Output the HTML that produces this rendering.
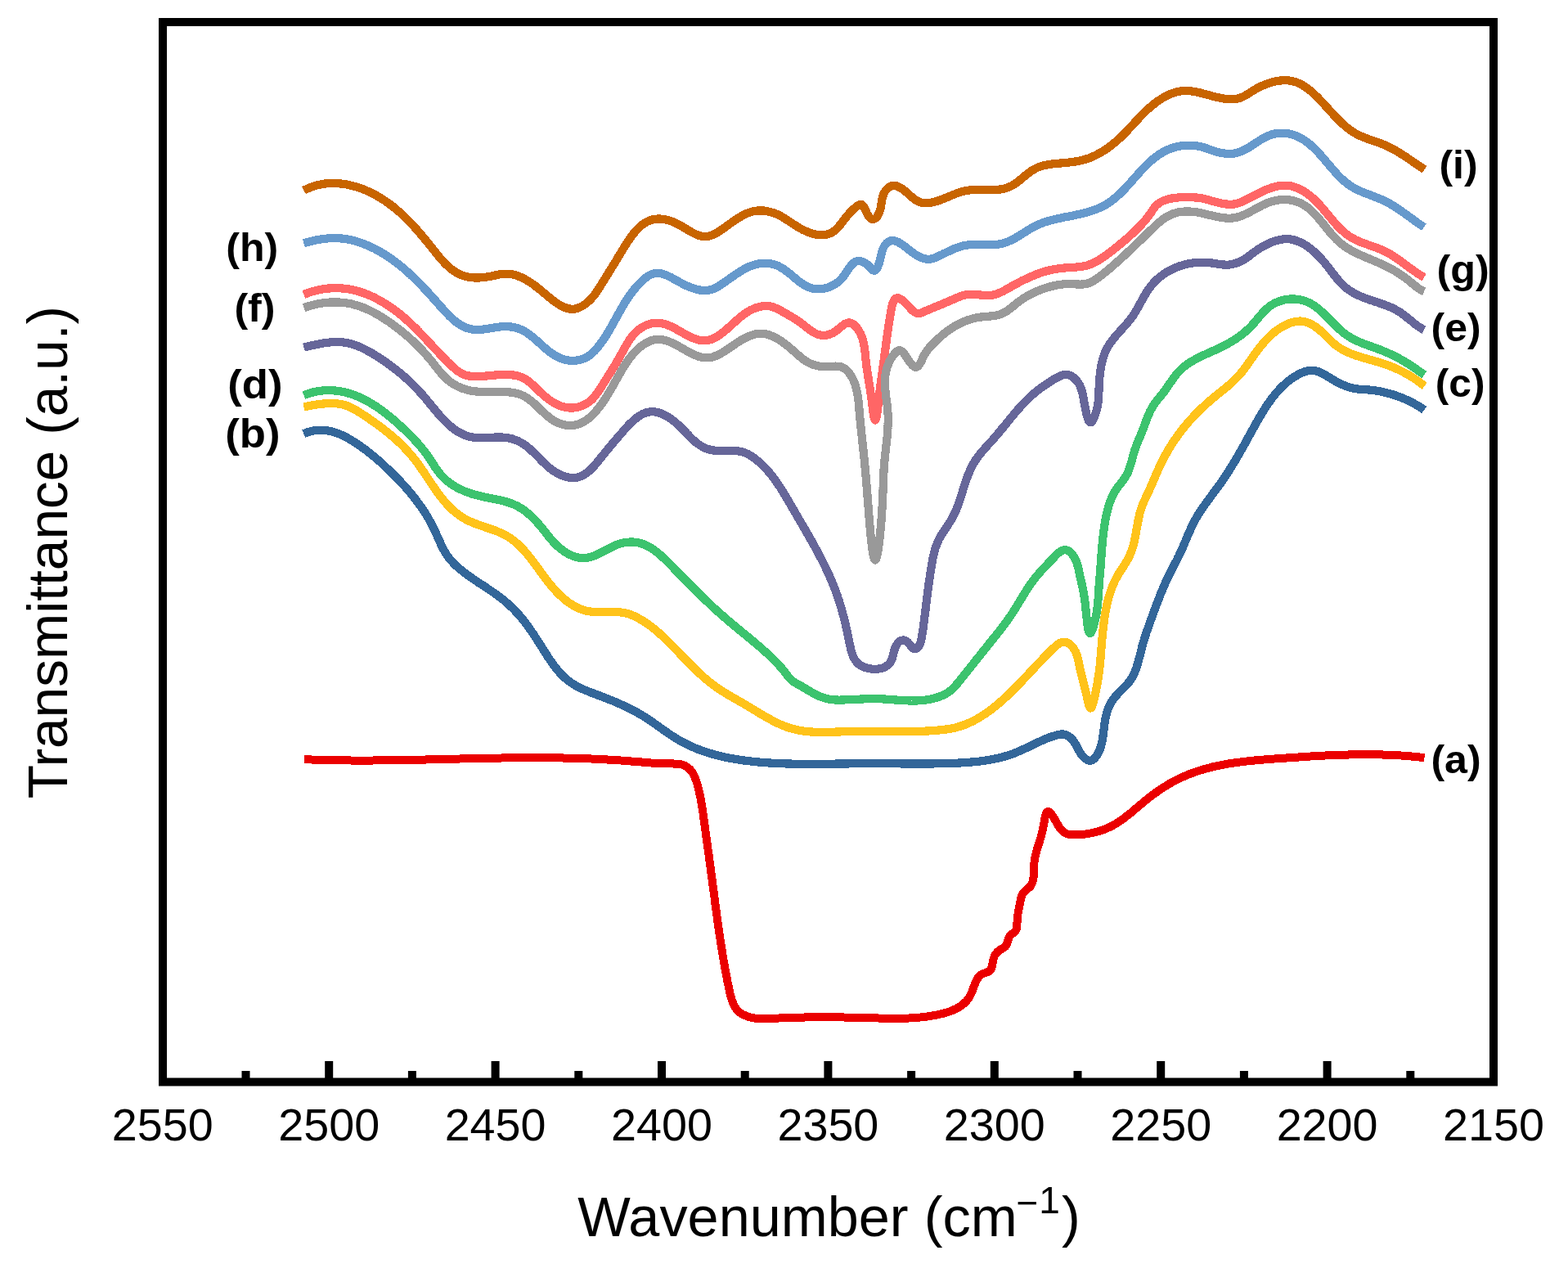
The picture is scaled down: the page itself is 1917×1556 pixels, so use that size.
<!DOCTYPE html>
<html><head><meta charset="utf-8"><title>FTIR spectra</title>
<style>html,body{margin:0;padding:0;background:#fff;}svg{display:block;}</style></head>
<body><svg width="1917" height="1556" viewBox="0 0 1917 1556">
<rect width="1917" height="1556" fill="#fff"/>
<g><path d="M372.1,928.1 L373.6,928.2 L375.1,928.3 L376.6,928.3 L378.1,928.4 L379.6,928.4 L381.1,928.5 L382.6,928.5 L384.1,928.6 L385.6,928.6 L387.1,928.7 L388.6,928.7 L390.1,928.8 L391.6,928.8 L393.1,928.9 L394.6,928.9 L396.1,928.9 L397.6,929.0 L399.1,929.0 L400.6,929.1 L402.1,929.1 L403.6,929.1 L405.1,929.1 L406.6,929.2 L408.1,929.2 L409.6,929.2 L411.1,929.3 L412.6,929.3 L414.1,929.3 L415.6,929.3 L417.1,929.3 L418.6,929.4 L420.1,929.4 L421.6,929.4 L423.1,929.4 L424.6,929.4 L426.1,929.4 L427.6,929.4 L429.1,929.5 L430.6,929.5 L432.1,929.5 L433.6,929.5 L435.1,929.5 L436.6,929.5 L438.1,929.5 L439.6,929.5 L441.1,929.5 L442.6,929.5 L444.1,929.5 L445.6,929.5 L447.1,929.5 L448.6,929.5 L450.1,929.5 L451.6,929.5 L453.1,929.5 L454.6,929.5 L456.1,929.5 L457.6,929.4 L459.1,929.4 L460.6,929.4 L462.1,929.4 L463.6,929.4 L465.1,929.4 L466.6,929.4 L468.1,929.4 L469.6,929.3 L471.1,929.3 L472.6,929.3 L474.1,929.3 L475.6,929.3 L477.1,929.3 L478.6,929.2 L480.1,929.2 L481.6,929.2 L483.1,929.2 L484.6,929.2 L486.1,929.1 L487.6,929.1 L489.1,929.1 L490.5,929.1 L492.0,929.0 L493.5,929.0 L495.0,929.0 L496.5,928.9 L498.0,928.9 L499.5,928.9 L501.0,928.9 L502.5,928.8 L504.0,928.8 L505.5,928.8 L507.0,928.7 L508.5,928.7 L510.0,928.7 L511.5,928.7 L513.0,928.6 L514.5,928.6 L516.0,928.6 L517.5,928.5 L519.0,928.5 L520.5,928.5 L522.0,928.4 L523.5,928.4 L525.0,928.4 L526.5,928.3 L528.0,928.3 L529.5,928.3 L531.0,928.2 L532.5,928.2 L534.0,928.1 L535.5,928.1 L537.0,928.1 L538.5,928.0 L540.0,928.0 L541.5,928.0 L542.9,927.9 L544.4,927.9 L545.9,927.9 L547.4,927.8 L548.9,927.8 L550.4,927.8 L551.9,927.7 L553.4,927.7 L554.9,927.7 L556.4,927.6 L557.9,927.6 L559.4,927.5 L560.9,927.5 L562.4,927.5 L563.9,927.4 L565.4,927.4 L566.9,927.4 L568.4,927.3 L569.9,927.3 L571.4,927.3 L572.9,927.2 L574.4,927.2 L575.9,927.2 L577.4,927.1 L578.9,927.1 L580.4,927.1 L581.9,927.0 L583.4,927.0 L584.9,927.0 L586.4,926.9 L587.9,926.9 L589.4,926.9 L590.9,926.9 L592.3,926.8 L593.8,926.8 L595.3,926.8 L596.8,926.7 L598.3,926.7 L599.8,926.7 L601.3,926.7 L602.8,926.6 L604.3,926.6 L605.8,926.6 L607.3,926.6 L608.8,926.5 L610.3,926.5 L611.8,926.5 L613.3,926.5 L614.8,926.4 L616.3,926.4 L617.8,926.4 L619.3,926.4 L620.8,926.4 L622.3,926.3 L623.8,926.3 L625.3,926.3 L626.8,926.3 L628.3,926.3 L629.8,926.3 L631.3,926.2 L632.8,926.2 L634.3,926.2 L635.8,926.2 L637.3,926.2 L638.8,926.2 L640.3,926.2 L641.8,926.2 L643.3,926.2 L644.8,926.2 L646.3,926.2 L647.8,926.2 L649.3,926.2 L650.8,926.2 L652.3,926.2 L653.8,926.2 L655.3,926.2 L656.8,926.2 L658.3,926.2 L659.8,926.2 L661.3,926.2 L662.8,926.2 L664.2,926.2 L665.7,926.2 L667.2,926.2 L668.7,926.2 L670.2,926.2 L671.7,926.2 L673.2,926.2 L674.7,926.3 L676.2,926.3 L677.7,926.3 L679.2,926.3 L680.7,926.3 L682.2,926.4 L683.7,926.4 L685.2,926.4 L686.7,926.4 L688.2,926.5 L689.7,926.5 L691.2,926.5 L692.7,926.6 L694.2,926.6 L695.7,926.6 L697.2,926.7 L698.7,926.7 L700.2,926.7 L701.7,926.8 L703.2,926.8 L704.7,926.9 L706.2,926.9 L707.7,926.9 L709.2,927.0 L710.8,927.0 L712.3,927.1 L713.8,927.1 L715.3,927.2 L716.8,927.3 L718.3,927.3 L719.8,927.4 L721.3,927.4 L722.8,927.5 L724.3,927.6 L725.8,927.6 L727.3,927.7 L728.8,927.8 L730.3,927.8 L731.8,927.9 L733.3,928.0 L734.8,928.1 L736.3,928.1 L737.8,928.2 L739.3,928.3 L740.8,928.4 L742.3,928.5 L743.8,928.6 L745.3,928.6 L746.8,928.7 L748.3,928.8 L749.8,928.9 L751.3,929.0 L752.8,929.1 L754.3,929.2 L755.8,929.3 L757.3,929.4 L758.8,929.5 L760.3,929.6 L761.8,929.8 L763.3,929.9 L764.8,930.0 L766.4,930.1 L767.9,930.2 L769.4,930.3 L770.9,930.4 L772.3,930.6 L773.8,930.7 L775.3,930.8 L776.8,930.9 L778.3,931.1 L779.8,931.2 L781.3,931.3 L782.8,931.4 L784.2,931.5 L785.7,931.7 L787.2,931.8 L788.6,931.9 L790.1,932.0 L791.6,932.1 L793.0,932.2 L794.5,932.4 L795.9,932.5 L797.4,932.6 L798.8,932.7 L800.3,932.8 L801.8,932.9 L803.2,933.0 L804.7,933.0 L806.2,933.1 L807.7,933.2 L809.2,933.2 L810.7,933.3 L812.3,933.3 L813.8,933.4 L815.4,933.4 L817.0,933.4 L818.5,933.4 L820.2,933.4 L821.8,933.4 L823.4,933.5 L824.9,933.5 L826.5,933.6 L828.1,933.7 L829.6,933.9 L831.1,934.1 L832.6,934.4 L834.0,934.7 L835.3,935.2 L836.6,935.7 L837.9,936.2 L839.1,936.9 L840.2,937.7 L841.3,938.5 L842.3,939.4 L843.3,940.3 L844.2,941.3 L845.1,942.4 L845.9,943.5 L846.7,944.7 L847.4,946.0 L848.1,947.3 L848.8,948.6 L849.4,949.9 L850.0,951.3 L850.6,952.8 L851.1,954.2 L851.6,955.7 L852.1,957.2 L852.6,958.7 L853.0,960.3 L853.4,961.8 L853.8,963.4 L854.2,964.9 L854.5,966.5 L854.9,968.0 L855.2,969.5 L855.5,971.1 L855.9,972.6 L856.2,974.1 L856.5,975.6 L856.7,977.1 L857.0,978.6 L857.3,980.1 L857.6,981.6 L857.8,983.0 L858.1,984.5 L858.3,986.0 L858.5,987.5 L858.8,988.9 L859.0,990.4 L859.2,991.8 L859.4,993.3 L859.6,994.7 L859.8,996.2 L860.0,997.6 L860.2,999.1 L860.4,1000.5 L860.6,1002.0 L860.8,1003.4 L861.0,1004.9 L861.2,1006.3 L861.4,1007.8 L861.6,1009.2 L861.8,1010.7 L862.0,1012.2 L862.2,1013.6 L862.4,1015.1 L862.6,1016.6 L862.8,1018.0 L863.0,1019.5 L863.2,1021.0 L863.4,1022.5 L863.6,1023.9 L863.8,1025.4 L864.0,1026.9 L864.2,1028.4 L864.4,1029.9 L864.6,1031.4 L864.8,1032.8 L865.0,1034.3 L865.2,1035.8 L865.4,1037.3 L865.6,1038.8 L865.8,1040.3 L866.0,1041.8 L866.2,1043.3 L866.5,1044.8 L866.7,1046.3 L866.9,1047.8 L867.1,1049.3 L867.3,1050.8 L867.5,1052.3 L867.7,1053.8 L867.9,1055.3 L868.1,1056.8 L868.3,1058.3 L868.5,1059.8 L868.7,1061.3 L868.9,1062.8 L869.1,1064.3 L869.3,1065.8 L869.5,1067.3 L869.7,1068.8 L869.9,1070.3 L870.1,1071.8 L870.3,1073.3 L870.5,1074.8 L870.7,1076.3 L870.9,1077.8 L871.1,1079.3 L871.3,1080.8 L871.5,1082.3 L871.7,1083.8 L871.9,1085.3 L872.1,1086.7 L872.3,1088.2 L872.5,1089.7 L872.7,1091.2 L872.9,1092.7 L873.1,1094.2 L873.3,1095.7 L873.5,1097.1 L873.7,1098.6 L873.8,1100.1 L874.0,1101.6 L874.2,1103.0 L874.4,1104.5 L874.6,1106.0 L874.8,1107.5 L875.0,1108.9 L875.2,1110.4 L875.4,1111.9 L875.6,1113.4 L875.8,1114.8 L876.0,1116.3 L876.2,1117.8 L876.4,1119.3 L876.6,1120.7 L876.8,1122.2 L877.0,1123.7 L877.2,1125.1 L877.4,1126.6 L877.6,1128.1 L877.8,1129.5 L878.0,1131.0 L878.2,1132.5 L878.4,1134.0 L878.7,1135.4 L878.9,1136.9 L879.1,1138.4 L879.3,1139.8 L879.5,1141.3 L879.7,1142.8 L879.9,1144.2 L880.2,1145.7 L880.4,1147.2 L880.6,1148.6 L880.8,1150.1 L881.0,1151.6 L881.3,1153.1 L881.5,1154.5 L881.7,1156.0 L882.0,1157.5 L882.2,1159.0 L882.4,1160.4 L882.7,1161.9 L882.9,1163.4 L883.1,1164.9 L883.4,1166.3 L883.6,1167.8 L883.9,1169.3 L884.1,1170.8 L884.4,1172.3 L884.6,1173.7 L884.9,1175.2 L885.1,1176.7 L885.4,1178.2 L885.7,1179.7 L885.9,1181.2 L886.2,1182.6 L886.5,1184.1 L886.7,1185.6 L887.0,1187.1 L887.3,1188.6 L887.6,1190.1 L887.9,1191.6 L888.2,1193.1 L888.5,1194.6 L888.7,1196.1 L889.0,1197.6 L889.3,1199.1 L889.6,1200.6 L890.0,1202.1 L890.3,1203.6 L890.6,1205.1 L890.9,1206.6 L891.2,1208.2 L891.5,1209.7 L891.9,1211.2 L892.2,1212.7 L892.5,1214.2 L892.9,1215.7 L893.3,1217.2 L893.7,1218.7 L894.1,1220.1 L894.5,1221.6 L895.0,1223.0 L895.5,1224.4 L896.1,1225.8 L896.6,1227.1 L897.3,1228.4 L897.9,1229.7 L898.7,1230.9 L899.4,1232.1 L900.3,1233.3 L901.2,1234.4 L902.1,1235.4 L903.1,1236.4 L904.2,1237.3 L905.4,1238.2 L906.6,1239.0 L907.9,1239.8 L909.2,1240.5 L910.6,1241.1 L912.0,1241.7 L913.4,1242.3 L914.9,1242.7 L916.3,1243.2 L917.8,1243.6 L919.3,1243.9 L920.8,1244.2 L922.2,1244.5 L923.7,1244.7 L925.2,1244.9 L926.7,1245.0 L928.2,1245.1 L929.6,1245.2 L931.1,1245.2 L932.6,1245.3 L934.1,1245.3 L935.6,1245.3 L937.1,1245.2 L938.6,1245.2 L940.1,1245.1 L941.6,1245.1 L943.1,1245.0 L944.6,1244.9 L946.1,1244.8 L947.7,1244.8 L949.2,1244.7 L950.7,1244.6 L952.2,1244.5 L953.7,1244.4 L955.2,1244.4 L956.7,1244.3 L958.2,1244.2 L959.7,1244.2 L961.2,1244.1 L962.7,1244.1 L964.2,1244.0 L965.7,1243.9 L967.2,1243.9 L968.7,1243.8 L970.2,1243.8 L971.7,1243.7 L973.2,1243.7 L974.8,1243.7 L976.3,1243.6 L977.8,1243.6 L979.3,1243.6 L980.8,1243.5 L982.3,1243.5 L983.8,1243.5 L985.3,1243.4 L986.8,1243.4 L988.3,1243.4 L989.8,1243.4 L991.3,1243.3 L992.8,1243.3 L994.3,1243.3 L995.8,1243.3 L997.3,1243.3 L998.8,1243.3 L1000.3,1243.3 L1001.8,1243.3 L1003.3,1243.3 L1004.8,1243.3 L1006.4,1243.3 L1007.9,1243.3 L1009.4,1243.3 L1010.9,1243.3 L1012.4,1243.3 L1013.9,1243.3 L1015.4,1243.3 L1016.9,1243.3 L1018.4,1243.3 L1019.9,1243.3 L1021.4,1243.3 L1022.9,1243.3 L1024.4,1243.4 L1025.9,1243.4 L1027.4,1243.4 L1028.9,1243.4 L1030.4,1243.4 L1031.9,1243.5 L1033.4,1243.5 L1034.9,1243.5 L1036.4,1243.5 L1037.9,1243.6 L1039.4,1243.6 L1040.9,1243.6 L1042.4,1243.7 L1043.9,1243.7 L1045.4,1243.7 L1046.9,1243.8 L1048.4,1243.8 L1049.9,1243.8 L1051.4,1243.9 L1052.9,1243.9 L1054.4,1243.9 L1055.9,1244.0 L1057.4,1244.0 L1058.8,1244.0 L1060.3,1244.1 L1061.8,1244.1 L1063.3,1244.2 L1064.8,1244.2 L1066.3,1244.3 L1067.8,1244.3 L1069.3,1244.3 L1070.8,1244.4 L1072.3,1244.4 L1073.8,1244.5 L1075.3,1244.5 L1076.8,1244.5 L1078.3,1244.6 L1079.7,1244.6 L1081.2,1244.6 L1082.7,1244.7 L1084.2,1244.7 L1085.7,1244.7 L1087.2,1244.8 L1088.7,1244.8 L1090.2,1244.8 L1091.7,1244.8 L1093.2,1244.8 L1094.6,1244.8 L1096.1,1244.8 L1097.6,1244.8 L1099.1,1244.8 L1100.6,1244.8 L1102.1,1244.8 L1103.6,1244.7 L1105.1,1244.7 L1106.6,1244.6 L1108.0,1244.6 L1109.5,1244.5 L1111.0,1244.5 L1112.5,1244.4 L1114.0,1244.3 L1115.5,1244.2 L1117.0,1244.2 L1118.5,1244.1 L1120.0,1243.9 L1121.5,1243.8 L1123.0,1243.7 L1124.4,1243.6 L1125.9,1243.4 L1127.4,1243.3 L1128.9,1243.1 L1130.4,1242.9 L1131.9,1242.7 L1133.4,1242.5 L1134.9,1242.3 L1136.4,1242.1 L1137.9,1241.8 L1139.4,1241.6 L1140.9,1241.3 L1142.4,1241.1 L1143.9,1240.8 L1145.4,1240.5 L1146.9,1240.2 L1148.4,1239.8 L1149.9,1239.5 L1151.3,1239.1 L1152.8,1238.8 L1154.3,1238.4 L1155.8,1238.0 L1157.3,1237.5 L1158.7,1237.1 L1160.1,1236.6 L1161.6,1236.1 L1163.0,1235.6 L1164.4,1235.0 L1165.8,1234.4 L1167.1,1233.8 L1168.4,1233.2 L1169.8,1232.5 L1171.0,1231.8 L1172.3,1231.1 L1173.5,1230.3 L1174.7,1229.5 L1175.9,1228.6 L1177.1,1227.7 L1178.2,1226.8 L1179.2,1225.8 L1180.3,1224.8 L1181.3,1223.8 L1182.2,1222.7 L1183.1,1221.5 L1184.0,1220.3 L1184.8,1219.1 L1185.6,1217.8 L1186.3,1216.5 L1187.0,1215.1 L1187.7,1213.7 L1188.3,1212.2 L1188.9,1210.7 L1189.4,1209.2 L1190.0,1207.7 L1190.6,1206.2 L1191.1,1204.7 L1191.7,1203.3 L1192.3,1201.8 L1192.9,1200.4 L1193.5,1199.0 L1194.2,1197.7 L1195.0,1196.4 L1195.7,1195.2 L1196.6,1194.1 L1197.5,1193.1 L1198.5,1192.2 L1199.6,1191.4 L1200.8,1190.6 L1202.1,1190.0 L1203.4,1189.5 L1204.8,1189.1 L1206.2,1188.6 L1207.5,1188.1 L1208.7,1187.5 L1209.8,1186.8 L1210.6,1185.8 L1211.4,1184.8 L1212.0,1183.5 L1212.4,1182.2 L1212.8,1180.8 L1213.2,1179.3 L1213.5,1177.8 L1213.8,1176.2 L1214.1,1174.6 L1214.4,1173.0 L1214.8,1171.5 L1215.3,1170.0 L1215.9,1168.5 L1216.6,1167.2 L1217.5,1165.9 L1218.4,1164.7 L1219.4,1163.6 L1220.5,1162.6 L1221.7,1161.7 L1222.9,1160.9 L1224.2,1160.1 L1225.5,1159.4 L1226.8,1158.7 L1227.9,1157.9 L1229.0,1157.0 L1229.8,1155.9 L1230.5,1154.6 L1231.1,1153.3 L1231.6,1151.9 L1232.0,1150.4 L1232.5,1149.0 L1232.9,1147.5 L1233.4,1146.2 L1234.0,1144.9 L1234.7,1143.7 L1235.5,1142.7 L1236.6,1141.9 L1237.7,1141.2 L1238.9,1140.5 L1240.0,1139.8 L1240.9,1138.9 L1241.6,1137.9 L1242.2,1136.8 L1242.6,1135.5 L1243.0,1134.1 L1243.2,1132.6 L1243.3,1131.1 L1243.4,1129.5 L1243.5,1127.9 L1243.6,1126.3 L1243.6,1124.7 L1243.7,1123.1 L1243.9,1121.6 L1244.0,1120.0 L1244.3,1118.5 L1244.5,1117.1 L1244.7,1115.6 L1245.0,1114.1 L1245.3,1112.7 L1245.6,1111.2 L1245.9,1109.7 L1246.2,1108.2 L1246.5,1106.7 L1246.8,1105.2 L1247.1,1103.7 L1247.4,1102.1 L1247.7,1100.6 L1248.0,1099.0 L1248.4,1097.5 L1248.8,1096.0 L1249.3,1094.6 L1249.9,1093.3 L1250.6,1092.0 L1251.4,1090.8 L1252.3,1089.8 L1253.3,1088.8 L1254.5,1087.9 L1255.6,1087.0 L1256.7,1086.1 L1257.9,1085.2 L1258.9,1084.2 L1259.8,1083.2 L1260.6,1082.0 L1261.3,1080.8 L1261.9,1079.5 L1262.4,1078.1 L1262.8,1076.6 L1263.1,1075.1 L1263.4,1073.6 L1263.6,1072.0 L1263.7,1070.4 L1263.8,1068.7 L1263.9,1067.0 L1264.0,1065.4 L1264.0,1063.7 L1264.0,1062.0 L1264.1,1060.4 L1264.2,1058.7 L1264.3,1057.1 L1264.4,1055.6 L1264.5,1054.1 L1264.7,1052.6 L1264.9,1051.1 L1265.2,1049.7 L1265.4,1048.3 L1265.7,1046.9 L1266.0,1045.5 L1266.3,1044.2 L1266.6,1042.8 L1267.0,1041.5 L1267.4,1040.1 L1267.7,1038.8 L1268.1,1037.5 L1268.5,1036.2 L1269.0,1034.8 L1269.4,1033.5 L1269.8,1032.1 L1270.2,1030.8 L1270.7,1029.4 L1271.1,1028.0 L1271.5,1026.5 L1272.0,1025.1 L1272.4,1023.6 L1272.8,1022.1 L1273.3,1020.6 L1273.7,1019.0 L1274.1,1017.4 L1274.5,1015.7 L1274.9,1014.0 L1275.2,1012.2 L1275.6,1010.4 L1275.9,1008.5 L1276.2,1006.6 L1276.6,1004.7 L1276.9,1002.8 L1277.2,1001.0 L1277.5,999.2 L1277.9,997.6 L1278.3,996.1 L1278.7,994.8 L1279.2,993.7 L1279.7,992.8 L1280.3,992.2 L1281.0,991.9 L1281.7,991.9 L1282.5,992.2 L1283.3,992.9 L1284.2,993.8 L1285.2,994.9 L1286.1,996.2 L1287.0,997.5 L1287.9,998.8 L1288.7,1000.2 L1289.6,1001.6 L1290.4,1003.1 L1291.2,1004.5 L1292.0,1005.9 L1292.8,1007.3 L1293.6,1008.7 L1294.5,1010.0 L1295.3,1011.3 L1296.2,1012.6 L1297.2,1013.7 L1298.1,1014.8 L1299.1,1015.9 L1300.2,1016.8 L1301.3,1017.6 L1302.5,1018.4 L1303.7,1019.0 L1305.0,1019.5 L1306.4,1019.8 L1307.8,1020.1 L1309.3,1020.3 L1310.8,1020.4 L1312.3,1020.4 L1313.9,1020.4 L1315.4,1020.4 L1317.0,1020.3 L1318.5,1020.3 L1320.1,1020.2 L1321.6,1020.0 L1323.2,1019.9 L1324.7,1019.7 L1326.2,1019.6 L1327.8,1019.4 L1329.3,1019.1 L1330.8,1018.9 L1332.3,1018.6 L1333.8,1018.4 L1335.2,1018.0 L1336.7,1017.7 L1338.2,1017.4 L1339.7,1017.0 L1341.1,1016.6 L1342.6,1016.2 L1344.0,1015.8 L1345.4,1015.4 L1346.8,1014.9 L1348.2,1014.4 L1349.6,1013.9 L1351.0,1013.3 L1352.4,1012.8 L1353.7,1012.2 L1355.1,1011.6 L1356.4,1011.0 L1357.8,1010.4 L1359.1,1009.7 L1360.4,1009.0 L1361.7,1008.3 L1362.9,1007.6 L1364.2,1006.8 L1365.5,1006.1 L1366.7,1005.3 L1368.0,1004.5 L1369.2,1003.6 L1370.4,1002.8 L1371.6,1002.0 L1372.8,1001.1 L1374.0,1000.2 L1375.2,999.3 L1376.4,998.4 L1377.5,997.5 L1378.7,996.6 L1379.9,995.7 L1381.0,994.7 L1382.2,993.8 L1383.4,992.8 L1384.5,991.8 L1385.7,990.9 L1386.8,989.9 L1388.0,988.9 L1389.1,988.0 L1390.3,987.0 L1391.4,986.0 L1392.6,985.0 L1393.7,984.0 L1394.9,983.1 L1396.0,982.1 L1397.2,981.1 L1398.4,980.2 L1399.5,979.2 L1400.7,978.2 L1401.9,977.3 L1403.1,976.3 L1404.3,975.4 L1405.4,974.5 L1406.6,973.5 L1407.9,972.6 L1409.1,971.7 L1410.3,970.8 L1411.5,969.9 L1412.7,969.0 L1414.0,968.2 L1415.2,967.3 L1416.4,966.4 L1417.7,965.6 L1418.9,964.8 L1420.2,963.9 L1421.5,963.1 L1422.7,962.3 L1424.0,961.5 L1425.3,960.7 L1426.6,959.9 L1427.9,959.1 L1429.1,958.4 L1430.4,957.6 L1431.7,956.9 L1433.0,956.1 L1434.4,955.4 L1435.7,954.7 L1437.0,954.0 L1438.3,953.3 L1439.6,952.7 L1441.0,952.0 L1442.3,951.3 L1443.7,950.7 L1445.0,950.1 L1446.4,949.5 L1447.7,948.9 L1449.1,948.3 L1450.4,947.7 L1451.8,947.1 L1453.2,946.6 L1454.6,946.0 L1456.0,945.5 L1457.3,945.0 L1458.7,944.5 L1460.1,944.0 L1461.5,943.5 L1462.9,943.0 L1464.3,942.5 L1465.7,942.1 L1467.1,941.6 L1468.6,941.2 L1470.0,940.8 L1471.4,940.3 L1472.8,939.9 L1474.2,939.5 L1475.7,939.2 L1477.1,938.8 L1478.6,938.4 L1480.0,938.0 L1481.4,937.7 L1482.9,937.3 L1484.3,937.0 L1485.8,936.7 L1487.2,936.3 L1488.7,936.0 L1490.1,935.7 L1491.6,935.4 L1493.1,935.1 L1494.5,934.8 L1496.0,934.6 L1497.5,934.3 L1499.0,934.0 L1500.4,933.8 L1501.9,933.5 L1503.4,933.3 L1504.9,933.1 L1506.3,932.8 L1507.8,932.6 L1509.3,932.4 L1510.8,932.2 L1512.3,932.0 L1513.8,931.8 L1515.3,931.6 L1516.8,931.4 L1518.3,931.2 L1519.8,931.0 L1521.3,930.8 L1522.8,930.6 L1524.3,930.5 L1525.8,930.3 L1527.3,930.1 L1528.8,930.0 L1530.3,929.8 L1531.8,929.7 L1533.3,929.5 L1534.8,929.4 L1536.3,929.3 L1537.8,929.1 L1539.3,929.0 L1540.8,928.9 L1542.3,928.7 L1543.8,928.6 L1545.3,928.5 L1546.9,928.4 L1548.4,928.2 L1549.9,928.1 L1551.4,928.0 L1552.9,927.9 L1554.4,927.8 L1555.9,927.7 L1557.4,927.6 L1558.9,927.4 L1560.4,927.3 L1561.9,927.2 L1563.4,927.1 L1565.0,927.0 L1566.5,926.9 L1568.0,926.8 L1569.5,926.7 L1571.0,926.6 L1572.5,926.5 L1574.0,926.4 L1575.5,926.3 L1577.0,926.2 L1578.5,926.1 L1580.0,926.0 L1581.5,925.9 L1583.0,925.8 L1584.5,925.7 L1586.0,925.6 L1587.5,925.5 L1589.0,925.4 L1590.5,925.3 L1592.0,925.2 L1593.5,925.1 L1595.0,925.0 L1596.5,924.9 L1598.0,924.8 L1599.4,924.7 L1600.9,924.6 L1602.4,924.5 L1603.9,924.4 L1605.4,924.3 L1606.9,924.2 L1608.4,924.2 L1609.9,924.1 L1611.4,924.0 L1612.9,923.9 L1614.4,923.8 L1615.9,923.7 L1617.4,923.7 L1618.8,923.6 L1620.3,923.5 L1621.8,923.4 L1623.3,923.4 L1624.8,923.3 L1626.3,923.2 L1627.8,923.2 L1629.3,923.1 L1630.8,923.0 L1632.2,923.0 L1633.7,922.9 L1635.2,922.9 L1636.7,922.8 L1638.2,922.8 L1639.7,922.7 L1641.2,922.7 L1642.7,922.6 L1644.2,922.6 L1645.6,922.5 L1647.1,922.5 L1648.6,922.5 L1650.1,922.4 L1651.6,922.4 L1653.1,922.4 L1654.6,922.3 L1656.1,922.3 L1657.6,922.3 L1659.0,922.3 L1660.5,922.2 L1662.0,922.2 L1663.5,922.2 L1665.0,922.2 L1666.5,922.2 L1668.0,922.2 L1669.5,922.2 L1671.0,922.2 L1672.5,922.2 L1673.9,922.2 L1675.4,922.2 L1676.9,922.2 L1678.4,922.2 L1679.9,922.3 L1681.4,922.3 L1682.9,922.3 L1684.4,922.3 L1685.9,922.4 L1687.4,922.4 L1688.9,922.4 L1690.4,922.5 L1691.9,922.5 L1693.4,922.6 L1694.8,922.6 L1696.3,922.7 L1697.8,922.7 L1699.3,922.8 L1700.8,922.9 L1702.3,922.9 L1703.8,923.0 L1705.3,923.1 L1706.8,923.2 L1708.3,923.2 L1709.8,923.3 L1711.3,923.4 L1712.8,923.5 L1714.3,923.6 L1715.8,923.7 L1717.3,923.8 L1718.8,923.9 L1720.3,924.1 L1721.8,924.2 L1723.4,924.3 L1724.9,924.4 L1726.4,924.6 L1727.9,924.7 L1729.4,924.8 L1730.9,925.0 L1732.4,925.1 L1733.9,925.3 L1735.4,925.5 L1736.9,925.6 L1738.4,925.8 L1740.0,926.0 L1741.5,926.1" stroke="#EB0000" stroke-width="10" fill="none" stroke-linejoin="round" shape-rendering="crispEdges"/><path d="M371.3,530.2 L372.9,529.5 L374.5,528.9 L376.0,528.3 L377.6,527.8 L379.1,527.4 L380.6,527.0 L382.1,526.6 L383.6,526.3 L385.2,526.1 L386.7,525.9 L388.2,525.8 L389.6,525.7 L391.1,525.6 L392.6,525.6 L394.1,525.6 L395.5,525.7 L397.0,525.9 L398.4,526.0 L399.9,526.2 L401.3,526.5 L402.7,526.7 L404.2,527.1 L405.6,527.4 L407.0,527.8 L408.4,528.2 L409.8,528.7 L411.2,529.1 L412.5,529.6 L413.9,530.2 L415.3,530.7 L416.6,531.3 L418.0,531.9 L419.3,532.6 L420.7,533.2 L422.0,533.9 L423.3,534.6 L424.7,535.3 L426.0,536.0 L427.3,536.8 L428.6,537.5 L429.9,538.3 L431.2,539.1 L432.4,539.9 L433.7,540.7 L435.0,541.5 L436.2,542.3 L437.5,543.2 L438.7,544.0 L440.0,544.9 L441.2,545.7 L442.4,546.6 L443.6,547.5 L444.9,548.4 L446.1,549.3 L447.3,550.2 L448.5,551.1 L449.6,552.0 L450.8,552.9 L452.0,553.9 L453.2,554.8 L454.4,555.7 L455.5,556.7 L456.7,557.7 L457.8,558.6 L459.0,559.6 L460.1,560.6 L461.3,561.6 L462.4,562.5 L463.5,563.5 L464.7,564.5 L465.8,565.5 L466.9,566.5 L468.0,567.6 L469.1,568.6 L470.2,569.6 L471.3,570.6 L472.4,571.7 L473.5,572.7 L474.6,573.7 L475.7,574.8 L476.8,575.8 L477.8,576.9 L478.9,577.9 L480.0,579.0 L481.1,580.0 L482.1,581.1 L483.2,582.1 L484.2,583.2 L485.3,584.3 L486.3,585.4 L487.4,586.4 L488.4,587.5 L489.4,588.6 L490.5,589.7 L491.5,590.8 L492.5,591.9 L493.5,593.0 L494.5,594.1 L495.5,595.2 L496.5,596.4 L497.5,597.5 L498.5,598.6 L499.4,599.8 L500.4,600.9 L501.4,602.0 L502.3,603.2 L503.3,604.3 L504.2,605.5 L505.1,606.7 L506.1,607.8 L507.0,609.0 L507.9,610.2 L508.8,611.4 L509.7,612.6 L510.6,613.8 L511.5,615.0 L512.4,616.2 L513.2,617.4 L514.1,618.6 L514.9,619.8 L515.8,621.1 L516.6,622.3 L517.4,623.5 L518.3,624.8 L519.1,626.0 L519.9,627.3 L520.7,628.6 L521.5,629.8 L522.2,631.1 L523.0,632.4 L523.8,633.7 L524.5,635.0 L525.2,636.3 L526.0,637.6 L526.7,638.9 L527.4,640.3 L528.1,641.6 L528.8,642.9 L529.5,644.3 L530.1,645.6 L530.8,647.0 L531.5,648.4 L532.1,649.7 L532.7,651.1 L533.3,652.5 L534.0,653.9 L534.6,655.3 L535.2,656.7 L535.8,658.1 L536.4,659.5 L537.0,660.8 L537.7,662.2 L538.3,663.6 L538.9,665.0 L539.6,666.3 L540.2,667.7 L540.9,669.1 L541.6,670.4 L542.3,671.7 L543.0,673.0 L543.8,674.3 L544.5,675.6 L545.3,676.9 L546.1,678.1 L547.0,679.4 L547.8,680.6 L548.7,681.7 L549.7,682.9 L550.6,684.1 L551.6,685.2 L552.6,686.3 L553.6,687.4 L554.6,688.5 L555.7,689.6 L556.8,690.6 L557.8,691.6 L559.0,692.7 L560.1,693.7 L561.2,694.7 L562.4,695.6 L563.5,696.6 L564.7,697.5 L565.9,698.5 L567.1,699.4 L568.3,700.3 L569.5,701.2 L570.7,702.1 L571.9,703.0 L573.1,703.9 L574.4,704.8 L575.6,705.6 L576.8,706.5 L578.1,707.4 L579.3,708.2 L580.5,709.0 L581.8,709.9 L583.0,710.7 L584.3,711.5 L585.5,712.4 L586.8,713.2 L588.0,714.0 L589.3,714.8 L590.5,715.6 L591.8,716.5 L593.0,717.3 L594.2,718.1 L595.5,718.9 L596.7,719.8 L598.0,720.6 L599.2,721.4 L600.4,722.3 L601.7,723.1 L602.9,723.9 L604.1,724.8 L605.3,725.7 L606.6,726.5 L607.8,727.4 L609.0,728.3 L610.2,729.2 L611.4,730.1 L612.6,731.0 L613.7,731.9 L614.9,732.9 L616.1,733.8 L617.2,734.8 L618.4,735.8 L619.5,736.7 L620.7,737.7 L621.8,738.8 L622.9,739.8 L624.0,740.8 L625.1,741.9 L626.2,742.9 L627.3,744.0 L628.4,745.1 L629.4,746.2 L630.5,747.3 L631.5,748.4 L632.6,749.5 L633.6,750.6 L634.6,751.7 L635.5,752.9 L636.5,754.0 L637.5,755.2 L638.4,756.3 L639.4,757.5 L640.3,758.6 L641.2,759.8 L642.1,761.0 L643.0,762.2 L643.9,763.4 L644.8,764.6 L645.6,765.8 L646.5,767.0 L647.4,768.2 L648.2,769.4 L649.1,770.6 L649.9,771.8 L650.7,773.1 L651.6,774.3 L652.4,775.5 L653.2,776.8 L654.0,778.0 L654.8,779.3 L655.7,780.5 L656.5,781.8 L657.3,783.0 L658.1,784.3 L658.9,785.6 L659.7,786.8 L660.5,788.1 L661.3,789.4 L662.1,790.6 L662.9,791.9 L663.7,793.2 L664.5,794.4 L665.3,795.7 L666.1,797.0 L666.9,798.3 L667.8,799.6 L668.6,800.8 L669.4,802.1 L670.2,803.4 L671.1,804.7 L671.9,805.9 L672.8,807.2 L673.7,808.4 L674.5,809.7 L675.4,810.9 L676.3,812.1 L677.2,813.4 L678.1,814.6 L679.0,815.8 L679.9,816.9 L680.9,818.1 L681.8,819.3 L682.8,820.4 L683.8,821.5 L684.8,822.7 L685.8,823.7 L686.8,824.8 L687.9,825.9 L688.9,826.9 L690.0,827.9 L691.1,828.9 L692.2,829.9 L693.3,830.8 L694.5,831.8 L695.6,832.7 L696.8,833.5 L698.0,834.4 L699.3,835.2 L700.5,836.0 L701.8,836.8 L703.1,837.5 L704.4,838.3 L705.7,839.0 L707.0,839.7 L708.3,840.3 L709.7,841.0 L711.0,841.6 L712.4,842.3 L713.8,842.9 L715.2,843.5 L716.6,844.1 L718.0,844.6 L719.4,845.2 L720.8,845.8 L722.2,846.3 L723.7,846.9 L725.1,847.4 L726.5,848.0 L727.9,848.5 L729.4,849.0 L730.8,849.6 L732.2,850.1 L733.7,850.6 L735.1,851.1 L736.5,851.7 L737.9,852.2 L739.3,852.8 L740.7,853.3 L742.1,853.9 L743.5,854.4 L744.9,855.0 L746.3,855.5 L747.7,856.1 L749.0,856.6 L750.4,857.2 L751.8,857.8 L753.1,858.4 L754.5,859.0 L755.9,859.6 L757.2,860.1 L758.6,860.8 L759.9,861.4 L761.3,862.0 L762.6,862.6 L763.9,863.2 L765.3,863.9 L766.6,864.5 L767.9,865.1 L769.2,865.8 L770.6,866.5 L771.9,867.1 L773.2,867.8 L774.5,868.5 L775.8,869.2 L777.1,869.9 L778.4,870.6 L779.7,871.3 L781.0,872.1 L782.2,872.8 L783.5,873.6 L784.8,874.3 L786.1,875.1 L787.3,875.9 L788.6,876.7 L789.9,877.5 L791.1,878.3 L792.4,879.1 L793.6,879.9 L794.9,880.8 L796.1,881.6 L797.4,882.5 L798.6,883.4 L799.9,884.2 L801.1,885.1 L802.4,886.0 L803.6,886.9 L804.8,887.7 L806.1,888.6 L807.3,889.5 L808.6,890.4 L809.8,891.3 L811.0,892.2 L812.3,893.0 L813.5,893.9 L814.8,894.8 L816.0,895.7 L817.3,896.5 L818.6,897.4 L819.8,898.2 L821.1,899.1 L822.3,899.9 L823.6,900.7 L824.9,901.5 L826.2,902.3 L827.5,903.1 L828.8,903.9 L830.1,904.6 L831.4,905.4 L832.7,906.1 L834.0,906.8 L835.3,907.5 L836.6,908.2 L838.0,908.9 L839.3,909.6 L840.7,910.2 L842.0,910.9 L843.3,911.5 L844.7,912.1 L846.1,912.7 L847.4,913.3 L848.8,913.9 L850.2,914.5 L851.5,915.0 L852.9,915.6 L854.3,916.1 L855.7,916.6 L857.1,917.2 L858.5,917.7 L859.9,918.2 L861.3,918.6 L862.7,919.1 L864.1,919.6 L865.5,920.0 L867.0,920.5 L868.4,920.9 L869.8,921.3 L871.3,921.8 L872.7,922.2 L874.1,922.6 L875.6,922.9 L877.0,923.3 L878.5,923.7 L879.9,924.0 L881.4,924.4 L882.8,924.7 L884.3,925.1 L885.7,925.4 L887.2,925.7 L888.6,926.0 L890.1,926.3 L891.6,926.6 L893.1,926.9 L894.5,927.1 L896.0,927.4 L897.5,927.7 L899.0,927.9 L900.4,928.2 L901.9,928.4 L903.4,928.6 L904.9,928.9 L906.4,929.1 L907.9,929.3 L909.4,929.5 L910.9,929.7 L912.3,929.9 L913.8,930.1 L915.3,930.2 L916.8,930.4 L918.3,930.6 L919.8,930.7 L921.3,930.9 L922.8,931.0 L924.3,931.2 L925.8,931.3 L927.3,931.5 L928.8,931.6 L930.3,931.7 L931.8,931.8 L933.3,932.0 L934.8,932.1 L936.3,932.2 L937.8,932.3 L939.3,932.4 L940.8,932.5 L942.3,932.6 L943.8,932.6 L945.3,932.7 L946.8,932.8 L948.3,932.9 L949.8,933.0 L951.3,933.0 L952.8,933.1 L954.3,933.1 L955.8,933.2 L957.3,933.3 L958.8,933.3 L960.3,933.4 L961.8,933.4 L963.3,933.5 L964.8,933.5 L966.3,933.5 L967.8,933.6 L969.3,933.6 L970.8,933.6 L972.3,933.6 L973.8,933.7 L975.3,933.7 L976.8,933.7 L978.3,933.7 L979.8,933.7 L981.3,933.8 L982.8,933.8 L984.3,933.8 L985.8,933.8 L987.3,933.8 L988.8,933.8 L990.3,933.8 L991.8,933.8 L993.3,933.8 L994.8,933.8 L996.3,933.8 L997.8,933.8 L999.3,933.8 L1000.8,933.8 L1002.3,933.8 L1003.8,933.7 L1005.3,933.7 L1006.8,933.7 L1008.2,933.7 L1009.7,933.7 L1011.2,933.7 L1012.7,933.7 L1014.2,933.6 L1015.7,933.6 L1017.2,933.6 L1018.7,933.6 L1020.2,933.6 L1021.7,933.6 L1023.2,933.5 L1024.7,933.5 L1026.2,933.5 L1027.7,933.5 L1029.2,933.5 L1030.7,933.4 L1032.2,933.4 L1033.7,933.4 L1035.2,933.4 L1036.7,933.4 L1038.2,933.4 L1039.7,933.3 L1041.2,933.3 L1042.7,933.3 L1044.2,933.3 L1045.7,933.3 L1047.2,933.3 L1048.7,933.3 L1050.2,933.2 L1051.7,933.2 L1053.2,933.2 L1054.7,933.2 L1056.2,933.2 L1057.7,933.2 L1059.2,933.2 L1060.7,933.2 L1062.2,933.2 L1063.7,933.2 L1065.2,933.2 L1066.7,933.2 L1068.2,933.2 L1069.7,933.2 L1071.2,933.2 L1072.7,933.2 L1074.2,933.2 L1075.7,933.2 L1077.2,933.2 L1078.7,933.2 L1080.2,933.2 L1081.7,933.3 L1083.2,933.3 L1084.7,933.3 L1086.2,933.3 L1087.7,933.3 L1089.2,933.3 L1090.7,933.3 L1092.2,933.3 L1093.7,933.3 L1095.2,933.3 L1096.7,933.3 L1098.2,933.3 L1099.7,933.3 L1101.2,933.4 L1102.7,933.4 L1104.2,933.4 L1105.7,933.4 L1107.2,933.4 L1108.7,933.4 L1110.2,933.4 L1111.7,933.4 L1113.2,933.4 L1114.7,933.4 L1116.2,933.4 L1117.7,933.4 L1119.2,933.4 L1120.7,933.4 L1122.2,933.4 L1123.7,933.4 L1125.2,933.4 L1126.7,933.4 L1128.2,933.4 L1129.7,933.4 L1131.2,933.4 L1132.7,933.4 L1134.1,933.4 L1135.6,933.4 L1137.1,933.4 L1138.6,933.4 L1140.1,933.4 L1141.6,933.4 L1143.1,933.3 L1144.6,933.3 L1146.1,933.3 L1147.6,933.3 L1149.1,933.3 L1150.6,933.2 L1152.1,933.2 L1153.6,933.2 L1155.1,933.2 L1156.6,933.1 L1158.1,933.1 L1159.6,933.0 L1161.0,933.0 L1162.5,932.9 L1164.0,932.9 L1165.5,932.8 L1167.0,932.8 L1168.5,932.7 L1170.0,932.7 L1171.5,932.6 L1173.0,932.5 L1174.5,932.4 L1176.0,932.3 L1177.5,932.3 L1179.0,932.2 L1180.5,932.1 L1182.0,932.0 L1183.5,931.8 L1185.0,931.7 L1186.5,931.6 L1188.0,931.5 L1189.5,931.3 L1191.0,931.2 L1192.5,931.1 L1194.0,930.9 L1195.5,930.7 L1197.0,930.6 L1198.5,930.4 L1199.9,930.2 L1201.4,930.0 L1202.9,929.8 L1204.4,929.6 L1205.9,929.4 L1207.4,929.1 L1208.9,928.9 L1210.3,928.6 L1211.8,928.4 L1213.3,928.1 L1214.7,927.8 L1216.2,927.5 L1217.7,927.2 L1219.1,926.9 L1220.6,926.5 L1222.0,926.2 L1223.5,925.8 L1224.9,925.5 L1226.4,925.1 L1227.8,924.7 L1229.2,924.3 L1230.7,923.8 L1232.1,923.4 L1233.5,922.9 L1234.9,922.5 L1236.3,922.0 L1237.7,921.5 L1239.1,921.0 L1240.5,920.4 L1241.9,919.9 L1243.3,919.3 L1244.7,918.7 L1246.0,918.2 L1247.4,917.6 L1248.8,916.9 L1250.1,916.3 L1251.5,915.7 L1252.9,915.1 L1254.2,914.4 L1255.6,913.8 L1256.9,913.1 L1258.3,912.5 L1259.7,911.8 L1261.0,911.2 L1262.4,910.5 L1263.7,909.8 L1265.1,909.2 L1266.5,908.5 L1267.8,907.9 L1269.2,907.3 L1270.6,906.6 L1272.0,906.0 L1273.3,905.4 L1274.7,904.8 L1276.1,904.2 L1277.5,903.6 L1278.9,903.0 L1280.3,902.4 L1281.8,901.9 L1283.2,901.3 L1284.6,900.8 L1286.1,900.3 L1287.5,899.8 L1289.0,899.4 L1290.5,898.9 L1291.9,898.5 L1293.4,898.2 L1294.9,897.9 L1296.4,897.6 L1297.8,897.5 L1299.2,897.5 L1300.6,897.6 L1302.0,897.9 L1303.3,898.3 L1304.6,898.9 L1305.9,899.6 L1307.1,900.4 L1308.2,901.3 L1309.3,902.3 L1310.4,903.4 L1311.4,904.5 L1312.4,905.8 L1313.3,907.0 L1314.1,908.4 L1314.9,909.7 L1315.7,911.1 L1316.5,912.5 L1317.2,913.9 L1317.9,915.3 L1318.7,916.8 L1319.5,918.2 L1320.3,919.5 L1321.1,920.9 L1322.1,922.2 L1323.1,923.5 L1324.1,924.7 L1325.3,925.9 L1326.5,927.0 L1327.8,927.9 L1329.0,928.7 L1330.3,929.2 L1331.6,929.6 L1332.8,929.7 L1334.0,929.5 L1335.2,929.1 L1336.3,928.5 L1337.3,927.7 L1338.3,926.8 L1339.2,925.7 L1340.1,924.6 L1340.9,923.5 L1341.7,922.3 L1342.4,921.1 L1343.0,919.8 L1343.7,918.5 L1344.2,917.2 L1344.8,915.9 L1345.2,914.5 L1345.7,913.1 L1346.1,911.7 L1346.5,910.2 L1346.9,908.7 L1347.2,907.3 L1347.5,905.8 L1347.8,904.2 L1348.0,902.7 L1348.3,901.2 L1348.5,899.6 L1348.7,898.0 L1348.9,896.5 L1349.1,894.9 L1349.3,893.3 L1349.5,891.7 L1349.7,890.2 L1349.9,888.6 L1350.1,887.0 L1350.3,885.4 L1350.6,883.9 L1350.8,882.3 L1351.0,880.8 L1351.3,879.2 L1351.6,877.7 L1351.9,876.2 L1352.2,874.7 L1352.6,873.2 L1353.0,871.8 L1353.4,870.3 L1353.9,868.9 L1354.4,867.5 L1354.9,866.1 L1355.4,864.8 L1356.0,863.4 L1356.7,862.1 L1357.3,860.8 L1358.0,859.5 L1358.7,858.3 L1359.5,857.0 L1360.3,855.8 L1361.1,854.6 L1362.0,853.4 L1362.9,852.3 L1363.9,851.2 L1364.9,850.1 L1365.9,848.9 L1366.9,847.9 L1368.0,846.8 L1369.0,845.7 L1370.1,844.6 L1371.2,843.6 L1372.3,842.5 L1373.3,841.4 L1374.4,840.4 L1375.5,839.3 L1376.5,838.2 L1377.5,837.1 L1378.5,835.9 L1379.4,834.8 L1380.4,833.6 L1381.2,832.4 L1382.1,831.2 L1382.9,830.0 L1383.6,828.8 L1384.4,827.5 L1385.1,826.2 L1385.7,824.9 L1386.4,823.5 L1387.0,822.2 L1387.6,820.8 L1388.1,819.5 L1388.7,818.1 L1389.2,816.7 L1389.6,815.3 L1390.1,813.8 L1390.6,812.4 L1391.0,811.0 L1391.4,809.5 L1391.8,808.0 L1392.2,806.6 L1392.6,805.1 L1393.0,803.6 L1393.4,802.2 L1393.8,800.7 L1394.1,799.2 L1394.5,797.7 L1394.9,796.2 L1395.2,794.7 L1395.6,793.3 L1396.0,791.8 L1396.3,790.3 L1396.7,788.9 L1397.1,787.4 L1397.5,785.9 L1398.0,784.5 L1398.4,783.0 L1398.8,781.6 L1399.3,780.2 L1399.7,778.8 L1400.2,777.3 L1400.7,775.9 L1401.1,774.5 L1401.6,773.1 L1402.1,771.7 L1402.6,770.3 L1403.1,768.9 L1403.6,767.5 L1404.1,766.1 L1404.6,764.7 L1405.1,763.3 L1405.6,761.9 L1406.1,760.5 L1406.6,759.1 L1407.1,757.7 L1407.6,756.2 L1408.1,754.8 L1408.6,753.4 L1409.1,752.0 L1409.7,750.6 L1410.2,749.2 L1410.7,747.8 L1411.2,746.4 L1411.7,745.0 L1412.2,743.6 L1412.7,742.2 L1413.3,740.8 L1413.8,739.4 L1414.3,738.0 L1414.9,736.6 L1415.4,735.2 L1415.9,733.8 L1416.5,732.4 L1417.0,731.0 L1417.6,729.6 L1418.1,728.2 L1418.7,726.8 L1419.2,725.4 L1419.8,724.0 L1420.4,722.7 L1420.9,721.3 L1421.5,719.9 L1422.1,718.5 L1422.7,717.1 L1423.3,715.8 L1423.9,714.4 L1424.5,713.0 L1425.1,711.6 L1425.7,710.3 L1426.4,708.9 L1427.0,707.6 L1427.6,706.2 L1428.3,704.9 L1429.0,703.5 L1429.6,702.2 L1430.3,700.8 L1431.0,699.5 L1431.7,698.1 L1432.3,696.8 L1433.0,695.5 L1433.7,694.1 L1434.4,692.8 L1435.1,691.5 L1435.8,690.2 L1436.5,688.8 L1437.2,687.5 L1437.9,686.2 L1438.6,684.8 L1439.3,683.5 L1439.9,682.1 L1440.6,680.8 L1441.3,679.5 L1441.9,678.1 L1442.6,676.7 L1443.2,675.4 L1443.8,674.0 L1444.5,672.7 L1445.1,671.3 L1445.7,669.9 L1446.3,668.5 L1446.9,667.2 L1447.5,665.8 L1448.1,664.4 L1448.6,663.0 L1449.2,661.6 L1449.8,660.2 L1450.4,658.9 L1450.9,657.5 L1451.5,656.1 L1452.1,654.7 L1452.7,653.3 L1453.3,652.0 L1453.9,650.6 L1454.5,649.2 L1455.1,647.9 L1455.7,646.5 L1456.3,645.1 L1456.9,643.8 L1457.6,642.4 L1458.2,641.1 L1458.9,639.8 L1459.6,638.4 L1460.3,637.1 L1461.0,635.8 L1461.7,634.5 L1462.4,633.2 L1463.2,631.9 L1464.0,630.6 L1464.7,629.4 L1465.5,628.1 L1466.3,626.9 L1467.1,625.6 L1467.9,624.3 L1468.8,623.1 L1469.6,621.9 L1470.5,620.6 L1471.3,619.4 L1472.2,618.2 L1473.0,617.0 L1473.9,615.7 L1474.8,614.5 L1475.7,613.3 L1476.6,612.1 L1477.5,610.9 L1478.3,609.7 L1479.2,608.5 L1480.1,607.3 L1481.0,606.0 L1481.9,604.8 L1482.8,603.6 L1483.7,602.4 L1484.6,601.2 L1485.5,600.0 L1486.4,598.8 L1487.3,597.6 L1488.2,596.4 L1489.1,595.2 L1490.0,593.9 L1490.9,592.7 L1491.7,591.5 L1492.6,590.3 L1493.5,589.0 L1494.3,587.8 L1495.2,586.6 L1496.0,585.3 L1496.8,584.1 L1497.7,582.8 L1498.5,581.6 L1499.3,580.3 L1500.1,579.1 L1500.9,577.8 L1501.8,576.5 L1502.6,575.3 L1503.4,574.0 L1504.1,572.7 L1504.9,571.5 L1505.7,570.2 L1506.5,568.9 L1507.3,567.6 L1508.1,566.3 L1508.8,565.0 L1509.6,563.8 L1510.4,562.5 L1511.1,561.2 L1511.9,559.9 L1512.6,558.6 L1513.4,557.3 L1514.1,556.0 L1514.9,554.7 L1515.6,553.4 L1516.4,552.1 L1517.1,550.8 L1517.9,549.5 L1518.6,548.2 L1519.3,546.9 L1520.1,545.6 L1520.8,544.3 L1521.5,543.0 L1522.3,541.6 L1523.0,540.3 L1523.7,539.0 L1524.4,537.7 L1525.2,536.4 L1525.9,535.1 L1526.6,533.8 L1527.3,532.5 L1528.1,531.2 L1528.8,529.8 L1529.5,528.5 L1530.2,527.2 L1531.0,525.9 L1531.7,524.6 L1532.4,523.3 L1533.1,522.0 L1533.9,520.7 L1534.6,519.3 L1535.3,518.0 L1536.1,516.7 L1536.8,515.4 L1537.5,514.1 L1538.3,512.8 L1539.0,511.5 L1539.8,510.2 L1540.5,508.9 L1541.3,507.7 L1542.1,506.4 L1542.8,505.1 L1543.6,503.8 L1544.4,502.5 L1545.2,501.3 L1546.0,500.0 L1546.8,498.8 L1547.6,497.5 L1548.4,496.3 L1549.3,495.0 L1550.1,493.8 L1550.9,492.6 L1551.8,491.3 L1552.7,490.1 L1553.6,488.9 L1554.4,487.7 L1555.3,486.5 L1556.3,485.3 L1557.2,484.2 L1558.1,483.0 L1559.1,481.8 L1560.0,480.7 L1561.0,479.5 L1562.0,478.4 L1563.0,477.3 L1564.0,476.2 L1565.0,475.1 L1566.1,474.0 L1567.1,473.0 L1568.2,471.9 L1569.3,470.9 L1570.4,469.9 L1571.5,468.8 L1572.7,467.9 L1573.8,466.9 L1575.0,465.9 L1576.2,465.0 L1577.4,464.1 L1578.6,463.2 L1579.8,462.3 L1581.1,461.5 L1582.4,460.7 L1583.7,459.8 L1585.0,459.1 L1586.3,458.3 L1587.7,457.6 L1589.1,456.9 L1590.5,456.2 L1591.9,455.5 L1593.3,454.9 L1594.7,454.4 L1596.2,453.9 L1597.6,453.5 L1599.1,453.2 L1600.5,452.9 L1602.0,452.7 L1603.4,452.7 L1604.8,452.7 L1606.2,452.9 L1607.6,453.1 L1609.0,453.4 L1610.4,453.8 L1611.8,454.3 L1613.2,454.8 L1614.5,455.4 L1615.9,456.1 L1617.3,456.8 L1618.6,457.5 L1619.9,458.3 L1621.3,459.1 L1622.6,459.9 L1623.9,460.7 L1625.3,461.5 L1626.6,462.3 L1627.9,463.1 L1629.2,463.9 L1630.6,464.7 L1631.9,465.4 L1633.2,466.2 L1634.5,466.9 L1635.9,467.6 L1637.2,468.3 L1638.5,468.9 L1639.8,469.5 L1641.2,470.2 L1642.5,470.7 L1643.9,471.3 L1645.2,471.8 L1646.6,472.3 L1648.0,472.8 L1649.4,473.3 L1650.8,473.7 L1652.2,474.0 L1653.6,474.4 L1655.0,474.7 L1656.5,475.0 L1658.0,475.2 L1659.4,475.4 L1660.9,475.6 L1662.4,475.7 L1663.9,475.8 L1665.4,475.9 L1667.0,476.0 L1668.5,476.1 L1670.0,476.2 L1671.5,476.3 L1673.0,476.5 L1674.6,476.6 L1676.1,476.8 L1677.6,476.9 L1679.1,477.1 L1680.6,477.3 L1682.1,477.5 L1683.6,477.8 L1685.0,478.0 L1686.5,478.3 L1688.0,478.6 L1689.5,478.9 L1690.9,479.2 L1692.4,479.5 L1693.9,479.8 L1695.3,480.2 L1696.7,480.6 L1698.2,481.0 L1699.6,481.4 L1701.1,481.8 L1702.5,482.2 L1703.9,482.6 L1705.3,483.1 L1706.7,483.6 L1708.1,484.1 L1709.5,484.6 L1710.9,485.1 L1712.3,485.6 L1713.7,486.2 L1715.0,486.7 L1716.4,487.3 L1717.8,487.9 L1719.1,488.5 L1720.5,489.1 L1721.8,489.8 L1723.2,490.4 L1724.5,491.1 L1725.8,491.8 L1727.2,492.5 L1728.5,493.2 L1729.8,493.9 L1731.1,494.6 L1732.4,495.4 L1733.7,496.2 L1735.0,496.9 L1736.2,497.7 L1737.5,498.6 L1738.8,499.4 L1740.1,500.2 L1741.3,501.1" stroke="#336699" stroke-width="10.2" fill="none" stroke-linejoin="round" shape-rendering="crispEdges"/><path d="M371.5,497.6 L372.8,497.3 L374.2,497.0 L375.6,496.7 L377.0,496.4 L378.5,496.1 L379.9,495.8 L381.4,495.5 L382.8,495.3 L384.3,495.0 L385.8,494.7 L387.3,494.5 L388.8,494.3 L390.4,494.0 L391.9,493.8 L393.4,493.7 L394.9,493.5 L396.5,493.4 L398.0,493.2 L399.6,493.1 L401.1,493.1 L402.6,493.0 L404.2,493.0 L405.7,493.0 L407.2,493.0 L408.7,493.1 L410.3,493.2 L411.8,493.3 L413.3,493.5 L414.8,493.7 L416.2,493.9 L417.7,494.2 L419.2,494.6 L420.6,494.9 L422.0,495.3 L423.4,495.8 L424.8,496.3 L426.2,496.8 L427.6,497.4 L428.9,498.0 L430.3,498.7 L431.6,499.4 L432.9,500.1 L434.2,500.8 L435.5,501.6 L436.8,502.4 L438.1,503.2 L439.4,504.0 L440.6,504.8 L441.9,505.6 L443.2,506.4 L444.4,507.3 L445.7,508.1 L447.0,508.9 L448.2,509.8 L449.5,510.6 L450.7,511.5 L452.0,512.3 L453.2,513.2 L454.4,514.1 L455.7,514.9 L456.9,515.8 L458.1,516.7 L459.3,517.5 L460.6,518.4 L461.8,519.3 L463.0,520.2 L464.2,521.1 L465.4,522.0 L466.6,522.9 L467.8,523.8 L469.0,524.7 L470.2,525.6 L471.3,526.5 L472.5,527.5 L473.7,528.4 L474.8,529.3 L476.0,530.3 L477.1,531.2 L478.3,532.2 L479.4,533.2 L480.6,534.1 L481.7,535.1 L482.8,536.1 L483.9,537.1 L485.0,538.1 L486.1,539.1 L487.2,540.1 L488.3,541.1 L489.4,542.1 L490.4,543.2 L491.5,544.2 L492.6,545.3 L493.6,546.3 L494.6,547.4 L495.7,548.5 L496.7,549.6 L497.7,550.7 L498.7,551.8 L499.7,552.9 L500.7,554.0 L501.7,555.1 L502.7,556.3 L503.6,557.4 L504.6,558.6 L505.5,559.8 L506.4,560.9 L507.4,562.1 L508.3,563.3 L509.2,564.5 L510.1,565.7 L511.0,567.0 L511.9,568.2 L512.8,569.4 L513.6,570.7 L514.5,571.9 L515.4,573.2 L516.2,574.4 L517.1,575.7 L518.0,576.9 L518.8,578.2 L519.7,579.5 L520.5,580.7 L521.4,582.0 L522.2,583.3 L523.0,584.6 L523.9,585.8 L524.7,587.1 L525.6,588.4 L526.4,589.6 L527.3,590.9 L528.1,592.1 L529.0,593.4 L529.8,594.7 L530.7,595.9 L531.5,597.1 L532.4,598.4 L533.3,599.6 L534.1,600.8 L535.0,602.1 L535.9,603.3 L536.8,604.5 L537.7,605.7 L538.6,606.9 L539.5,608.0 L540.4,609.2 L541.4,610.4 L542.3,611.5 L543.3,612.6 L544.2,613.8 L545.2,614.9 L546.2,616.0 L547.1,617.1 L548.1,618.1 L549.2,619.2 L550.2,620.2 L551.2,621.2 L552.3,622.3 L553.3,623.2 L554.4,624.2 L555.5,625.2 L556.6,626.1 L557.8,627.0 L558.9,627.9 L560.1,628.8 L561.2,629.7 L562.4,630.5 L563.6,631.3 L564.9,632.1 L566.1,632.9 L567.4,633.7 L568.7,634.4 L570.0,635.1 L571.3,635.8 L572.6,636.5 L574.0,637.1 L575.4,637.7 L576.8,638.3 L578.2,638.9 L579.6,639.5 L581.0,640.0 L582.5,640.6 L583.9,641.1 L585.4,641.6 L586.9,642.2 L588.3,642.7 L589.8,643.2 L591.3,643.7 L592.8,644.2 L594.2,644.7 L595.7,645.2 L597.2,645.7 L598.7,646.2 L600.2,646.7 L601.6,647.2 L603.1,647.7 L604.5,648.2 L606.0,648.8 L607.4,649.3 L608.8,649.9 L610.2,650.5 L611.6,651.1 L613.0,651.7 L614.4,652.4 L615.7,653.0 L617.0,653.7 L618.3,654.4 L619.6,655.1 L620.9,655.9 L622.1,656.7 L623.4,657.5 L624.6,658.3 L625.7,659.1 L626.9,660.0 L628.1,660.9 L629.2,661.8 L630.3,662.7 L631.4,663.6 L632.5,664.6 L633.6,665.6 L634.6,666.6 L635.7,667.6 L636.7,668.6 L637.7,669.7 L638.8,670.7 L639.8,671.8 L640.8,672.9 L641.7,674.0 L642.7,675.1 L643.7,676.2 L644.6,677.4 L645.6,678.5 L646.5,679.7 L647.4,680.8 L648.4,682.0 L649.3,683.2 L650.2,684.4 L651.1,685.6 L652.0,686.8 L652.9,688.0 L653.8,689.2 L654.7,690.4 L655.6,691.7 L656.5,692.9 L657.4,694.1 L658.3,695.3 L659.2,696.6 L660.1,697.8 L661.0,699.1 L661.9,700.3 L662.8,701.5 L663.8,702.8 L664.7,704.0 L665.6,705.2 L666.5,706.5 L667.5,707.7 L668.4,708.9 L669.3,710.1 L670.3,711.4 L671.2,712.6 L672.2,713.8 L673.2,715.0 L674.2,716.2 L675.2,717.3 L676.2,718.5 L677.2,719.7 L678.2,720.8 L679.3,722.0 L680.3,723.1 L681.4,724.2 L682.4,725.3 L683.5,726.4 L684.6,727.4 L685.7,728.5 L686.8,729.5 L687.9,730.5 L689.0,731.5 L690.2,732.5 L691.3,733.4 L692.5,734.4 L693.7,735.3 L694.9,736.2 L696.0,737.0 L697.3,737.8 L698.5,738.6 L699.7,739.4 L701.0,740.2 L702.2,740.9 L703.5,741.6 L704.8,742.2 L706.1,742.9 L707.4,743.4 L708.7,744.0 L710.0,744.5 L711.4,745.0 L712.7,745.5 L714.1,745.9 L715.5,746.3 L716.9,746.6 L718.3,746.9 L719.7,747.2 L721.1,747.4 L722.6,747.6 L724.0,747.7 L725.5,747.8 L727.0,747.9 L728.5,748.0 L730.0,748.0 L731.5,748.1 L733.0,748.1 L734.5,748.1 L736.1,748.1 L737.6,748.0 L739.1,748.0 L740.7,748.0 L742.2,747.9 L743.7,747.9 L745.3,747.9 L746.8,747.9 L748.4,747.9 L749.9,747.9 L751.4,747.9 L753.0,748.0 L754.5,748.1 L756.0,748.2 L757.5,748.3 L759.1,748.5 L760.6,748.7 L762.1,748.9 L763.5,749.2 L765.0,749.5 L766.5,749.9 L767.9,750.3 L769.4,750.7 L770.8,751.2 L772.2,751.8 L773.7,752.4 L775.1,753.0 L776.4,753.6 L777.8,754.3 L779.2,755.0 L780.5,755.7 L781.8,756.4 L783.1,757.2 L784.4,757.9 L785.7,758.7 L787.0,759.5 L788.3,760.3 L789.5,761.1 L790.8,762.0 L792.0,762.8 L793.2,763.7 L794.4,764.6 L795.6,765.4 L796.8,766.3 L797.9,767.3 L799.1,768.2 L800.2,769.1 L801.4,770.0 L802.5,771.0 L803.6,772.0 L804.8,772.9 L805.9,773.9 L807.0,774.9 L808.1,775.9 L809.2,776.9 L810.3,777.9 L811.3,778.9 L812.4,779.9 L813.5,781.0 L814.6,782.0 L815.6,783.1 L816.7,784.1 L817.7,785.2 L818.8,786.2 L819.9,787.3 L820.9,788.3 L822.0,789.4 L823.0,790.5 L824.0,791.5 L825.1,792.6 L826.1,793.7 L827.2,794.8 L828.2,795.9 L829.3,796.9 L830.3,798.0 L831.3,799.1 L832.4,800.2 L833.4,801.3 L834.5,802.4 L835.5,803.4 L836.5,804.5 L837.6,805.6 L838.6,806.7 L839.7,807.8 L840.7,808.8 L841.8,809.9 L842.8,811.0 L843.9,812.1 L845.0,813.1 L846.0,814.2 L847.1,815.2 L848.2,816.3 L849.2,817.4 L850.3,818.4 L851.4,819.4 L852.5,820.5 L853.6,821.5 L854.6,822.5 L855.7,823.5 L856.8,824.6 L857.9,825.6 L859.1,826.6 L860.2,827.6 L861.3,828.5 L862.4,829.5 L863.6,830.5 L864.7,831.4 L865.9,832.4 L867.0,833.3 L868.2,834.3 L869.4,835.2 L870.5,836.1 L871.7,837.0 L872.9,837.9 L874.1,838.7 L875.3,839.6 L876.5,840.5 L877.8,841.3 L879.0,842.1 L880.2,843.0 L881.5,843.8 L882.7,844.6 L884.0,845.4 L885.3,846.2 L886.5,847.0 L887.8,847.8 L889.1,848.5 L890.4,849.3 L891.7,850.1 L893.0,850.8 L894.3,851.6 L895.6,852.3 L896.9,853.1 L898.2,853.8 L899.5,854.6 L900.8,855.3 L902.1,856.1 L903.4,856.8 L904.7,857.6 L906.0,858.3 L907.3,859.1 L908.6,859.8 L909.9,860.6 L911.2,861.4 L912.5,862.1 L913.8,862.9 L915.1,863.7 L916.4,864.4 L917.7,865.2 L919.0,866.0 L920.3,866.8 L921.6,867.6 L922.9,868.4 L924.2,869.1 L925.5,869.9 L926.8,870.7 L928.1,871.5 L929.4,872.3 L930.7,873.0 L932.0,873.8 L933.2,874.6 L934.5,875.3 L935.8,876.1 L937.1,876.8 L938.5,877.6 L939.8,878.3 L941.1,879.0 L942.4,879.7 L943.7,880.4 L945.0,881.1 L946.3,881.8 L947.7,882.5 L949.0,883.1 L950.3,883.8 L951.7,884.4 L953.0,885.0 L954.4,885.6 L955.7,886.2 L957.1,886.8 L958.5,887.3 L959.8,887.8 L961.2,888.4 L962.6,888.9 L964.0,889.3 L965.4,889.8 L966.8,890.2 L968.2,890.6 L969.6,891.0 L971.1,891.4 L972.5,891.7 L974.0,892.1 L975.4,892.4 L976.9,892.7 L978.3,892.9 L979.8,893.2 L981.3,893.4 L982.7,893.6 L984.2,893.8 L985.7,894.0 L987.2,894.1 L988.7,894.3 L990.2,894.4 L991.7,894.5 L993.2,894.6 L994.7,894.7 L996.2,894.8 L997.7,894.9 L999.2,894.9 L1000.7,894.9 L1002.1,895.0 L1003.6,895.0 L1005.1,895.0 L1006.6,895.0 L1008.1,895.0 L1009.6,894.9 L1011.1,894.9 L1012.6,894.9 L1014.1,894.8 L1015.6,894.8 L1017.1,894.8 L1018.6,894.7 L1020.1,894.6 L1021.6,894.6 L1023.1,894.5 L1024.6,894.5 L1026.1,894.4 L1027.6,894.4 L1029.1,894.3 L1030.6,894.3 L1032.1,894.2 L1033.6,894.2 L1035.1,894.1 L1036.6,894.1 L1038.1,894.1 L1039.6,894.0 L1041.1,894.0 L1042.6,894.0 L1044.1,894.0 L1045.6,894.0 L1047.1,893.9 L1048.5,893.9 L1050.0,893.9 L1051.5,893.9 L1053.0,893.9 L1054.5,893.9 L1056.0,893.9 L1057.5,893.9 L1059.0,893.9 L1060.5,893.9 L1062.0,893.9 L1063.5,893.9 L1065.0,893.9 L1066.5,893.9 L1068.0,894.0 L1069.5,894.0 L1071.0,894.0 L1072.5,894.0 L1074.0,894.0 L1075.5,894.0 L1077.0,894.0 L1078.5,894.1 L1080.0,894.1 L1081.4,894.1 L1082.9,894.1 L1084.4,894.1 L1085.9,894.1 L1087.4,894.1 L1088.9,894.1 L1090.4,894.1 L1091.9,894.2 L1093.4,894.2 L1094.9,894.2 L1096.4,894.2 L1097.9,894.2 L1099.4,894.2 L1100.9,894.2 L1102.4,894.2 L1103.9,894.2 L1105.4,894.2 L1106.9,894.2 L1108.4,894.1 L1109.9,894.1 L1111.4,894.1 L1112.9,894.1 L1114.4,894.1 L1115.9,894.0 L1117.4,894.0 L1118.9,894.0 L1120.4,893.9 L1121.9,893.9 L1123.4,893.9 L1124.9,893.8 L1126.4,893.8 L1128.0,893.7 L1129.5,893.7 L1131.0,893.6 L1132.5,893.5 L1134.0,893.4 L1135.5,893.4 L1137.0,893.3 L1138.5,893.2 L1140.0,893.1 L1141.5,893.0 L1143.0,892.9 L1144.5,892.8 L1146.0,892.7 L1147.6,892.5 L1149.1,892.4 L1150.6,892.2 L1152.1,892.1 L1153.6,891.9 L1155.1,891.7 L1156.6,891.5 L1158.0,891.3 L1159.5,891.1 L1161.0,890.8 L1162.5,890.6 L1164.0,890.3 L1165.4,890.0 L1166.9,889.7 L1168.4,889.3 L1169.8,888.9 L1171.2,888.5 L1172.7,888.1 L1174.1,887.7 L1175.5,887.2 L1177.0,886.7 L1178.4,886.2 L1179.8,885.7 L1181.2,885.2 L1182.5,884.6 L1183.9,884.0 L1185.3,883.4 L1186.7,882.7 L1188.0,882.1 L1189.4,881.4 L1190.7,880.7 L1192.0,880.0 L1193.4,879.3 L1194.7,878.6 L1196.0,877.8 L1197.3,877.0 L1198.6,876.3 L1199.9,875.5 L1201.1,874.6 L1202.4,873.8 L1203.7,873.0 L1204.9,872.1 L1206.2,871.3 L1207.4,870.4 L1208.7,869.5 L1209.9,868.6 L1211.1,867.7 L1212.3,866.8 L1213.5,865.9 L1214.7,865.0 L1215.9,864.0 L1217.0,863.1 L1218.2,862.1 L1219.3,861.2 L1220.5,860.2 L1221.6,859.3 L1222.8,858.3 L1223.9,857.3 L1225.0,856.3 L1226.1,855.4 L1227.2,854.4 L1228.3,853.4 L1229.4,852.4 L1230.5,851.4 L1231.6,850.4 L1232.6,849.3 L1233.7,848.3 L1234.8,847.3 L1235.8,846.3 L1236.9,845.2 L1237.9,844.2 L1239.0,843.2 L1240.0,842.1 L1241.0,841.1 L1242.1,840.0 L1243.1,839.0 L1244.1,837.9 L1245.2,836.8 L1246.2,835.8 L1247.2,834.7 L1248.2,833.6 L1249.3,832.6 L1250.3,831.5 L1251.3,830.4 L1252.3,829.3 L1253.3,828.2 L1254.4,827.2 L1255.4,826.1 L1256.4,825.0 L1257.4,823.9 L1258.4,822.8 L1259.5,821.7 L1260.5,820.6 L1261.5,819.5 L1262.6,818.4 L1263.6,817.3 L1264.6,816.2 L1265.7,815.1 L1266.7,813.9 L1267.7,812.8 L1268.8,811.7 L1269.8,810.6 L1270.9,809.5 L1272.0,808.4 L1273.0,807.3 L1274.1,806.2 L1275.2,805.0 L1276.3,803.9 L1277.3,802.8 L1278.4,801.7 L1279.5,800.6 L1280.6,799.5 L1281.8,798.3 L1282.9,797.2 L1284.0,796.1 L1285.1,795.0 L1286.3,793.9 L1287.4,792.8 L1288.6,791.6 L1289.8,790.6 L1290.9,789.5 L1292.1,788.5 L1293.3,787.6 L1294.5,786.8 L1295.7,786.0 L1296.9,785.5 L1298.2,785.0 L1299.4,784.7 L1300.6,784.6 L1301.9,784.6 L1303.2,784.9 L1304.4,785.4 L1305.7,786.0 L1306.9,786.7 L1308.1,787.6 L1309.2,788.6 L1310.3,789.7 L1311.3,790.9 L1312.3,792.1 L1313.1,793.4 L1313.9,794.7 L1314.6,796.0 L1315.3,797.4 L1315.9,798.9 L1316.4,800.3 L1316.9,801.8 L1317.4,803.2 L1317.8,804.7 L1318.2,806.2 L1318.5,807.8 L1318.8,809.3 L1319.1,810.8 L1319.4,812.3 L1319.7,813.8 L1320.0,815.2 L1320.3,816.7 L1320.6,818.1 L1320.9,819.5 L1321.2,820.9 L1321.5,822.2 L1321.8,823.6 L1322.1,824.9 L1322.5,826.3 L1322.8,827.6 L1323.2,829.0 L1323.5,830.3 L1323.9,831.7 L1324.2,833.0 L1324.6,834.4 L1325.0,835.9 L1325.3,837.3 L1325.7,838.8 L1326.1,840.3 L1326.5,841.9 L1326.9,843.5 L1327.3,845.1 L1327.7,846.8 L1328.1,848.6 L1328.5,850.4 L1328.9,852.3 L1329.3,854.2 L1329.7,856.0 L1330.1,857.9 L1330.6,859.6 L1331.0,861.2 L1331.4,862.6 L1331.9,863.8 L1332.3,864.7 L1332.8,865.3 L1333.2,865.5 L1333.7,865.4 L1334.2,864.9 L1334.7,864.1 L1335.1,863.0 L1335.6,861.7 L1336.1,860.2 L1336.6,858.6 L1337.0,856.8 L1337.5,854.9 L1338.0,853.0 L1338.4,851.1 L1338.8,849.2 L1339.2,847.4 L1339.6,845.6 L1339.9,843.9 L1340.3,842.2 L1340.6,840.5 L1340.9,838.9 L1341.2,837.3 L1341.5,835.7 L1341.8,834.1 L1342.0,832.6 L1342.3,831.1 L1342.5,829.6 L1342.8,828.2 L1343.0,826.8 L1343.2,825.3 L1343.4,823.9 L1343.6,822.5 L1343.8,821.2 L1343.9,819.8 L1344.1,818.4 L1344.3,817.1 L1344.4,815.7 L1344.6,814.4 L1344.7,813.0 L1344.8,811.6 L1345.0,810.3 L1345.1,808.9 L1345.2,807.5 L1345.4,806.1 L1345.5,804.7 L1345.6,803.3 L1345.7,801.9 L1345.8,800.5 L1346.0,799.0 L1346.1,797.6 L1346.2,796.1 L1346.3,794.7 L1346.4,793.2 L1346.6,791.8 L1346.7,790.3 L1346.8,788.8 L1346.9,787.3 L1347.0,785.8 L1347.2,784.3 L1347.3,782.8 L1347.4,781.3 L1347.5,779.8 L1347.7,778.3 L1347.8,776.8 L1348.0,775.3 L1348.1,773.8 L1348.3,772.2 L1348.4,770.7 L1348.6,769.2 L1348.8,767.7 L1348.9,766.1 L1349.1,764.6 L1349.3,763.1 L1349.5,761.5 L1349.7,760.0 L1349.9,758.5 L1350.1,757.0 L1350.3,755.4 L1350.6,753.9 L1350.8,752.4 L1351.1,750.9 L1351.3,749.3 L1351.6,747.8 L1351.9,746.3 L1352.1,744.8 L1352.4,743.3 L1352.7,741.8 L1353.1,740.3 L1353.4,738.8 L1353.7,737.3 L1354.1,735.8 L1354.5,734.4 L1354.8,732.9 L1355.2,731.4 L1355.6,730.0 L1356.0,728.5 L1356.5,727.1 L1356.9,725.6 L1357.4,724.2 L1357.8,722.8 L1358.3,721.4 L1358.8,720.0 L1359.4,718.6 L1359.9,717.2 L1360.4,715.8 L1361.0,714.4 L1361.6,713.1 L1362.2,711.7 L1362.8,710.4 L1363.4,709.1 L1364.1,707.8 L1364.8,706.5 L1365.5,705.2 L1366.2,703.9 L1366.9,702.6 L1367.6,701.4 L1368.4,700.1 L1369.2,698.9 L1370.0,697.7 L1370.8,696.5 L1371.6,695.3 L1372.4,694.1 L1373.2,692.8 L1374.0,691.6 L1374.8,690.4 L1375.6,689.1 L1376.4,687.9 L1377.1,686.6 L1377.8,685.3 L1378.6,684.0 L1379.3,682.7 L1379.9,681.4 L1380.6,680.1 L1381.2,678.7 L1381.8,677.4 L1382.4,676.0 L1382.9,674.6 L1383.4,673.2 L1383.9,671.8 L1384.4,670.4 L1384.8,669.0 L1385.3,667.6 L1385.7,666.1 L1386.0,664.7 L1386.4,663.2 L1386.7,661.8 L1387.1,660.3 L1387.4,658.9 L1387.7,657.4 L1388.0,655.9 L1388.3,654.4 L1388.5,652.9 L1388.8,651.5 L1389.1,650.0 L1389.3,648.5 L1389.6,647.0 L1389.8,645.5 L1390.1,644.0 L1390.4,642.5 L1390.6,641.0 L1390.9,639.6 L1391.2,638.1 L1391.5,636.6 L1391.8,635.1 L1392.1,633.7 L1392.4,632.2 L1392.7,630.7 L1393.1,629.3 L1393.4,627.8 L1393.8,626.4 L1394.2,624.9 L1394.7,623.5 L1395.1,622.1 L1395.6,620.7 L1396.1,619.3 L1396.6,617.9 L1397.2,616.5 L1397.7,615.1 L1398.3,613.7 L1398.9,612.3 L1399.6,611.0 L1400.2,609.6 L1400.8,608.3 L1401.5,606.9 L1402.1,605.5 L1402.8,604.2 L1403.4,602.8 L1404.0,601.4 L1404.7,600.1 L1405.3,598.7 L1405.9,597.3 L1406.5,596.0 L1407.1,594.6 L1407.7,593.2 L1408.3,591.8 L1408.9,590.4 L1409.5,589.0 L1410.1,587.7 L1410.7,586.3 L1411.3,584.9 L1411.9,583.5 L1412.5,582.1 L1413.1,580.7 L1413.7,579.3 L1414.3,578.0 L1414.9,576.6 L1415.5,575.2 L1416.1,573.8 L1416.7,572.5 L1417.3,571.1 L1417.9,569.7 L1418.6,568.4 L1419.2,567.0 L1419.9,565.7 L1420.5,564.3 L1421.2,563.0 L1421.9,561.7 L1422.6,560.3 L1423.3,559.0 L1424.0,557.7 L1424.7,556.4 L1425.4,555.1 L1426.2,553.8 L1426.9,552.5 L1427.6,551.2 L1428.4,549.9 L1429.2,548.6 L1429.9,547.3 L1430.7,546.0 L1431.5,544.8 L1432.3,543.5 L1433.1,542.2 L1433.9,541.0 L1434.8,539.7 L1435.6,538.5 L1436.4,537.3 L1437.3,536.0 L1438.2,534.8 L1439.0,533.6 L1439.9,532.4 L1440.8,531.2 L1441.7,530.0 L1442.6,528.8 L1443.5,527.6 L1444.4,526.4 L1445.3,525.2 L1446.2,524.0 L1447.1,522.9 L1448.1,521.7 L1449.0,520.5 L1450.0,519.4 L1451.0,518.3 L1451.9,517.1 L1452.9,516.0 L1453.9,514.8 L1454.9,513.7 L1455.9,512.6 L1456.9,511.5 L1457.9,510.4 L1458.9,509.3 L1459.9,508.2 L1461.0,507.1 L1462.0,506.0 L1463.1,505.0 L1464.1,503.9 L1465.2,502.8 L1466.2,501.8 L1467.3,500.7 L1468.4,499.7 L1469.5,498.6 L1470.6,497.6 L1471.7,496.6 L1472.8,495.6 L1473.9,494.6 L1475.0,493.6 L1476.1,492.6 L1477.3,491.6 L1478.4,490.6 L1479.5,489.6 L1480.7,488.6 L1481.8,487.7 L1483.0,486.7 L1484.2,485.7 L1485.3,484.8 L1486.5,483.8 L1487.7,482.9 L1488.8,481.9 L1490.0,481.0 L1491.2,480.1 L1492.3,479.1 L1493.5,478.2 L1494.7,477.2 L1495.8,476.3 L1497.0,475.3 L1498.2,474.4 L1499.3,473.4 L1500.5,472.4 L1501.6,471.5 L1502.7,470.5 L1503.9,469.5 L1505.0,468.5 L1506.1,467.5 L1507.2,466.5 L1508.3,465.5 L1509.3,464.4 L1510.4,463.4 L1511.4,462.3 L1512.5,461.3 L1513.5,460.2 L1514.5,459.1 L1515.5,458.0 L1516.5,456.9 L1517.4,455.7 L1518.4,454.6 L1519.3,453.4 L1520.2,452.2 L1521.1,451.1 L1522.0,449.9 L1522.9,448.7 L1523.8,447.4 L1524.7,446.2 L1525.5,445.0 L1526.4,443.8 L1527.3,442.5 L1528.1,441.3 L1529.0,440.0 L1529.9,438.8 L1530.7,437.6 L1531.6,436.3 L1532.5,435.1 L1533.3,433.8 L1534.2,432.6 L1535.1,431.4 L1536.0,430.2 L1536.9,429.0 L1537.8,427.7 L1538.7,426.5 L1539.6,425.3 L1540.6,424.2 L1541.5,423.0 L1542.5,421.8 L1543.4,420.7 L1544.4,419.5 L1545.4,418.4 L1546.4,417.3 L1547.4,416.2 L1548.4,415.1 L1549.4,414.0 L1550.4,412.9 L1551.5,411.9 L1552.6,410.8 L1553.7,409.8 L1554.8,408.8 L1555.9,407.8 L1557.0,406.9 L1558.1,405.9 L1559.3,405.0 L1560.5,404.1 L1561.7,403.2 L1562.9,402.4 L1564.1,401.6 L1565.4,400.8 L1566.7,400.0 L1568.0,399.2 L1569.3,398.5 L1570.6,397.8 L1572.0,397.1 L1573.4,396.5 L1574.8,395.8 L1576.2,395.3 L1577.7,394.7 L1579.1,394.2 L1580.6,393.8 L1582.1,393.4 L1583.6,393.1 L1585.0,392.9 L1586.5,392.7 L1588.0,392.6 L1589.5,392.5 L1591.0,392.6 L1592.5,392.8 L1594.0,393.0 L1595.5,393.3 L1596.9,393.7 L1598.3,394.2 L1599.8,394.8 L1601.2,395.4 L1602.5,396.0 L1603.9,396.7 L1605.2,397.5 L1606.5,398.3 L1607.8,399.1 L1609.0,400.0 L1610.2,400.9 L1611.4,401.8 L1612.6,402.8 L1613.7,403.7 L1614.9,404.7 L1616.0,405.7 L1617.1,406.8 L1618.2,407.8 L1619.2,408.9 L1620.3,409.9 L1621.4,411.0 L1622.4,412.0 L1623.5,413.1 L1624.6,414.1 L1625.6,415.2 L1626.7,416.2 L1627.8,417.3 L1628.9,418.3 L1630.0,419.3 L1631.1,420.2 L1632.3,421.2 L1633.4,422.1 L1634.6,423.0 L1635.8,423.9 L1637.0,424.7 L1638.3,425.6 L1639.6,426.3 L1640.9,427.1 L1642.2,427.8 L1643.5,428.5 L1644.8,429.2 L1646.2,429.9 L1647.6,430.5 L1648.9,431.1 L1650.3,431.7 L1651.7,432.3 L1653.1,432.8 L1654.5,433.4 L1655.9,433.9 L1657.3,434.4 L1658.7,434.9 L1660.2,435.3 L1661.6,435.8 L1663.0,436.2 L1664.5,436.7 L1665.9,437.1 L1667.3,437.5 L1668.8,437.9 L1670.2,438.4 L1671.7,438.8 L1673.1,439.2 L1674.6,439.6 L1676.0,440.0 L1677.4,440.4 L1678.9,440.8 L1680.3,441.2 L1681.8,441.6 L1683.2,442.0 L1684.7,442.4 L1686.1,442.9 L1687.5,443.3 L1689.0,443.8 L1690.4,444.2 L1691.8,444.7 L1693.2,445.2 L1694.6,445.7 L1696.0,446.2 L1697.5,446.7 L1698.8,447.2 L1700.2,447.8 L1701.6,448.4 L1703.0,448.9 L1704.4,449.5 L1705.8,450.1 L1707.1,450.7 L1708.5,451.3 L1709.9,452.0 L1711.2,452.6 L1712.6,453.3 L1713.9,453.9 L1715.2,454.6 L1716.5,455.3 L1717.9,456.0 L1719.2,456.7 L1720.5,457.5 L1721.8,458.2 L1723.1,459.0 L1724.4,459.7 L1725.6,460.5 L1726.9,461.3 L1728.2,462.1 L1729.4,462.9 L1730.7,463.8 L1731.9,464.6 L1733.1,465.5 L1734.3,466.4 L1735.6,467.3 L1736.8,468.2 L1737.9,469.1 L1739.1,470.0 L1740.3,471.0 L1741.5,471.9" stroke="#FFC31A" stroke-width="10.2" fill="none" stroke-linejoin="round" shape-rendering="crispEdges"/><path d="M371.4,483.2 L372.9,482.6 L374.4,482.0 L375.8,481.5 L377.3,481.0 L378.8,480.5 L380.3,480.1 L381.8,479.7 L383.2,479.3 L384.7,478.9 L386.2,478.6 L387.7,478.3 L389.2,478.1 L390.7,477.8 L392.2,477.7 L393.7,477.5 L395.1,477.4 L396.6,477.2 L398.1,477.2 L399.6,477.1 L401.1,477.1 L402.6,477.1 L404.0,477.1 L405.5,477.2 L407.0,477.3 L408.5,477.4 L409.9,477.5 L411.4,477.7 L412.9,477.9 L414.3,478.1 L415.8,478.3 L417.2,478.6 L418.7,478.9 L420.1,479.2 L421.6,479.5 L423.0,479.9 L424.4,480.2 L425.9,480.6 L427.3,481.1 L428.7,481.5 L430.1,482.0 L431.5,482.4 L432.9,482.9 L434.3,483.5 L435.7,484.0 L437.1,484.6 L438.4,485.1 L439.8,485.7 L441.1,486.3 L442.5,487.0 L443.8,487.6 L445.2,488.3 L446.5,489.0 L447.8,489.7 L449.2,490.4 L450.5,491.1 L451.8,491.9 L453.1,492.6 L454.4,493.4 L455.7,494.2 L456.9,495.0 L458.2,495.8 L459.5,496.6 L460.8,497.5 L462.0,498.3 L463.3,499.2 L464.5,500.0 L465.7,500.9 L467.0,501.8 L468.2,502.7 L469.4,503.6 L470.6,504.6 L471.8,505.5 L473.0,506.4 L474.2,507.4 L475.4,508.3 L476.6,509.3 L477.8,510.3 L478.9,511.2 L480.1,512.2 L481.3,513.2 L482.4,514.2 L483.6,515.2 L484.7,516.2 L485.8,517.2 L487.0,518.3 L488.1,519.3 L489.2,520.3 L490.3,521.3 L491.4,522.3 L492.5,523.4 L493.6,524.4 L494.7,525.4 L495.8,526.5 L496.8,527.5 L497.9,528.5 L499.0,529.6 L500.0,530.6 L501.1,531.7 L502.1,532.7 L503.1,533.8 L504.2,534.8 L505.2,535.9 L506.2,536.9 L507.2,538.0 L508.2,539.1 L509.2,540.2 L510.2,541.3 L511.1,542.3 L512.1,543.4 L513.1,544.6 L514.0,545.7 L515.0,546.8 L515.9,547.9 L516.8,549.1 L517.7,550.2 L518.6,551.4 L519.5,552.6 L520.4,553.8 L521.3,555.0 L522.2,556.2 L523.1,557.4 L523.9,558.6 L524.8,559.9 L525.6,561.1 L526.4,562.4 L527.3,563.7 L528.1,565.0 L528.9,566.2 L529.7,567.5 L530.6,568.8 L531.4,570.1 L532.2,571.4 L533.1,572.6 L534.0,573.9 L534.8,575.1 L535.7,576.3 L536.7,577.5 L537.6,578.7 L538.5,579.9 L539.5,581.0 L540.5,582.1 L541.6,583.2 L542.6,584.3 L543.7,585.3 L544.8,586.3 L545.9,587.3 L547.1,588.2 L548.2,589.1 L549.4,590.0 L550.6,590.9 L551.9,591.8 L553.1,592.6 L554.4,593.4 L555.6,594.2 L556.9,594.9 L558.2,595.7 L559.5,596.4 L560.9,597.1 L562.2,597.8 L563.6,598.4 L565.0,599.0 L566.3,599.7 L567.7,600.3 L569.1,600.8 L570.6,601.4 L572.0,601.9 L573.4,602.4 L574.9,602.9 L576.3,603.4 L577.8,603.9 L579.2,604.3 L580.7,604.7 L582.1,605.2 L583.6,605.5 L585.1,605.9 L586.5,606.3 L588.0,606.6 L589.5,607.0 L591.0,607.3 L592.4,607.6 L593.9,607.9 L595.4,608.2 L596.9,608.5 L598.3,608.8 L599.8,609.1 L601.3,609.3 L602.7,609.6 L604.2,609.9 L605.7,610.2 L607.1,610.5 L608.6,610.8 L610.0,611.1 L611.5,611.4 L612.9,611.8 L614.3,612.1 L615.7,612.5 L617.2,612.9 L618.6,613.2 L620.0,613.7 L621.4,614.1 L622.8,614.6 L624.2,615.0 L625.5,615.6 L626.9,616.1 L628.3,616.7 L629.6,617.3 L630.9,617.9 L632.3,618.5 L633.6,619.2 L634.9,620.0 L636.2,620.8 L637.5,621.6 L638.7,622.4 L640.0,623.3 L641.2,624.1 L642.5,625.1 L643.7,626.0 L644.9,627.0 L646.1,628.0 L647.2,629.0 L648.4,630.0 L649.5,631.1 L650.7,632.1 L651.8,633.2 L652.9,634.3 L653.9,635.4 L655.0,636.6 L656.0,637.7 L657.0,638.8 L658.1,640.0 L659.0,641.1 L660.0,642.3 L661.0,643.4 L661.9,644.6 L662.9,645.8 L663.8,646.9 L664.7,648.1 L665.7,649.3 L666.6,650.4 L667.5,651.6 L668.4,652.8 L669.3,653.9 L670.3,655.1 L671.2,656.2 L672.1,657.3 L673.1,658.5 L674.0,659.6 L675.0,660.7 L676.0,661.8 L677.0,662.9 L678.0,664.0 L679.1,665.0 L680.1,666.1 L681.2,667.1 L682.3,668.1 L683.4,669.1 L684.6,670.1 L685.8,671.0 L687.0,672.0 L688.3,672.9 L689.5,673.8 L690.9,674.6 L692.2,675.5 L693.6,676.3 L694.9,677.0 L696.4,677.8 L697.8,678.4 L699.2,679.1 L700.7,679.7 L702.1,680.2 L703.6,680.7 L705.1,681.1 L706.5,681.4 L708.0,681.7 L709.5,682.0 L710.9,682.1 L712.4,682.2 L713.8,682.2 L715.2,682.1 L716.7,681.9 L718.1,681.7 L719.5,681.5 L720.9,681.1 L722.3,680.8 L723.7,680.3 L725.0,679.9 L726.4,679.3 L727.8,678.8 L729.2,678.2 L730.5,677.6 L731.9,676.9 L733.3,676.3 L734.6,675.6 L736.0,674.9 L737.4,674.1 L738.8,673.4 L740.1,672.7 L741.5,671.9 L742.9,671.2 L744.3,670.5 L745.7,669.8 L747.1,669.1 L748.5,668.4 L749.9,667.7 L751.3,667.1 L752.7,666.5 L754.2,665.9 L755.6,665.4 L757.1,664.9 L758.5,664.4 L760.0,664.0 L761.5,663.6 L763.0,663.3 L764.5,663.1 L766.0,662.8 L767.5,662.7 L769.0,662.6 L770.5,662.5 L771.9,662.5 L773.4,662.5 L774.9,662.6 L776.3,662.7 L777.7,662.9 L779.2,663.1 L780.6,663.4 L781.9,663.8 L783.3,664.1 L784.7,664.6 L786.0,665.0 L787.3,665.5 L788.6,666.1 L789.9,666.7 L791.2,667.3 L792.5,668.0 L793.8,668.6 L795.0,669.4 L796.3,670.1 L797.5,670.9 L798.7,671.7 L799.9,672.6 L801.1,673.5 L802.3,674.4 L803.5,675.3 L804.7,676.2 L805.8,677.2 L807.0,678.2 L808.1,679.2 L809.3,680.2 L810.4,681.2 L811.5,682.3 L812.7,683.4 L813.8,684.4 L814.9,685.5 L816.0,686.6 L817.1,687.7 L818.2,688.8 L819.3,689.9 L820.4,691.0 L821.5,692.1 L822.6,693.3 L823.6,694.4 L824.7,695.5 L825.8,696.6 L826.9,697.7 L827.9,698.8 L829.0,699.9 L830.1,701.0 L831.2,702.1 L832.2,703.2 L833.3,704.3 L834.4,705.4 L835.4,706.5 L836.5,707.5 L837.5,708.6 L838.6,709.7 L839.7,710.8 L840.7,711.9 L841.8,712.9 L842.9,714.0 L843.9,715.1 L845.0,716.1 L846.0,717.2 L847.1,718.2 L848.1,719.3 L849.2,720.4 L850.3,721.4 L851.3,722.5 L852.4,723.5 L853.4,724.6 L854.5,725.6 L855.6,726.6 L856.6,727.7 L857.7,728.7 L858.8,729.8 L859.8,730.8 L860.9,731.8 L862.0,732.8 L863.0,733.9 L864.1,734.9 L865.2,735.9 L866.2,736.9 L867.3,738.0 L868.4,739.0 L869.5,740.0 L870.6,741.0 L871.7,742.0 L872.7,743.0 L873.8,744.0 L874.9,745.0 L876.0,746.0 L877.1,747.0 L878.2,748.0 L879.3,749.0 L880.4,750.0 L881.6,751.0 L882.7,751.9 L883.8,752.9 L884.9,753.9 L886.0,754.9 L887.2,755.9 L888.3,756.8 L889.4,757.8 L890.6,758.8 L891.7,759.7 L892.9,760.7 L894.0,761.7 L895.2,762.6 L896.3,763.6 L897.5,764.6 L898.6,765.5 L899.8,766.5 L901.0,767.4 L902.1,768.4 L903.3,769.3 L904.4,770.3 L905.6,771.3 L906.8,772.2 L907.9,773.2 L909.1,774.1 L910.3,775.1 L911.4,776.1 L912.6,777.0 L913.8,778.0 L914.9,778.9 L916.1,779.9 L917.3,780.9 L918.4,781.8 L919.6,782.8 L920.7,783.8 L921.9,784.8 L923.0,785.7 L924.2,786.7 L925.3,787.7 L926.5,788.7 L927.6,789.6 L928.8,790.6 L929.9,791.6 L931.0,792.6 L932.2,793.6 L933.3,794.6 L934.4,795.6 L935.6,796.6 L936.7,797.6 L937.8,798.6 L938.9,799.6 L940.0,800.7 L941.1,801.7 L942.2,802.7 L943.3,803.8 L944.3,804.8 L945.4,805.8 L946.5,806.9 L947.5,808.0 L948.6,809.0 L949.6,810.1 L950.6,811.2 L951.6,812.3 L952.7,813.4 L953.6,814.5 L954.6,815.6 L955.6,816.7 L956.5,817.9 L957.5,819.0 L958.4,820.2 L959.3,821.4 L960.2,822.6 L961.1,823.7 L962.0,824.9 L962.9,826.1 L963.8,827.2 L964.7,828.3 L965.7,829.4 L966.7,830.4 L967.7,831.3 L968.8,832.2 L970.0,833.1 L971.2,833.9 L972.4,834.6 L973.6,835.3 L974.9,836.1 L976.2,836.8 L977.5,837.5 L978.8,838.2 L980.1,839.0 L981.4,839.7 L982.7,840.5 L984.0,841.3 L985.3,842.1 L986.6,842.9 L987.9,843.6 L989.2,844.4 L990.5,845.2 L991.9,845.9 L993.2,846.7 L994.5,847.4 L995.9,848.1 L997.2,848.8 L998.6,849.5 L999.9,850.1 L1001.3,850.8 L1002.7,851.4 L1004.1,851.9 L1005.5,852.4 L1006.9,852.9 L1008.3,853.4 L1009.7,853.8 L1011.2,854.1 L1012.6,854.5 L1014.0,854.7 L1015.5,854.9 L1017.0,855.1 L1018.4,855.3 L1019.9,855.4 L1021.4,855.5 L1022.9,855.5 L1024.4,855.6 L1025.9,855.6 L1027.4,855.6 L1028.9,855.5 L1030.4,855.5 L1031.9,855.4 L1033.4,855.4 L1034.9,855.3 L1036.4,855.3 L1037.9,855.2 L1039.4,855.2 L1040.9,855.1 L1042.4,855.0 L1043.9,854.9 L1045.4,854.9 L1046.9,854.8 L1048.4,854.7 L1049.9,854.7 L1051.4,854.6 L1052.9,854.5 L1054.4,854.5 L1055.9,854.4 L1057.4,854.3 L1058.9,854.3 L1060.4,854.3 L1061.9,854.2 L1063.4,854.2 L1064.9,854.2 L1066.4,854.1 L1067.9,854.1 L1069.4,854.1 L1071.0,854.2 L1072.5,854.2 L1074.0,854.2 L1075.5,854.3 L1077.0,854.3 L1078.5,854.4 L1080.0,854.4 L1081.5,854.5 L1083.0,854.6 L1084.5,854.7 L1086.0,854.8 L1087.5,854.9 L1089.0,855.0 L1090.5,855.1 L1092.0,855.2 L1093.5,855.4 L1095.0,855.5 L1096.5,855.6 L1098.0,855.7 L1099.5,855.8 L1101.0,855.9 L1102.5,856.0 L1104.0,856.1 L1105.5,856.2 L1107.0,856.2 L1108.5,856.3 L1110.0,856.4 L1111.5,856.4 L1113.0,856.4 L1114.5,856.5 L1116.0,856.5 L1117.5,856.5 L1119.0,856.4 L1120.5,856.4 L1122.0,856.4 L1123.5,856.3 L1125.0,856.2 L1126.5,856.1 L1128.0,856.0 L1129.5,855.8 L1131.0,855.6 L1132.5,855.4 L1134.0,855.2 L1135.5,855.0 L1137.0,854.7 L1138.5,854.4 L1139.9,854.0 L1141.4,853.7 L1142.9,853.3 L1144.4,852.9 L1145.8,852.4 L1147.3,851.9 L1148.7,851.4 L1150.2,850.9 L1151.6,850.3 L1153.0,849.7 L1154.3,849.0 L1155.7,848.3 L1157.0,847.6 L1158.3,846.8 L1159.5,846.0 L1160.7,845.1 L1161.9,844.2 L1163.1,843.3 L1164.2,842.3 L1165.3,841.3 L1166.3,840.2 L1167.4,839.1 L1168.4,838.0 L1169.3,836.9 L1170.3,835.8 L1171.3,834.6 L1172.2,833.4 L1173.2,832.3 L1174.1,831.1 L1175.0,829.9 L1176.0,828.7 L1176.9,827.6 L1177.8,826.4 L1178.8,825.2 L1179.7,824.0 L1180.7,822.9 L1181.6,821.7 L1182.5,820.5 L1183.5,819.3 L1184.4,818.2 L1185.3,817.0 L1186.3,815.8 L1187.2,814.6 L1188.1,813.5 L1189.1,812.3 L1190.0,811.1 L1190.9,809.9 L1191.9,808.8 L1192.8,807.6 L1193.7,806.4 L1194.7,805.3 L1195.6,804.1 L1196.5,802.9 L1197.5,801.7 L1198.4,800.6 L1199.4,799.4 L1200.3,798.2 L1201.2,797.0 L1202.2,795.9 L1203.1,794.7 L1204.0,793.5 L1205.0,792.4 L1205.9,791.2 L1206.8,790.0 L1207.8,788.9 L1208.7,787.7 L1209.6,786.5 L1210.6,785.4 L1211.5,784.2 L1212.5,783.0 L1213.4,781.8 L1214.3,780.7 L1215.3,779.5 L1216.2,778.3 L1217.2,777.2 L1218.1,776.0 L1219.0,774.8 L1220.0,773.7 L1220.9,772.5 L1221.8,771.3 L1222.7,770.1 L1223.7,769.0 L1224.6,767.8 L1225.5,766.6 L1226.4,765.4 L1227.3,764.2 L1228.2,763.0 L1229.1,761.8 L1230.0,760.6 L1230.9,759.4 L1231.8,758.2 L1232.6,757.0 L1233.5,755.7 L1234.3,754.5 L1235.2,753.3 L1236.0,752.0 L1236.8,750.8 L1237.7,749.5 L1238.5,748.2 L1239.3,747.0 L1240.1,745.7 L1240.9,744.4 L1241.7,743.1 L1242.5,741.9 L1243.2,740.6 L1244.0,739.3 L1244.8,738.0 L1245.6,736.7 L1246.4,735.4 L1247.1,734.2 L1247.9,732.9 L1248.7,731.6 L1249.5,730.3 L1250.3,729.0 L1251.1,727.7 L1251.8,726.5 L1252.6,725.2 L1253.4,723.9 L1254.2,722.7 L1255.0,721.4 L1255.8,720.2 L1256.7,718.9 L1257.5,717.7 L1258.3,716.4 L1259.1,715.2 L1260.0,714.0 L1260.8,712.8 L1261.7,711.6 L1262.6,710.4 L1263.5,709.2 L1264.4,708.0 L1265.3,706.9 L1266.2,705.7 L1267.1,704.6 L1268.1,703.5 L1269.0,702.3 L1270.0,701.2 L1271.0,700.1 L1271.9,699.0 L1272.9,697.9 L1274.0,696.8 L1275.0,695.7 L1276.0,694.6 L1277.0,693.5 L1278.1,692.3 L1279.2,691.2 L1280.2,690.1 L1281.3,688.9 L1282.4,687.8 L1283.5,686.6 L1284.6,685.5 L1285.7,684.3 L1286.8,683.1 L1287.9,681.9 L1289.1,680.7 L1290.2,679.5 L1291.4,678.3 L1292.5,677.2 L1293.7,676.1 L1294.9,675.2 L1296.0,674.3 L1297.2,673.6 L1298.4,672.9 L1299.6,672.5 L1300.7,672.2 L1301.9,672.1 L1303.1,672.2 L1304.3,672.5 L1305.4,673.0 L1306.6,673.7 L1307.7,674.4 L1308.8,675.3 L1309.8,676.3 L1310.8,677.4 L1311.7,678.6 L1312.6,679.9 L1313.4,681.2 L1314.1,682.5 L1314.8,683.9 L1315.4,685.3 L1316.0,686.8 L1316.5,688.3 L1317.0,689.8 L1317.5,691.4 L1317.9,692.9 L1318.3,694.5 L1318.7,696.1 L1319.0,697.6 L1319.4,699.2 L1319.7,700.7 L1320.0,702.2 L1320.3,703.7 L1320.6,705.2 L1320.9,706.6 L1321.2,708.0 L1321.6,709.3 L1321.9,710.7 L1322.2,712.1 L1322.5,713.4 L1322.8,714.7 L1323.1,716.1 L1323.4,717.4 L1323.7,718.8 L1324.0,720.2 L1324.2,721.6 L1324.5,723.0 L1324.8,724.5 L1325.1,726.0 L1325.3,727.6 L1325.6,729.2 L1325.8,730.9 L1326.1,732.6 L1326.3,734.4 L1326.6,736.3 L1326.8,738.2 L1327.0,740.2 L1327.2,742.3 L1327.4,744.3 L1327.6,746.4 L1327.8,748.5 L1328.0,750.6 L1328.2,752.7 L1328.5,754.8 L1328.7,756.8 L1328.9,758.8 L1329.1,760.7 L1329.3,762.6 L1329.6,764.3 L1329.8,765.9 L1330.1,767.5 L1330.3,768.9 L1330.6,770.1 L1330.9,771.2 L1331.2,772.2 L1331.5,773.0 L1331.8,773.5 L1332.2,773.9 L1332.6,774.1 L1333.0,774.0 L1333.4,773.7 L1333.8,773.2 L1334.3,772.4 L1334.7,771.5 L1335.2,770.3 L1335.7,769.1 L1336.2,767.6 L1336.7,766.1 L1337.1,764.4 L1337.6,762.8 L1338.1,761.0 L1338.5,759.3 L1338.9,757.5 L1339.3,755.8 L1339.7,754.1 L1340.0,752.4 L1340.3,750.7 L1340.6,749.1 L1340.8,747.5 L1341.1,745.9 L1341.3,744.4 L1341.5,742.8 L1341.7,741.3 L1341.9,739.8 L1342.0,738.3 L1342.2,736.8 L1342.3,735.4 L1342.4,733.9 L1342.6,732.5 L1342.7,731.0 L1342.8,729.6 L1342.9,728.2 L1343.0,726.7 L1343.1,725.3 L1343.2,723.9 L1343.2,722.5 L1343.3,721.0 L1343.4,719.6 L1343.5,718.1 L1343.6,716.7 L1343.7,715.2 L1343.9,713.8 L1344.0,712.3 L1344.1,710.8 L1344.2,709.4 L1344.3,707.9 L1344.4,706.4 L1344.5,704.9 L1344.7,703.4 L1344.8,701.9 L1344.9,700.4 L1345.0,699.0 L1345.2,697.5 L1345.3,696.0 L1345.4,694.5 L1345.5,693.0 L1345.6,691.5 L1345.7,689.9 L1345.8,688.4 L1346.0,686.9 L1346.1,685.4 L1346.2,683.9 L1346.3,682.4 L1346.4,680.9 L1346.5,679.4 L1346.6,677.9 L1346.7,676.4 L1346.8,674.9 L1346.9,673.4 L1347.1,671.9 L1347.2,670.4 L1347.3,668.9 L1347.4,667.4 L1347.6,665.9 L1347.7,664.4 L1347.8,662.9 L1348.0,661.4 L1348.1,659.9 L1348.3,658.4 L1348.4,656.9 L1348.6,655.4 L1348.7,653.9 L1348.9,652.4 L1349.1,650.9 L1349.3,649.5 L1349.5,648.0 L1349.7,646.5 L1349.9,645.0 L1350.1,643.5 L1350.3,642.0 L1350.6,640.6 L1350.8,639.1 L1351.1,637.6 L1351.3,636.1 L1351.6,634.7 L1351.9,633.2 L1352.2,631.7 L1352.5,630.2 L1352.8,628.8 L1353.1,627.3 L1353.5,625.9 L1353.8,624.4 L1354.2,623.0 L1354.6,621.5 L1355.0,620.1 L1355.4,618.6 L1355.9,617.2 L1356.3,615.8 L1356.8,614.4 L1357.3,613.0 L1357.8,611.6 L1358.4,610.2 L1359.0,608.8 L1359.6,607.5 L1360.2,606.1 L1360.9,604.8 L1361.5,603.5 L1362.3,602.1 L1363.0,600.8 L1363.8,599.6 L1364.6,598.3 L1365.5,597.0 L1366.3,595.8 L1367.3,594.6 L1368.2,593.4 L1369.1,592.2 L1370.1,591.0 L1371.1,589.8 L1372.0,588.6 L1372.9,587.4 L1373.8,586.2 L1374.7,584.9 L1375.5,583.7 L1376.3,582.4 L1377.0,581.1 L1377.7,579.8 L1378.4,578.4 L1379.0,577.1 L1379.6,575.7 L1380.1,574.3 L1380.6,573.0 L1381.1,571.5 L1381.6,570.1 L1382.1,568.7 L1382.5,567.3 L1382.9,565.8 L1383.3,564.4 L1383.7,562.9 L1384.1,561.5 L1384.5,560.0 L1384.9,558.6 L1385.3,557.1 L1385.7,555.7 L1386.1,554.2 L1386.5,552.8 L1387.0,551.4 L1387.4,549.9 L1387.9,548.5 L1388.4,547.1 L1388.9,545.7 L1389.4,544.4 L1389.9,543.0 L1390.5,541.6 L1391.1,540.2 L1391.6,538.9 L1392.2,537.5 L1392.8,536.1 L1393.4,534.8 L1394.0,533.4 L1394.5,532.0 L1395.1,530.6 L1395.7,529.2 L1396.2,527.8 L1396.8,526.4 L1397.3,525.0 L1397.8,523.6 L1398.4,522.1 L1398.9,520.7 L1399.4,519.3 L1399.9,517.8 L1400.5,516.4 L1401.0,515.0 L1401.5,513.6 L1402.1,512.2 L1402.6,510.8 L1403.2,509.4 L1403.8,508.0 L1404.4,506.6 L1405.0,505.2 L1405.6,503.9 L1406.2,502.5 L1406.9,501.2 L1407.6,499.9 L1408.3,498.6 L1409.0,497.3 L1409.8,496.0 L1410.6,494.8 L1411.4,493.6 L1412.3,492.4 L1413.2,491.2 L1414.0,490.1 L1415.0,488.9 L1415.9,487.8 L1416.8,486.6 L1417.8,485.5 L1418.7,484.4 L1419.7,483.2 L1420.6,482.1 L1421.6,480.9 L1422.5,479.7 L1423.4,478.5 L1424.3,477.3 L1425.2,476.0 L1426.1,474.8 L1427.0,473.5 L1427.8,472.2 L1428.7,471.0 L1429.5,469.7 L1430.4,468.4 L1431.3,467.1 L1432.2,465.9 L1433.0,464.6 L1433.9,463.3 L1434.8,462.1 L1435.7,460.9 L1436.6,459.6 L1437.6,458.5 L1438.5,457.3 L1439.5,456.1 L1440.5,455.0 L1441.5,453.9 L1442.5,452.8 L1443.6,451.8 L1444.7,450.8 L1445.8,449.8 L1446.9,448.8 L1448.0,447.9 L1449.2,447.0 L1450.4,446.1 L1451.6,445.3 L1452.8,444.4 L1454.0,443.6 L1455.2,442.8 L1456.5,442.0 L1457.8,441.3 L1459.1,440.5 L1460.4,439.8 L1461.7,439.1 L1463.0,438.3 L1464.3,437.7 L1465.7,437.0 L1467.0,436.3 L1468.4,435.6 L1469.7,435.0 L1471.1,434.3 L1472.5,433.7 L1473.8,433.1 L1475.2,432.4 L1476.6,431.8 L1478.0,431.2 L1479.4,430.6 L1480.7,430.0 L1482.1,429.3 L1483.5,428.7 L1484.9,428.1 L1486.3,427.5 L1487.6,426.8 L1489.0,426.2 L1490.4,425.6 L1491.7,424.9 L1493.1,424.2 L1494.4,423.6 L1495.8,422.9 L1497.1,422.2 L1498.4,421.5 L1499.7,420.8 L1501.0,420.1 L1502.3,419.4 L1503.6,418.6 L1504.9,417.9 L1506.2,417.1 L1507.4,416.4 L1508.7,415.6 L1509.9,414.8 L1511.2,414.0 L1512.4,413.2 L1513.6,412.3 L1514.8,411.5 L1516.0,410.6 L1517.2,409.7 L1518.3,408.9 L1519.5,408.0 L1520.6,407.0 L1521.7,406.1 L1522.9,405.1 L1524.0,404.2 L1525.0,403.2 L1526.1,402.2 L1527.2,401.2 L1528.2,400.1 L1529.3,399.1 L1530.3,398.0 L1531.3,396.9 L1532.3,395.8 L1533.3,394.7 L1534.2,393.5 L1535.2,392.4 L1536.2,391.2 L1537.1,390.1 L1538.1,388.9 L1539.0,387.8 L1540.0,386.6 L1541.0,385.5 L1542.0,384.3 L1543.0,383.2 L1544.0,382.1 L1545.0,381.0 L1546.1,379.9 L1547.1,378.9 L1548.2,377.8 L1549.3,376.8 L1550.5,375.9 L1551.7,374.9 L1552.9,374.0 L1554.1,373.2 L1555.4,372.3 L1556.7,371.6 L1558.1,370.8 L1559.5,370.1 L1560.9,369.5 L1562.4,368.9 L1563.9,368.3 L1565.4,367.8 L1566.9,367.4 L1568.4,367.0 L1570.0,366.6 L1571.5,366.3 L1573.0,366.0 L1574.6,365.8 L1576.1,365.6 L1577.6,365.5 L1579.1,365.5 L1580.6,365.5 L1582.1,365.5 L1583.6,365.6 L1585.0,365.7 L1586.5,365.9 L1587.9,366.1 L1589.4,366.3 L1590.8,366.6 L1592.2,367.0 L1593.6,367.4 L1594.9,367.8 L1596.3,368.3 L1597.6,368.8 L1598.9,369.4 L1600.2,370.0 L1601.5,370.6 L1602.8,371.3 L1604.0,372.0 L1605.2,372.8 L1606.5,373.6 L1607.7,374.4 L1608.8,375.3 L1610.0,376.1 L1611.2,377.1 L1612.3,378.0 L1613.4,378.9 L1614.6,379.9 L1615.7,380.9 L1616.8,381.9 L1617.9,383.0 L1619.0,384.0 L1620.1,385.1 L1621.2,386.2 L1622.2,387.2 L1623.3,388.3 L1624.4,389.4 L1625.5,390.5 L1626.5,391.6 L1627.6,392.7 L1628.7,393.8 L1629.8,394.9 L1630.9,396.0 L1632.0,397.1 L1633.0,398.2 L1634.1,399.3 L1635.3,400.3 L1636.4,401.4 L1637.5,402.4 L1638.6,403.4 L1639.8,404.4 L1640.9,405.4 L1642.1,406.4 L1643.3,407.3 L1644.5,408.2 L1645.7,409.1 L1646.9,409.9 L1648.1,410.8 L1649.4,411.6 L1650.7,412.3 L1652.0,413.1 L1653.3,413.8 L1654.6,414.5 L1655.9,415.2 L1657.2,415.8 L1658.6,416.5 L1659.9,417.1 L1661.3,417.7 L1662.7,418.3 L1664.0,418.9 L1665.4,419.4 L1666.8,420.0 L1668.2,420.5 L1669.6,421.0 L1671.0,421.6 L1672.5,422.1 L1673.9,422.6 L1675.3,423.1 L1676.7,423.6 L1678.1,424.1 L1679.6,424.6 L1681.0,425.2 L1682.4,425.7 L1683.8,426.2 L1685.2,426.7 L1686.6,427.2 L1688.0,427.8 L1689.4,428.3 L1690.8,428.9 L1692.2,429.5 L1693.6,430.1 L1695.0,430.7 L1696.4,431.3 L1697.7,431.9 L1699.1,432.5 L1700.5,433.1 L1701.8,433.8 L1703.2,434.4 L1704.5,435.1 L1705.9,435.7 L1707.2,436.4 L1708.5,437.1 L1709.8,437.8 L1711.2,438.5 L1712.5,439.3 L1713.8,440.0 L1715.1,440.7 L1716.4,441.5 L1717.6,442.2 L1718.9,443.0 L1720.2,443.8 L1721.5,444.6 L1722.7,445.4 L1724.0,446.2 L1725.2,447.0 L1726.5,447.8 L1727.7,448.7 L1728.9,449.5 L1730.2,450.4 L1731.4,451.2 L1732.6,452.1 L1733.8,452.9 L1735.1,453.8 L1736.3,454.7 L1737.5,455.5 L1738.7,456.4 L1740.0,457.3 L1741.2,458.1" stroke="#3CC36E" stroke-width="10.2" fill="none" stroke-linejoin="round" shape-rendering="crispEdges"/><path d="M371.5,424.6 L372.9,424.2 L374.4,423.9 L375.8,423.6 L377.3,423.2 L378.8,422.9 L380.3,422.5 L381.7,422.2 L383.2,421.9 L384.7,421.5 L386.2,421.2 L387.7,420.9 L389.1,420.6 L390.6,420.3 L392.1,420.1 L393.6,419.8 L395.1,419.5 L396.6,419.3 L398.1,419.1 L399.6,418.9 L401.1,418.7 L402.5,418.6 L404.0,418.4 L405.5,418.3 L407.0,418.2 L408.5,418.1 L410.0,418.1 L411.4,418.1 L412.9,418.1 L414.4,418.1 L415.9,418.2 L417.3,418.3 L418.8,418.4 L420.3,418.6 L421.7,418.8 L423.2,419.0 L424.6,419.3 L426.1,419.6 L427.5,419.9 L428.9,420.3 L430.4,420.7 L431.8,421.2 L433.2,421.6 L434.7,422.1 L436.1,422.6 L437.5,423.2 L438.9,423.7 L440.3,424.3 L441.7,424.9 L443.1,425.6 L444.4,426.2 L445.8,426.9 L447.2,427.6 L448.6,428.3 L449.9,429.0 L451.3,429.8 L452.6,430.5 L453.9,431.3 L455.3,432.1 L456.6,432.9 L457.9,433.7 L459.2,434.5 L460.5,435.3 L461.8,436.1 L463.1,437.0 L464.4,437.8 L465.6,438.6 L466.9,439.5 L468.2,440.3 L469.4,441.2 L470.6,442.0 L471.9,442.9 L473.1,443.7 L474.3,444.6 L475.5,445.5 L476.7,446.3 L477.9,447.2 L479.1,448.1 L480.3,449.0 L481.4,449.9 L482.6,450.8 L483.8,451.7 L484.9,452.6 L486.1,453.5 L487.2,454.4 L488.3,455.3 L489.5,456.3 L490.6,457.2 L491.7,458.1 L492.8,459.1 L493.9,460.0 L495.0,461.0 L496.1,462.0 L497.2,463.0 L498.3,464.0 L499.4,465.0 L500.4,466.0 L501.5,467.0 L502.6,468.0 L503.6,469.0 L504.7,470.0 L505.7,471.1 L506.8,472.1 L507.8,473.2 L508.8,474.3 L509.9,475.4 L510.9,476.5 L511.9,477.6 L512.9,478.7 L514.0,479.8 L515.0,480.9 L516.0,482.1 L517.0,483.2 L518.0,484.4 L519.0,485.5 L520.0,486.7 L521.0,487.9 L522.0,489.1 L522.9,490.3 L523.9,491.5 L524.9,492.7 L525.9,493.9 L526.9,495.1 L527.9,496.3 L528.9,497.5 L529.9,498.7 L530.9,499.9 L531.9,501.1 L532.9,502.3 L533.9,503.5 L534.9,504.7 L535.9,505.9 L536.9,507.0 L537.9,508.2 L539.0,509.3 L540.0,510.5 L541.0,511.6 L542.1,512.7 L543.1,513.8 L544.2,514.9 L545.3,515.9 L546.4,517.0 L547.4,518.0 L548.5,519.0 L549.6,520.0 L550.7,521.0 L551.9,521.9 L553.0,522.8 L554.1,523.7 L555.3,524.6 L556.5,525.4 L557.7,526.2 L558.8,527.0 L560.1,527.8 L561.3,528.5 L562.5,529.2 L563.8,529.8 L565.0,530.5 L566.3,531.0 L567.6,531.6 L568.9,532.1 L570.2,532.6 L571.6,533.0 L572.9,533.4 L574.3,533.8 L575.7,534.1 L577.1,534.4 L578.5,534.6 L580.0,534.8 L581.5,535.0 L582.9,535.1 L584.4,535.2 L586.0,535.2 L587.5,535.2 L589.0,535.2 L590.6,535.2 L592.1,535.1 L593.7,535.1 L595.3,535.0 L596.9,534.9 L598.4,534.9 L600.0,534.8 L601.6,534.7 L603.2,534.6 L604.8,534.6 L606.4,534.5 L607.9,534.5 L609.5,534.5 L611.1,534.5 L612.6,534.5 L614.2,534.6 L615.7,534.6 L617.3,534.8 L618.8,534.9 L620.3,535.1 L621.8,535.4 L623.2,535.7 L624.7,536.0 L626.1,536.4 L627.6,536.9 L629.0,537.4 L630.3,537.9 L631.7,538.4 L633.1,539.0 L634.4,539.7 L635.7,540.3 L637.0,541.0 L638.3,541.8 L639.5,542.6 L640.8,543.4 L642.0,544.2 L643.2,545.1 L644.3,546.0 L645.5,546.9 L646.6,547.8 L647.7,548.8 L648.8,549.8 L649.9,550.7 L651.0,551.8 L652.1,552.8 L653.2,553.8 L654.2,554.9 L655.3,555.9 L656.3,557.0 L657.4,558.1 L658.4,559.2 L659.5,560.2 L660.5,561.3 L661.6,562.4 L662.6,563.5 L663.7,564.5 L664.8,565.6 L665.9,566.6 L667.0,567.7 L668.1,568.7 L669.2,569.7 L670.4,570.7 L671.5,571.7 L672.7,572.6 L673.9,573.5 L675.1,574.5 L676.4,575.3 L677.7,576.2 L679.0,577.0 L680.3,577.8 L681.6,578.6 L683.0,579.3 L684.4,580.0 L685.9,580.6 L687.4,581.2 L688.9,581.8 L690.4,582.3 L691.9,582.7 L693.4,583.1 L694.9,583.4 L696.5,583.7 L698.0,583.9 L699.5,584.0 L701.0,584.0 L702.4,584.0 L703.9,583.8 L705.3,583.6 L706.7,583.3 L708.0,582.9 L709.3,582.5 L710.6,581.9 L711.9,581.3 L713.2,580.7 L714.4,580.0 L715.6,579.2 L716.8,578.4 L718.0,577.5 L719.2,576.6 L720.3,575.6 L721.4,574.6 L722.5,573.6 L723.6,572.5 L724.7,571.4 L725.7,570.2 L726.8,569.1 L727.8,567.9 L728.8,566.7 L729.8,565.5 L730.8,564.3 L731.8,563.1 L732.8,561.9 L733.8,560.7 L734.7,559.4 L735.7,558.2 L736.7,557.0 L737.6,555.9 L738.6,554.7 L739.5,553.5 L740.4,552.4 L741.4,551.2 L742.3,550.1 L743.2,549.0 L744.2,547.9 L745.1,546.7 L746.0,545.6 L747.0,544.5 L747.9,543.4 L748.8,542.3 L749.8,541.2 L750.7,540.1 L751.7,539.0 L752.6,537.8 L753.6,536.7 L754.5,535.6 L755.5,534.5 L756.5,533.3 L757.5,532.2 L758.5,531.0 L759.5,529.9 L760.5,528.7 L761.5,527.5 L762.5,526.3 L763.6,525.1 L764.6,524.0 L765.7,522.8 L766.7,521.6 L767.8,520.4 L768.9,519.3 L770.0,518.2 L771.1,517.1 L772.3,516.0 L773.4,514.9 L774.5,513.9 L775.7,512.8 L776.9,511.9 L778.1,510.9 L779.3,510.0 L780.5,509.2 L781.7,508.4 L782.9,507.6 L784.2,506.9 L785.4,506.2 L786.7,505.6 L788.0,505.1 L789.3,504.6 L790.6,504.2 L791.9,503.9 L793.2,503.6 L794.6,503.4 L795.9,503.3 L797.3,503.2 L798.7,503.3 L800.1,503.4 L801.5,503.6 L802.9,503.9 L804.4,504.2 L805.8,504.6 L807.2,505.1 L808.7,505.6 L810.1,506.2 L811.5,506.9 L812.9,507.6 L814.3,508.4 L815.7,509.2 L817.1,510.0 L818.5,510.9 L819.8,511.8 L821.2,512.7 L822.5,513.7 L823.8,514.7 L825.0,515.7 L826.2,516.7 L827.4,517.8 L828.6,518.8 L829.8,519.9 L830.9,521.0 L832.1,522.1 L833.2,523.2 L834.3,524.3 L835.4,525.4 L836.4,526.5 L837.5,527.6 L838.6,528.7 L839.6,529.9 L840.7,530.9 L841.8,532.0 L842.8,533.1 L843.9,534.2 L844.9,535.2 L846.0,536.3 L847.1,537.3 L848.1,538.3 L849.2,539.2 L850.3,540.2 L851.4,541.1 L852.6,542.0 L853.7,542.8 L854.9,543.6 L856.1,544.4 L857.3,545.2 L858.5,545.9 L859.8,546.6 L861.1,547.2 L862.4,547.8 L863.7,548.3 L865.1,548.8 L866.5,549.2 L867.9,549.6 L869.4,550.0 L870.9,550.3 L872.4,550.5 L873.9,550.7 L875.4,550.9 L877.0,551.1 L878.5,551.2 L880.1,551.3 L881.7,551.3 L883.2,551.3 L884.8,551.3 L886.3,551.3 L887.9,551.3 L889.4,551.3 L890.9,551.2 L892.4,551.2 L893.9,551.1 L895.4,551.1 L896.9,551.1 L898.3,551.1 L899.8,551.2 L901.2,551.3 L902.7,551.4 L904.1,551.6 L905.5,551.9 L906.9,552.2 L908.3,552.6 L909.7,553.1 L911.1,553.6 L912.5,554.2 L913.8,554.8 L915.1,555.5 L916.5,556.3 L917.8,557.1 L919.1,557.9 L920.4,558.8 L921.7,559.7 L922.9,560.6 L924.2,561.6 L925.4,562.6 L926.6,563.6 L927.8,564.6 L928.9,565.6 L930.1,566.7 L931.2,567.8 L932.3,568.8 L933.4,569.9 L934.5,571.0 L935.5,572.1 L936.6,573.2 L937.6,574.3 L938.6,575.4 L939.6,576.6 L940.6,577.7 L941.5,578.9 L942.5,580.0 L943.4,581.2 L944.3,582.3 L945.2,583.5 L946.1,584.7 L947.0,585.9 L947.9,587.1 L948.8,588.3 L949.6,589.5 L950.5,590.7 L951.3,592.0 L952.1,593.2 L952.9,594.4 L953.8,595.7 L954.6,596.9 L955.4,598.2 L956.1,599.4 L956.9,600.7 L957.7,601.9 L958.5,603.2 L959.2,604.5 L960.0,605.8 L960.8,607.0 L961.5,608.3 L962.3,609.6 L963.0,610.9 L963.8,612.2 L964.5,613.4 L965.3,614.7 L966.0,616.0 L966.8,617.3 L967.5,618.6 L968.3,619.9 L969.0,621.2 L969.8,622.5 L970.5,623.8 L971.3,625.1 L972.0,626.4 L972.8,627.7 L973.5,629.0 L974.3,630.3 L975.1,631.6 L975.8,632.9 L976.6,634.2 L977.3,635.5 L978.1,636.8 L978.9,638.1 L979.6,639.4 L980.4,640.7 L981.1,642.0 L981.9,643.3 L982.7,644.6 L983.4,645.9 L984.2,647.2 L984.9,648.5 L985.7,649.8 L986.4,651.1 L987.2,652.4 L987.9,653.7 L988.7,655.1 L989.4,656.4 L990.2,657.7 L990.9,659.0 L991.7,660.3 L992.4,661.6 L993.2,662.9 L993.9,664.3 L994.6,665.6 L995.4,666.9 L996.1,668.2 L996.8,669.5 L997.5,670.9 L998.3,672.2 L999.0,673.5 L999.7,674.9 L1000.4,676.2 L1001.1,677.5 L1001.8,678.8 L1002.5,680.2 L1003.2,681.5 L1003.9,682.9 L1004.6,684.2 L1005.3,685.5 L1005.9,686.9 L1006.6,688.2 L1007.3,689.6 L1007.9,690.9 L1008.6,692.2 L1009.3,693.6 L1009.9,694.9 L1010.5,696.3 L1011.2,697.6 L1011.8,699.0 L1012.4,700.4 L1013.1,701.7 L1013.7,703.1 L1014.3,704.4 L1014.9,705.8 L1015.5,707.2 L1016.1,708.5 L1016.6,709.9 L1017.2,711.3 L1017.8,712.6 L1018.4,714.0 L1018.9,715.4 L1019.5,716.8 L1020.0,718.1 L1020.5,719.5 L1021.1,720.9 L1021.6,722.3 L1022.1,723.7 L1022.6,725.1 L1023.1,726.5 L1023.6,727.9 L1024.1,729.3 L1024.5,730.7 L1025.0,732.1 L1025.5,733.5 L1025.9,734.9 L1026.4,736.3 L1026.8,737.7 L1027.2,739.1 L1027.7,740.5 L1028.1,742.0 L1028.5,743.4 L1028.9,744.8 L1029.3,746.2 L1029.7,747.7 L1030.1,749.1 L1030.5,750.6 L1030.9,752.0 L1031.3,753.4 L1031.7,754.9 L1032.0,756.4 L1032.4,757.8 L1032.8,759.3 L1033.1,760.7 L1033.5,762.2 L1033.8,763.7 L1034.2,765.2 L1034.5,766.7 L1034.9,768.1 L1035.2,769.6 L1035.5,771.1 L1035.8,772.6 L1036.2,774.1 L1036.5,775.6 L1036.8,777.2 L1037.1,778.7 L1037.4,780.2 L1037.7,781.7 L1038.0,783.3 L1038.3,784.8 L1038.6,786.3 L1038.9,787.9 L1039.3,789.4 L1039.6,790.9 L1039.9,792.4 L1040.3,793.9 L1040.7,795.4 L1041.1,796.9 L1041.6,798.3 L1042.0,799.7 L1042.6,801.1 L1043.1,802.4 L1043.7,803.7 L1044.4,805.0 L1045.1,806.2 L1045.9,807.4 L1046.7,808.5 L1047.6,809.5 L1048.5,810.5 L1049.6,811.5 L1050.7,812.4 L1051.8,813.2 L1053.1,813.9 L1054.4,814.6 L1055.8,815.2 L1057.3,815.8 L1058.7,816.3 L1060.3,816.7 L1061.8,817.0 L1063.4,817.3 L1064.9,817.5 L1066.5,817.7 L1068.1,817.8 L1069.7,817.8 L1071.2,817.8 L1072.8,817.7 L1074.3,817.5 L1075.7,817.3 L1077.2,816.9 L1078.6,816.5 L1080.0,816.1 L1081.3,815.5 L1082.5,814.9 L1083.7,814.1 L1084.9,813.3 L1085.9,812.4 L1086.9,811.4 L1087.9,810.3 L1088.7,809.1 L1089.4,807.8 L1090.1,806.4 L1090.7,804.9 L1091.2,803.4 L1091.6,801.8 L1092.0,800.1 L1092.4,798.4 L1092.9,796.8 L1093.3,795.1 L1093.8,793.5 L1094.3,792.0 L1094.9,790.5 L1095.6,789.1 L1096.4,787.9 L1097.2,786.7 L1098.1,785.6 L1099.1,784.7 L1100.1,783.9 L1101.1,783.3 L1102.2,782.9 L1103.2,782.6 L1104.4,782.5 L1105.5,782.6 L1106.6,782.9 L1107.7,783.4 L1108.8,784.2 L1110.0,785.2 L1111.0,786.4 L1112.1,787.7 L1113.2,789.1 L1114.2,790.4 L1115.3,791.5 L1116.4,792.4 L1117.5,792.9 L1118.6,793.0 L1119.7,792.8 L1120.8,792.3 L1121.8,791.6 L1122.7,790.6 L1123.5,789.4 L1124.2,788.2 L1124.8,786.8 L1125.4,785.2 L1125.8,783.6 L1126.3,782.0 L1126.6,780.3 L1126.9,778.6 L1127.2,776.9 L1127.5,775.2 L1127.7,773.5 L1128.0,771.9 L1128.2,770.3 L1128.5,768.7 L1128.7,767.2 L1128.9,765.7 L1129.1,764.2 L1129.3,762.8 L1129.5,761.3 L1129.7,759.9 L1129.9,758.4 L1130.0,757.0 L1130.2,755.6 L1130.4,754.2 L1130.6,752.7 L1130.8,751.3 L1130.9,749.8 L1131.1,748.4 L1131.3,747.0 L1131.5,745.5 L1131.6,744.1 L1131.8,742.6 L1132.0,741.1 L1132.2,739.7 L1132.4,738.2 L1132.5,736.7 L1132.7,735.3 L1132.9,733.8 L1133.1,732.3 L1133.3,730.8 L1133.5,729.3 L1133.6,727.9 L1133.8,726.4 L1134.0,724.9 L1134.2,723.4 L1134.4,721.9 L1134.6,720.4 L1134.8,718.9 L1135.0,717.4 L1135.2,715.9 L1135.4,714.4 L1135.6,712.9 L1135.8,711.4 L1136.0,709.9 L1136.2,708.4 L1136.5,706.9 L1136.7,705.4 L1136.9,703.9 L1137.1,702.4 L1137.4,700.9 L1137.6,699.4 L1137.8,697.9 L1138.1,696.4 L1138.3,694.9 L1138.6,693.4 L1138.8,691.9 L1139.1,690.4 L1139.3,689.0 L1139.6,687.5 L1139.8,686.0 L1140.1,684.5 L1140.4,683.0 L1140.7,681.5 L1141.0,680.1 L1141.3,678.6 L1141.7,677.1 L1142.0,675.7 L1142.4,674.2 L1142.8,672.8 L1143.2,671.4 L1143.6,670.0 L1144.1,668.6 L1144.6,667.2 L1145.1,665.8 L1145.6,664.4 L1146.2,663.0 L1146.8,661.7 L1147.4,660.4 L1148.0,659.0 L1148.7,657.7 L1149.4,656.4 L1150.2,655.1 L1150.9,653.9 L1151.7,652.6 L1152.5,651.3 L1153.3,650.1 L1154.2,648.8 L1155.0,647.6 L1155.8,646.4 L1156.7,645.1 L1157.5,643.9 L1158.4,642.6 L1159.2,641.4 L1160.0,640.1 L1160.8,638.8 L1161.6,637.6 L1162.4,636.3 L1163.2,635.0 L1163.9,633.7 L1164.7,632.4 L1165.4,631.0 L1166.0,629.7 L1166.7,628.3 L1167.3,627.0 L1168.0,625.6 L1168.6,624.2 L1169.2,622.8 L1169.7,621.4 L1170.3,620.0 L1170.8,618.6 L1171.4,617.2 L1171.9,615.8 L1172.4,614.3 L1172.9,612.9 L1173.4,611.5 L1173.9,610.0 L1174.3,608.6 L1174.8,607.1 L1175.3,605.7 L1175.7,604.2 L1176.2,602.8 L1176.6,601.3 L1177.1,599.8 L1177.5,598.4 L1178.0,596.9 L1178.4,595.5 L1178.9,594.0 L1179.4,592.6 L1179.8,591.2 L1180.3,589.7 L1180.8,588.3 L1181.3,586.9 L1181.8,585.4 L1182.3,584.0 L1182.8,582.6 L1183.3,581.2 L1183.9,579.8 L1184.4,578.4 L1185.0,577.1 L1185.6,575.7 L1186.2,574.3 L1186.8,573.0 L1187.5,571.7 L1188.1,570.4 L1188.8,569.1 L1189.5,567.8 L1190.2,566.5 L1191.0,565.2 L1191.7,564.0 L1192.5,562.7 L1193.4,561.5 L1194.2,560.3 L1195.1,559.1 L1195.9,557.9 L1196.8,556.8 L1197.7,555.6 L1198.7,554.4 L1199.6,553.3 L1200.6,552.2 L1201.5,551.0 L1202.5,549.9 L1203.5,548.8 L1204.5,547.6 L1205.5,546.5 L1206.5,545.4 L1207.5,544.3 L1208.5,543.2 L1209.5,542.1 L1210.6,540.9 L1211.6,539.8 L1212.6,538.7 L1213.6,537.6 L1214.6,536.4 L1215.6,535.3 L1216.6,534.1 L1217.6,533.0 L1218.6,531.8 L1219.6,530.7 L1220.5,529.5 L1221.5,528.4 L1222.5,527.2 L1223.5,526.0 L1224.4,524.8 L1225.4,523.7 L1226.4,522.5 L1227.3,521.3 L1228.3,520.1 L1229.3,519.0 L1230.2,517.8 L1231.2,516.6 L1232.1,515.4 L1233.1,514.3 L1234.1,513.1 L1235.0,511.9 L1236.0,510.7 L1236.9,509.6 L1237.9,508.4 L1238.9,507.3 L1239.8,506.1 L1240.8,505.0 L1241.8,503.8 L1242.8,502.7 L1243.7,501.5 L1244.7,500.4 L1245.7,499.3 L1246.7,498.2 L1247.7,497.1 L1248.7,496.0 L1249.7,494.9 L1250.7,493.8 L1251.7,492.7 L1252.8,491.7 L1253.8,490.6 L1254.8,489.6 L1255.9,488.5 L1256.9,487.5 L1258.0,486.5 L1259.0,485.5 L1260.1,484.5 L1261.2,483.5 L1262.2,482.5 L1263.3,481.6 L1264.4,480.7 L1265.6,479.7 L1266.7,478.8 L1267.8,477.9 L1269.0,477.0 L1270.1,476.1 L1271.3,475.2 L1272.5,474.3 L1273.7,473.5 L1274.9,472.6 L1276.1,471.7 L1277.4,470.9 L1278.6,470.0 L1279.9,469.2 L1281.2,468.3 L1282.5,467.4 L1283.8,466.6 L1285.2,465.7 L1286.6,464.9 L1287.9,464.0 L1289.3,463.1 L1290.8,462.3 L1292.2,461.5 L1293.6,460.8 L1295.1,460.1 L1296.5,459.5 L1298.0,458.9 L1299.4,458.5 L1300.9,458.2 L1302.3,458.0 L1303.7,458.0 L1305.1,458.1 L1306.5,458.3 L1307.8,458.8 L1309.1,459.4 L1310.4,460.1 L1311.7,460.9 L1312.9,461.8 L1314.0,462.8 L1315.1,463.9 L1316.0,465.0 L1317.0,466.1 L1317.8,467.2 L1318.6,468.4 L1319.3,469.6 L1320.0,470.9 L1320.6,472.1 L1321.1,473.5 L1321.6,474.8 L1322.1,476.3 L1322.6,477.7 L1323.0,479.3 L1323.4,480.9 L1323.8,482.5 L1324.1,484.3 L1324.5,486.1 L1324.9,488.0 L1325.2,490.0 L1325.6,492.0 L1326.0,494.0 L1326.3,496.0 L1326.7,498.1 L1327.1,500.1 L1327.5,502.1 L1327.9,504.0 L1328.3,505.8 L1328.7,507.6 L1329.2,509.2 L1329.6,510.7 L1330.1,512.1 L1330.5,513.3 L1331.0,514.4 L1331.5,515.2 L1332.1,515.8 L1332.6,516.2 L1333.2,516.4 L1333.8,516.3 L1334.4,515.9 L1335.0,515.2 L1335.6,514.4 L1336.3,513.3 L1336.9,512.0 L1337.6,510.6 L1338.2,509.0 L1338.8,507.4 L1339.4,505.7 L1339.9,503.9 L1340.4,502.1 L1340.9,500.3 L1341.3,498.6 L1341.7,496.9 L1342.0,495.3 L1342.3,493.7 L1342.5,492.1 L1342.7,490.6 L1342.8,489.1 L1343.0,487.6 L1343.1,486.2 L1343.2,484.7 L1343.2,483.3 L1343.3,481.9 L1343.3,480.5 L1343.4,479.0 L1343.5,477.6 L1343.5,476.1 L1343.6,474.7 L1343.6,473.2 L1343.7,471.7 L1343.8,470.2 L1343.9,468.7 L1344.0,467.2 L1344.1,465.7 L1344.2,464.2 L1344.3,462.7 L1344.4,461.2 L1344.6,459.7 L1344.7,458.2 L1344.9,456.7 L1345.1,455.2 L1345.2,453.7 L1345.5,452.2 L1345.7,450.7 L1345.9,449.2 L1346.2,447.7 L1346.5,446.2 L1346.8,444.7 L1347.1,443.2 L1347.5,441.8 L1347.8,440.3 L1348.2,438.9 L1348.7,437.5 L1349.1,436.0 L1349.6,434.6 L1350.1,433.2 L1350.6,431.9 L1351.2,430.5 L1351.8,429.2 L1352.4,427.8 L1353.0,426.5 L1353.7,425.2 L1354.4,423.9 L1355.2,422.7 L1356.0,421.4 L1356.8,420.2 L1357.6,419.0 L1358.5,417.8 L1359.4,416.6 L1360.3,415.4 L1361.2,414.2 L1362.1,413.1 L1363.1,411.9 L1364.1,410.8 L1365.0,409.6 L1366.0,408.5 L1367.0,407.4 L1368.0,406.3 L1369.1,405.1 L1370.1,404.0 L1371.1,402.9 L1372.1,401.8 L1373.1,400.6 L1374.2,399.5 L1375.2,398.4 L1376.2,397.2 L1377.2,396.1 L1378.2,395.0 L1379.1,393.8 L1380.1,392.6 L1381.0,391.4 L1382.0,390.3 L1382.9,389.1 L1383.8,387.9 L1384.6,386.6 L1385.5,385.4 L1386.3,384.1 L1387.1,382.9 L1387.9,381.6 L1388.7,380.3 L1389.4,379.0 L1390.2,377.7 L1390.9,376.4 L1391.7,375.1 L1392.4,373.8 L1393.1,372.5 L1393.8,371.2 L1394.5,369.9 L1395.3,368.6 L1396.0,367.3 L1396.7,366.0 L1397.4,364.6 L1398.1,363.3 L1398.9,362.1 L1399.6,360.8 L1400.4,359.5 L1401.2,358.2 L1401.9,357.0 L1402.7,355.7 L1403.6,354.5 L1404.4,353.3 L1405.3,352.1 L1406.1,350.9 L1407.0,349.7 L1408.0,348.5 L1408.9,347.4 L1409.9,346.3 L1410.9,345.2 L1411.9,344.1 L1413.0,343.0 L1414.1,342.0 L1415.2,341.0 L1416.3,340.0 L1417.5,339.0 L1418.7,338.1 L1419.9,337.1 L1421.1,336.2 L1422.4,335.3 L1423.6,334.5 L1424.9,333.7 L1426.2,332.8 L1427.5,332.1 L1428.9,331.3 L1430.2,330.6 L1431.6,329.9 L1432.9,329.2 L1434.3,328.5 L1435.7,327.9 L1437.1,327.3 L1438.5,326.7 L1439.9,326.1 L1441.4,325.6 L1442.8,325.1 L1444.2,324.6 L1445.7,324.2 L1447.1,323.8 L1448.6,323.4 L1450.0,323.0 L1451.5,322.7 L1452.9,322.4 L1454.4,322.1 L1455.8,321.8 L1457.3,321.6 L1458.8,321.4 L1460.2,321.3 L1461.7,321.1 L1463.2,321.0 L1464.6,320.9 L1466.1,320.8 L1467.6,320.8 L1469.0,320.8 L1470.5,320.8 L1472.0,320.8 L1473.5,320.9 L1475.0,320.9 L1476.4,321.0 L1477.9,321.1 L1479.4,321.3 L1480.9,321.5 L1482.4,321.6 L1483.9,321.8 L1485.4,322.1 L1486.9,322.3 L1488.4,322.6 L1489.9,322.8 L1491.4,323.0 L1492.9,323.2 L1494.4,323.4 L1495.9,323.5 L1497.4,323.6 L1498.9,323.7 L1500.4,323.6 L1502.0,323.6 L1503.5,323.4 L1505.0,323.2 L1506.5,322.9 L1508.0,322.6 L1509.5,322.2 L1511.0,321.7 L1512.4,321.2 L1513.9,320.7 L1515.3,320.1 L1516.6,319.5 L1518.0,318.8 L1519.3,318.1 L1520.6,317.4 L1521.9,316.6 L1523.1,315.9 L1524.2,315.0 L1525.4,314.2 L1526.5,313.4 L1527.6,312.5 L1528.7,311.6 L1529.9,310.7 L1531.0,309.9 L1532.2,309.0 L1533.4,308.1 L1534.7,307.2 L1535.9,306.4 L1537.2,305.5 L1538.5,304.6 L1539.8,303.8 L1541.1,303.0 L1542.5,302.2 L1543.8,301.4 L1545.2,300.6 L1546.6,299.9 L1548.0,299.1 L1549.4,298.4 L1550.8,297.8 L1552.3,297.1 L1553.7,296.5 L1555.2,295.9 L1556.6,295.4 L1558.1,294.9 L1559.5,294.4 L1561.0,294.0 L1562.4,293.6 L1563.9,293.2 L1565.4,292.9 L1566.8,292.7 L1568.3,292.5 L1569.7,292.3 L1571.2,292.2 L1572.6,292.2 L1574.1,292.2 L1575.5,292.3 L1576.9,292.4 L1578.3,292.6 L1579.7,292.9 L1581.1,293.2 L1582.5,293.5 L1583.8,293.9 L1585.2,294.4 L1586.5,294.8 L1587.9,295.4 L1589.2,295.9 L1590.5,296.6 L1591.8,297.2 L1593.1,297.9 L1594.4,298.7 L1595.7,299.4 L1597.0,300.2 L1598.2,301.1 L1599.4,301.9 L1600.7,302.8 L1601.9,303.8 L1603.1,304.7 L1604.3,305.7 L1605.5,306.7 L1606.6,307.7 L1607.8,308.8 L1608.9,309.8 L1610.0,310.9 L1611.2,312.0 L1612.3,313.1 L1613.3,314.3 L1614.4,315.4 L1615.5,316.6 L1616.5,317.7 L1617.5,318.9 L1618.5,320.1 L1619.5,321.3 L1620.5,322.5 L1621.5,323.7 L1622.4,324.8 L1623.4,326.0 L1624.3,327.2 L1625.2,328.4 L1626.1,329.6 L1627.0,330.8 L1627.9,332.0 L1628.8,333.1 L1629.7,334.3 L1630.6,335.5 L1631.5,336.6 L1632.4,337.8 L1633.3,338.9 L1634.2,340.0 L1635.1,341.1 L1636.0,342.2 L1637.0,343.3 L1638.0,344.4 L1638.9,345.5 L1639.9,346.5 L1640.9,347.5 L1642.0,348.5 L1643.0,349.5 L1644.1,350.5 L1645.2,351.4 L1646.4,352.3 L1647.5,353.2 L1648.7,354.1 L1650.0,355.0 L1651.2,355.8 L1652.5,356.6 L1653.9,357.4 L1655.2,358.2 L1656.6,358.9 L1658.0,359.6 L1659.4,360.3 L1660.8,361.0 L1662.2,361.6 L1663.6,362.3 L1665.0,362.9 L1666.5,363.5 L1667.9,364.0 L1669.4,364.6 L1670.8,365.1 L1672.2,365.6 L1673.7,366.2 L1675.1,366.7 L1676.5,367.1 L1678.0,367.6 L1679.4,368.1 L1680.8,368.6 L1682.3,369.1 L1683.7,369.5 L1685.1,370.0 L1686.5,370.5 L1687.9,370.9 L1689.3,371.4 L1690.7,371.9 L1692.1,372.4 L1693.5,372.9 L1694.9,373.4 L1696.2,374.0 L1697.6,374.5 L1699.0,375.1 L1700.3,375.6 L1701.6,376.2 L1703.0,376.9 L1704.3,377.5 L1705.6,378.2 L1706.9,378.9 L1708.2,379.6 L1709.4,380.3 L1710.7,381.1 L1712.0,381.9 L1713.2,382.8 L1714.4,383.6 L1715.6,384.5 L1716.9,385.4 L1718.1,386.4 L1719.2,387.3 L1720.4,388.3 L1721.6,389.2 L1722.8,390.2 L1724.0,391.2 L1725.2,392.1 L1726.4,393.1 L1727.5,394.1 L1728.7,395.0 L1729.9,396.0 L1731.1,396.9 L1732.3,397.8 L1733.5,398.7 L1734.7,399.5 L1736.0,400.3 L1737.2,401.1 L1738.4,401.9 L1739.7,402.6 L1741.0,403.2" stroke="#666699" stroke-width="10.2" fill="none" stroke-linejoin="round" shape-rendering="crispEdges"/><path d="M371.4,360.0 L372.9,359.4 L374.3,358.9 L375.8,358.4 L377.2,357.8 L378.7,357.4 L380.2,356.9 L381.6,356.4 L383.1,356.0 L384.5,355.6 L386.0,355.2 L387.5,354.9 L388.9,354.5 L390.4,354.2 L391.9,353.9 L393.4,353.7 L394.8,353.4 L396.3,353.2 L397.8,353.0 L399.3,352.8 L400.8,352.6 L402.2,352.5 L403.7,352.4 L405.2,352.3 L406.7,352.2 L408.1,352.2 L409.6,352.1 L411.1,352.1 L412.6,352.2 L414.1,352.2 L415.5,352.3 L417.0,352.3 L418.5,352.5 L419.9,352.6 L421.4,352.7 L422.9,352.9 L424.3,353.1 L425.8,353.3 L427.3,353.6 L428.7,353.9 L430.2,354.1 L431.6,354.5 L433.1,354.8 L434.5,355.1 L436.0,355.5 L437.4,355.9 L438.9,356.3 L440.3,356.8 L441.7,357.2 L443.1,357.7 L444.6,358.2 L446.0,358.7 L447.4,359.3 L448.8,359.8 L450.2,360.4 L451.6,361.0 L453.0,361.6 L454.4,362.2 L455.7,362.8 L457.1,363.5 L458.5,364.2 L459.8,364.9 L461.2,365.6 L462.5,366.3 L463.9,367.0 L465.2,367.7 L466.5,368.5 L467.9,369.3 L469.2,370.1 L470.5,370.8 L471.8,371.7 L473.1,372.5 L474.3,373.3 L475.6,374.1 L476.9,375.0 L478.1,375.9 L479.4,376.7 L480.6,377.6 L481.8,378.5 L483.0,379.4 L484.3,380.3 L485.5,381.2 L486.6,382.1 L487.8,383.1 L489.0,384.0 L490.2,385.0 L491.3,385.9 L492.4,386.9 L493.6,387.8 L494.7,388.8 L495.8,389.8 L496.9,390.8 L498.0,391.8 L499.1,392.8 L500.2,393.8 L501.3,394.8 L502.4,395.8 L503.5,396.8 L504.5,397.8 L505.6,398.9 L506.7,399.9 L507.7,400.9 L508.8,402.0 L509.8,403.0 L510.8,404.1 L511.9,405.1 L512.9,406.2 L513.9,407.3 L515.0,408.3 L516.0,409.4 L517.0,410.5 L518.0,411.6 L519.1,412.6 L520.1,413.7 L521.1,414.8 L522.1,415.9 L523.1,417.0 L524.1,418.1 L525.2,419.2 L526.2,420.2 L527.2,421.3 L528.2,422.4 L529.2,423.5 L530.2,424.6 L531.3,425.7 L532.3,426.8 L533.3,427.9 L534.3,429.0 L535.4,430.1 L536.4,431.2 L537.5,432.3 L538.5,433.4 L539.5,434.5 L540.6,435.6 L541.6,436.7 L542.7,437.8 L543.8,438.9 L544.8,440.0 L545.9,441.1 L547.0,442.2 L548.1,443.3 L549.2,444.3 L550.3,445.4 L551.4,446.5 L552.5,447.6 L553.7,448.6 L554.8,449.6 L556.0,450.6 L557.1,451.6 L558.3,452.5 L559.5,453.4 L560.7,454.2 L562.0,455.0 L563.2,455.8 L564.5,456.5 L565.8,457.1 L567.1,457.7 L568.5,458.2 L569.8,458.7 L571.2,459.1 L572.6,459.4 L574.1,459.6 L575.5,459.8 L577.0,460.0 L578.5,460.1 L580.0,460.2 L581.5,460.2 L583.0,460.2 L584.5,460.2 L586.1,460.1 L587.6,460.0 L589.2,459.9 L590.7,459.8 L592.3,459.7 L593.9,459.6 L595.4,459.4 L597.0,459.3 L598.6,459.1 L600.1,459.0 L601.7,458.9 L603.3,458.7 L604.8,458.6 L606.4,458.4 L607.9,458.3 L609.5,458.2 L611.0,458.1 L612.6,458.0 L614.1,458.0 L615.6,457.9 L617.2,457.9 L618.7,457.9 L620.2,457.9 L621.6,458.0 L623.1,458.0 L624.6,458.2 L626.0,458.3 L627.5,458.5 L628.9,458.7 L630.3,459.0 L631.7,459.3 L633.1,459.6 L634.4,460.0 L635.8,460.4 L637.1,460.9 L638.4,461.4 L639.7,462.0 L640.9,462.7 L642.1,463.4 L643.4,464.1 L644.6,464.9 L645.7,465.8 L646.9,466.7 L648.1,467.6 L649.2,468.6 L650.3,469.6 L651.5,470.6 L652.6,471.6 L653.7,472.7 L654.8,473.8 L655.9,474.9 L657.0,476.0 L658.2,477.1 L659.3,478.2 L660.4,479.3 L661.6,480.4 L662.7,481.4 L663.9,482.5 L665.1,483.5 L666.3,484.6 L667.5,485.6 L668.7,486.5 L669.9,487.5 L671.2,488.4 L672.4,489.3 L673.7,490.2 L675.0,491.0 L676.3,491.8 L677.6,492.6 L678.9,493.3 L680.2,494.0 L681.6,494.6 L682.9,495.2 L684.3,495.8 L685.7,496.3 L687.1,496.8 L688.5,497.2 L689.9,497.5 L691.3,497.9 L692.7,498.1 L694.2,498.3 L695.6,498.5 L697.1,498.5 L698.5,498.6 L700.0,498.5 L701.5,498.4 L703.0,498.2 L704.5,498.0 L706.0,497.7 L707.5,497.3 L709.0,496.9 L710.4,496.4 L711.9,495.9 L713.3,495.3 L714.7,494.6 L716.0,493.9 L717.3,493.2 L718.6,492.3 L719.8,491.5 L721.0,490.5 L722.2,489.6 L723.3,488.5 L724.3,487.5 L725.4,486.4 L726.4,485.3 L727.3,484.1 L728.3,482.9 L729.2,481.7 L730.1,480.5 L731.0,479.2 L731.8,478.0 L732.7,476.7 L733.5,475.4 L734.3,474.1 L735.2,472.8 L736.0,471.6 L736.8,470.3 L737.6,469.0 L738.4,467.7 L739.2,466.4 L740.0,465.2 L740.8,463.9 L741.6,462.6 L742.4,461.4 L743.2,460.1 L744.0,458.8 L744.8,457.6 L745.6,456.3 L746.4,455.0 L747.2,453.8 L748.0,452.5 L748.8,451.2 L749.5,450.0 L750.3,448.7 L751.1,447.4 L751.9,446.2 L752.6,444.9 L753.4,443.6 L754.1,442.3 L754.9,441.0 L755.7,439.7 L756.4,438.4 L757.1,437.1 L757.9,435.8 L758.6,434.5 L759.4,433.2 L760.1,431.8 L760.8,430.5 L761.6,429.2 L762.3,427.8 L763.0,426.5 L763.8,425.2 L764.5,423.8 L765.3,422.5 L766.0,421.2 L766.8,419.9 L767.6,418.6 L768.4,417.3 L769.2,416.0 L770.1,414.8 L771.0,413.6 L771.9,412.4 L772.8,411.2 L773.7,410.0 L774.7,408.9 L775.7,407.7 L776.7,406.7 L777.8,405.6 L778.9,404.6 L780.1,403.6 L781.3,402.7 L782.5,401.8 L783.8,400.9 L785.1,400.1 L786.5,399.3 L787.8,398.6 L789.2,397.9 L790.7,397.3 L792.1,396.8 L793.6,396.3 L795.0,395.8 L796.5,395.4 L798.0,395.1 L799.5,394.9 L800.9,394.7 L802.4,394.6 L803.9,394.6 L805.3,394.7 L806.7,394.8 L808.1,395.0 L809.5,395.3 L810.9,395.6 L812.3,396.0 L813.7,396.4 L815.1,396.9 L816.5,397.4 L817.8,398.0 L819.2,398.6 L820.6,399.2 L821.9,399.9 L823.3,400.6 L824.7,401.3 L826.1,402.0 L827.5,402.8 L828.9,403.6 L830.3,404.4 L831.6,405.2 L833.0,405.9 L834.4,406.7 L835.8,407.5 L837.2,408.3 L838.6,409.1 L840.0,409.8 L841.4,410.5 L842.8,411.2 L844.2,411.9 L845.7,412.5 L847.1,413.1 L848.5,413.7 L849.9,414.2 L851.3,414.7 L852.7,415.1 L854.1,415.5 L855.5,415.8 L856.9,416.0 L858.2,416.2 L859.6,416.3 L861.0,416.4 L862.4,416.3 L863.8,416.2 L865.2,416.0 L866.5,415.7 L867.9,415.3 L869.3,414.9 L870.6,414.4 L872.0,413.8 L873.3,413.1 L874.7,412.4 L876.0,411.7 L877.3,410.9 L878.6,410.0 L879.9,409.2 L881.2,408.2 L882.5,407.3 L883.7,406.3 L885.0,405.3 L886.2,404.3 L887.4,403.3 L888.6,402.3 L889.8,401.3 L890.9,400.3 L892.1,399.2 L893.2,398.2 L894.4,397.2 L895.5,396.1 L896.6,395.1 L897.7,394.1 L898.9,393.1 L900.0,392.0 L901.1,391.0 L902.2,390.1 L903.4,389.1 L904.5,388.1 L905.6,387.2 L906.8,386.3 L908.0,385.4 L909.1,384.5 L910.3,383.6 L911.5,382.8 L912.7,382.0 L913.9,381.2 L915.2,380.4 L916.5,379.7 L917.8,379.0 L919.1,378.4 L920.4,377.8 L921.8,377.2 L923.2,376.6 L924.6,376.1 L926.0,375.7 L927.5,375.3 L929.0,374.9 L930.6,374.6 L932.1,374.3 L933.7,374.1 L935.2,374.0 L936.8,374.0 L938.3,374.0 L939.8,374.2 L941.3,374.4 L942.7,374.7 L944.2,375.1 L945.6,375.5 L947.0,376.1 L948.4,376.6 L949.7,377.2 L951.1,377.9 L952.4,378.6 L953.7,379.3 L955.1,380.0 L956.4,380.8 L957.7,381.5 L959.0,382.3 L960.3,383.0 L961.6,383.7 L962.9,384.5 L964.2,385.2 L965.4,386.0 L966.7,386.7 L968.0,387.4 L969.3,388.2 L970.6,389.0 L971.8,389.7 L973.1,390.5 L974.4,391.3 L975.6,392.2 L976.9,393.0 L978.1,393.9 L979.4,394.8 L980.6,395.8 L981.8,396.7 L983.1,397.7 L984.3,398.7 L985.5,399.7 L986.8,400.7 L988.0,401.7 L989.2,402.6 L990.5,403.5 L991.7,404.4 L993.0,405.3 L994.3,406.1 L995.6,406.8 L996.9,407.5 L998.2,408.1 L999.5,408.7 L1000.9,409.1 L1002.3,409.4 L1003.7,409.7 L1005.1,409.9 L1006.5,409.9 L1007.9,409.9 L1009.3,409.8 L1010.8,409.6 L1012.2,409.3 L1013.6,408.9 L1015.0,408.4 L1016.4,407.8 L1017.8,407.2 L1019.2,406.4 L1020.5,405.6 L1021.9,404.7 L1023.2,403.7 L1024.5,402.6 L1025.7,401.6 L1027.0,400.5 L1028.2,399.5 L1029.5,398.5 L1030.7,397.5 L1031.9,396.7 L1033.1,395.9 L1034.3,395.3 L1035.5,394.8 L1036.7,394.5 L1037.8,394.3 L1039.0,394.4 L1040.2,394.7 L1041.4,395.2 L1042.6,395.9 L1043.7,396.7 L1044.9,397.7 L1045.9,398.8 L1047.0,399.9 L1048.0,401.2 L1048.9,402.5 L1049.8,403.9 L1050.6,405.2 L1051.4,406.6 L1052.1,408.1 L1052.8,409.5 L1053.3,411.0 L1053.9,412.4 L1054.4,413.9 L1054.8,415.4 L1055.3,416.9 L1055.6,418.4 L1056.0,419.9 L1056.3,421.5 L1056.6,423.0 L1056.8,424.5 L1057.0,426.0 L1057.2,427.6 L1057.4,429.1 L1057.6,430.6 L1057.7,432.1 L1057.9,433.6 L1058.0,435.1 L1058.2,436.6 L1058.3,438.0 L1058.4,439.5 L1058.6,440.9 L1058.7,442.3 L1058.9,443.7 L1059.0,445.1 L1059.2,446.5 L1059.4,447.8 L1059.6,449.2 L1059.8,450.5 L1060.0,451.8 L1060.2,453.2 L1060.4,454.5 L1060.6,455.9 L1060.8,457.2 L1061.0,458.6 L1061.2,460.0 L1061.5,461.4 L1061.7,462.8 L1062.0,464.2 L1062.2,465.7 L1062.4,467.2 L1062.7,468.7 L1062.9,470.2 L1063.2,471.8 L1063.4,473.5 L1063.7,475.1 L1063.9,476.8 L1064.2,478.6 L1064.5,480.4 L1064.7,482.3 L1065.0,484.2 L1065.2,486.2 L1065.5,488.1 L1065.7,490.2 L1066.0,492.2 L1066.2,494.2 L1066.5,496.2 L1066.7,498.1 L1067.0,500.0 L1067.2,501.9 L1067.5,503.6 L1067.7,505.3 L1068.0,506.8 L1068.2,508.2 L1068.5,509.5 L1068.7,510.7 L1069.0,511.7 L1069.2,512.5 L1069.5,513.1 L1069.7,513.5 L1069.9,513.6 L1070.2,513.6 L1070.4,513.3 L1070.7,512.8 L1070.9,512.1 L1071.2,511.2 L1071.4,510.1 L1071.7,508.9 L1071.9,507.6 L1072.2,506.1 L1072.4,504.5 L1072.7,502.8 L1072.9,501.0 L1073.1,499.1 L1073.4,497.2 L1073.6,495.2 L1073.8,493.2 L1074.1,491.2 L1074.3,489.1 L1074.5,487.1 L1074.8,485.1 L1075.0,483.2 L1075.2,481.2 L1075.4,479.4 L1075.6,477.6 L1075.9,475.8 L1076.1,474.1 L1076.3,472.4 L1076.5,470.7 L1076.7,469.1 L1076.9,467.5 L1077.1,466.0 L1077.3,464.5 L1077.5,463.0 L1077.7,461.5 L1077.9,460.1 L1078.1,458.7 L1078.3,457.3 L1078.5,455.9 L1078.7,454.5 L1078.9,453.2 L1079.1,451.8 L1079.2,450.5 L1079.4,449.2 L1079.6,447.8 L1079.8,446.5 L1080.0,445.2 L1080.2,443.8 L1080.4,442.5 L1080.5,441.2 L1080.7,439.8 L1080.9,438.5 L1081.1,437.1 L1081.3,435.7 L1081.4,434.3 L1081.6,432.9 L1081.8,431.5 L1082.0,430.1 L1082.2,428.7 L1082.4,427.3 L1082.6,425.8 L1082.7,424.4 L1082.9,422.9 L1083.1,421.5 L1083.3,420.0 L1083.5,418.5 L1083.7,417.0 L1083.9,415.5 L1084.1,414.1 L1084.3,412.6 L1084.5,411.0 L1084.7,409.5 L1084.9,408.0 L1085.1,406.5 L1085.4,404.9 L1085.6,403.4 L1085.8,401.9 L1086.0,400.3 L1086.3,398.8 L1086.5,397.2 L1086.7,395.6 L1087.0,394.1 L1087.2,392.5 L1087.5,390.9 L1087.8,389.3 L1088.0,387.7 L1088.3,386.1 L1088.6,384.5 L1088.8,382.9 L1089.1,381.3 L1089.4,379.7 L1089.7,378.1 L1090.0,376.5 L1090.3,374.9 L1090.7,373.3 L1091.1,371.9 L1091.5,370.5 L1092.0,369.2 L1092.5,368.0 L1093.1,366.9 L1093.7,366.0 L1094.4,365.3 L1095.2,364.7 L1096.1,364.4 L1097.1,364.3 L1098.1,364.4 L1099.3,364.7 L1100.5,365.2 L1101.7,365.9 L1103.0,366.8 L1104.2,367.7 L1105.5,368.8 L1106.7,369.9 L1107.8,371.1 L1109.0,372.4 L1110.1,373.7 L1111.3,374.9 L1112.4,376.2 L1113.5,377.4 L1114.6,378.5 L1115.7,379.6 L1116.8,380.5 L1117.9,381.4 L1119.1,382.1 L1120.2,382.6 L1121.4,382.9 L1122.5,383.1 L1123.7,383.0 L1125.0,382.8 L1126.2,382.4 L1127.5,381.9 L1128.8,381.4 L1130.1,380.8 L1131.4,380.2 L1132.8,379.6 L1134.1,379.0 L1135.5,378.5 L1136.9,377.9 L1138.3,377.3 L1139.7,376.7 L1141.1,376.1 L1142.5,375.6 L1143.9,375.0 L1145.4,374.4 L1146.8,373.8 L1148.2,373.2 L1149.7,372.6 L1151.1,372.0 L1152.6,371.4 L1154.0,370.8 L1155.4,370.2 L1156.9,369.6 L1158.3,369.0 L1159.7,368.4 L1161.1,367.8 L1162.5,367.2 L1163.9,366.6 L1165.3,366.0 L1166.7,365.3 L1168.0,364.7 L1169.4,364.1 L1170.7,363.6 L1172.1,363.0 L1173.5,362.5 L1174.8,362.0 L1176.2,361.5 L1177.6,361.1 L1179.0,360.8 L1180.4,360.5 L1181.9,360.2 L1183.3,360.1 L1184.8,360.0 L1186.3,359.9 L1187.8,359.9 L1189.3,359.9 L1190.8,360.0 L1192.3,360.1 L1193.9,360.2 L1195.4,360.3 L1197.0,360.4 L1198.5,360.5 L1200.0,360.7 L1201.6,360.8 L1203.1,360.9 L1204.7,360.9 L1206.2,361.0 L1207.7,361.0 L1209.2,360.9 L1210.7,360.8 L1212.2,360.7 L1213.7,360.5 L1215.1,360.2 L1216.5,359.8 L1218.0,359.4 L1219.4,359.0 L1220.8,358.4 L1222.1,357.9 L1223.5,357.3 L1224.9,356.6 L1226.2,356.0 L1227.6,355.3 L1228.9,354.5 L1230.2,353.8 L1231.6,353.1 L1232.9,352.3 L1234.2,351.5 L1235.5,350.8 L1236.9,350.0 L1238.2,349.3 L1239.5,348.6 L1240.8,347.8 L1242.2,347.1 L1243.5,346.4 L1244.8,345.7 L1246.1,345.0 L1247.5,344.3 L1248.8,343.6 L1250.1,342.9 L1251.5,342.3 L1252.8,341.6 L1254.2,341.0 L1255.5,340.3 L1256.8,339.7 L1258.2,339.1 L1259.5,338.5 L1260.9,337.9 L1262.3,337.3 L1263.6,336.8 L1265.0,336.2 L1266.4,335.7 L1267.7,335.1 L1269.1,334.6 L1270.5,334.1 L1271.9,333.6 L1273.3,333.2 L1274.7,332.7 L1276.1,332.3 L1277.5,331.9 L1278.9,331.4 L1280.4,331.1 L1281.8,330.7 L1283.2,330.3 L1284.7,330.0 L1286.1,329.7 L1287.6,329.4 L1289.0,329.1 L1290.5,328.8 L1292.0,328.6 L1293.5,328.4 L1295.0,328.2 L1296.5,328.0 L1298.0,327.8 L1299.5,327.7 L1301.0,327.5 L1302.6,327.4 L1304.1,327.3 L1305.6,327.2 L1307.2,327.1 L1308.7,327.0 L1310.3,326.9 L1311.8,326.8 L1313.3,326.7 L1314.9,326.6 L1316.4,326.5 L1317.9,326.3 L1319.4,326.2 L1320.9,326.0 L1322.4,325.8 L1323.9,325.5 L1325.4,325.2 L1326.8,324.9 L1328.3,324.6 L1329.7,324.2 L1331.1,323.7 L1332.5,323.2 L1333.9,322.7 L1335.3,322.1 L1336.6,321.5 L1338.0,320.9 L1339.3,320.2 L1340.6,319.5 L1341.9,318.8 L1343.2,318.0 L1344.5,317.2 L1345.7,316.4 L1347.0,315.6 L1348.2,314.8 L1349.5,313.9 L1350.7,313.0 L1351.9,312.2 L1353.2,311.3 L1354.4,310.4 L1355.6,309.4 L1356.8,308.5 L1358.0,307.6 L1359.2,306.7 L1360.4,305.8 L1361.6,304.9 L1362.8,303.9 L1363.9,303.0 L1365.1,302.1 L1366.3,301.1 L1367.5,300.2 L1368.6,299.2 L1369.8,298.3 L1370.9,297.3 L1372.1,296.4 L1373.2,295.4 L1374.4,294.4 L1375.5,293.5 L1376.6,292.5 L1377.7,291.5 L1378.9,290.5 L1380.0,289.5 L1381.1,288.5 L1382.2,287.5 L1383.3,286.5 L1384.4,285.4 L1385.5,284.4 L1386.5,283.4 L1387.6,282.3 L1388.7,281.3 L1389.7,280.2 L1390.8,279.2 L1391.9,278.1 L1392.9,277.0 L1393.9,276.0 L1395.0,274.9 L1396.0,273.8 L1397.0,272.7 L1398.0,271.5 L1399.0,270.4 L1400.0,269.3 L1401.0,268.1 L1402.0,267.0 L1402.9,265.8 L1403.8,264.6 L1404.7,263.4 L1405.6,262.2 L1406.5,261.0 L1407.3,259.7 L1408.1,258.5 L1408.9,257.2 L1409.7,256.0 L1410.6,254.8 L1411.4,253.6 L1412.3,252.5 L1413.3,251.4 L1414.3,250.5 L1415.4,249.5 L1416.5,248.7 L1417.7,247.9 L1418.9,247.1 L1420.2,246.4 L1421.5,245.8 L1422.8,245.2 L1424.2,244.7 L1425.6,244.2 L1427.1,243.7 L1428.5,243.3 L1430.0,243.0 L1431.5,242.7 L1433.1,242.4 L1434.6,242.1 L1436.1,241.9 L1437.7,241.7 L1439.3,241.6 L1440.9,241.4 L1442.4,241.3 L1444.0,241.3 L1445.6,241.2 L1447.1,241.2 L1448.7,241.1 L1450.2,241.1 L1451.7,241.1 L1453.2,241.1 L1454.7,241.1 L1456.1,241.2 L1457.6,241.2 L1459.0,241.3 L1460.4,241.4 L1461.8,241.5 L1463.3,241.6 L1464.7,241.8 L1466.1,241.9 L1467.5,242.2 L1469.0,242.4 L1470.5,242.7 L1471.9,243.0 L1473.4,243.4 L1474.9,243.7 L1476.4,244.1 L1477.9,244.5 L1479.5,244.9 L1481.0,245.4 L1482.5,245.8 L1484.0,246.2 L1485.6,246.6 L1487.1,247.0 L1488.6,247.4 L1490.2,247.8 L1491.7,248.1 L1493.2,248.5 L1494.7,248.8 L1496.2,249.0 L1497.7,249.3 L1499.2,249.5 L1500.7,249.6 L1502.2,249.7 L1503.6,249.8 L1505.1,249.8 L1506.5,249.7 L1507.9,249.6 L1509.3,249.4 L1510.7,249.1 L1512.0,248.8 L1513.4,248.4 L1514.7,248.0 L1516.0,247.5 L1517.4,247.0 L1518.7,246.4 L1520.0,245.8 L1521.3,245.2 L1522.7,244.5 L1524.0,243.9 L1525.3,243.2 L1526.7,242.5 L1528.0,241.8 L1529.4,241.1 L1530.8,240.3 L1532.2,239.6 L1533.5,238.9 L1534.9,238.2 L1536.3,237.5 L1537.7,236.8 L1539.2,236.1 L1540.6,235.4 L1542.0,234.7 L1543.4,234.0 L1544.8,233.3 L1546.3,232.7 L1547.7,232.1 L1549.1,231.5 L1550.6,230.9 L1552.0,230.4 L1553.5,229.9 L1554.9,229.4 L1556.4,228.9 L1557.8,228.5 L1559.2,228.1 L1560.7,227.7 L1562.1,227.4 L1563.6,227.2 L1565.0,227.0 L1566.5,226.8 L1567.9,226.7 L1569.3,226.6 L1570.8,226.6 L1572.2,226.6 L1573.6,226.7 L1575.0,226.8 L1576.4,227.0 L1577.8,227.3 L1579.2,227.6 L1580.6,228.0 L1582.0,228.4 L1583.4,228.8 L1584.8,229.4 L1586.1,229.9 L1587.5,230.5 L1588.8,231.1 L1590.2,231.8 L1591.5,232.5 L1592.8,233.3 L1594.1,234.0 L1595.4,234.8 L1596.7,235.7 L1597.9,236.6 L1599.2,237.5 L1600.4,238.4 L1601.6,239.3 L1602.8,240.3 L1603.9,241.3 L1605.1,242.3 L1606.2,243.3 L1607.4,244.4 L1608.5,245.4 L1609.5,246.5 L1610.6,247.6 L1611.7,248.7 L1612.7,249.8 L1613.8,251.0 L1614.8,252.1 L1615.8,253.2 L1616.8,254.4 L1617.8,255.5 L1618.8,256.7 L1619.8,257.9 L1620.7,259.0 L1621.7,260.2 L1622.7,261.4 L1623.6,262.5 L1624.6,263.7 L1625.6,264.9 L1626.5,266.0 L1627.5,267.2 L1628.5,268.4 L1629.4,269.5 L1630.4,270.6 L1631.4,271.8 L1632.4,272.9 L1633.3,274.0 L1634.3,275.1 L1635.3,276.2 L1636.4,277.3 L1637.4,278.3 L1638.4,279.4 L1639.5,280.4 L1640.5,281.4 L1641.6,282.4 L1642.7,283.4 L1643.8,284.3 L1644.9,285.2 L1646.1,286.1 L1647.2,287.0 L1648.4,287.9 L1649.6,288.7 L1650.8,289.5 L1652.0,290.3 L1653.3,291.0 L1654.6,291.7 L1655.9,292.4 L1657.2,293.1 L1658.6,293.7 L1659.9,294.4 L1661.3,294.9 L1662.7,295.5 L1664.1,296.1 L1665.5,296.6 L1667.0,297.2 L1668.4,297.7 L1669.8,298.2 L1671.3,298.7 L1672.7,299.3 L1674.2,299.8 L1675.6,300.3 L1677.1,300.8 L1678.5,301.3 L1680.0,301.8 L1681.4,302.3 L1682.9,302.9 L1684.3,303.4 L1685.7,304.0 L1687.1,304.5 L1688.5,305.1 L1689.9,305.7 L1691.3,306.3 L1692.6,307.0 L1694.0,307.6 L1695.3,308.3 L1696.6,309.0 L1697.9,309.8 L1699.2,310.5 L1700.5,311.2 L1701.7,312.0 L1703.0,312.8 L1704.2,313.6 L1705.5,314.4 L1706.7,315.2 L1707.9,316.0 L1709.1,316.9 L1710.3,317.7 L1711.5,318.6 L1712.7,319.4 L1713.9,320.3 L1715.1,321.2 L1716.3,322.1 L1717.5,322.9 L1718.7,323.8 L1719.9,324.7 L1721.1,325.6 L1722.3,326.5 L1723.5,327.4 L1724.7,328.2 L1725.9,329.1 L1727.1,330.0 L1728.4,330.9 L1729.6,331.7 L1730.8,332.6 L1732.1,333.4 L1733.3,334.3 L1734.6,335.1 L1735.9,335.9 L1737.2,336.7 L1738.5,337.5 L1739.8,338.3 L1741.1,339.1" stroke="#FF6666" stroke-width="10.2" fill="none" stroke-linejoin="round" shape-rendering="crispEdges"/><path d="M371.5,376.2 L372.9,375.7 L374.3,375.3 L375.8,374.8 L377.2,374.3 L378.7,373.9 L380.2,373.5 L381.6,373.1 L383.1,372.7 L384.6,372.4 L386.0,372.0 L387.5,371.7 L389.0,371.4 L390.5,371.1 L392.0,370.9 L393.5,370.7 L394.9,370.4 L396.4,370.2 L397.9,370.1 L399.4,369.9 L400.9,369.8 L402.4,369.6 L403.9,369.5 L405.4,369.5 L406.9,369.4 L408.4,369.4 L409.8,369.4 L411.3,369.4 L412.8,369.4 L414.3,369.5 L415.8,369.6 L417.3,369.7 L418.7,369.8 L420.2,370.0 L421.7,370.2 L423.1,370.4 L424.6,370.6 L426.1,370.8 L427.5,371.1 L429.0,371.4 L430.4,371.7 L431.9,372.1 L433.3,372.5 L434.7,372.8 L436.1,373.3 L437.6,373.7 L439.0,374.2 L440.4,374.7 L441.8,375.2 L443.2,375.7 L444.6,376.2 L446.0,376.8 L447.4,377.4 L448.7,378.0 L450.1,378.6 L451.5,379.2 L452.8,379.9 L454.2,380.6 L455.5,381.2 L456.9,381.9 L458.2,382.7 L459.6,383.4 L460.9,384.1 L462.2,384.9 L463.5,385.7 L464.8,386.4 L466.1,387.2 L467.4,388.0 L468.7,388.9 L470.0,389.7 L471.3,390.5 L472.5,391.4 L473.8,392.2 L475.1,393.1 L476.3,393.9 L477.5,394.8 L478.8,395.7 L480.0,396.6 L481.2,397.5 L482.4,398.4 L483.6,399.3 L484.8,400.2 L486.0,401.1 L487.2,402.0 L488.4,403.0 L489.6,403.9 L490.7,404.8 L491.9,405.7 L493.0,406.7 L494.2,407.6 L495.3,408.6 L496.4,409.5 L497.6,410.5 L498.7,411.4 L499.8,412.4 L500.9,413.4 L502.0,414.4 L503.1,415.4 L504.1,416.3 L505.2,417.3 L506.3,418.4 L507.4,419.4 L508.4,420.4 L509.5,421.4 L510.5,422.4 L511.6,423.5 L512.6,424.5 L513.6,425.6 L514.6,426.7 L515.7,427.7 L516.7,428.8 L517.7,429.9 L518.7,431.0 L519.7,432.1 L520.7,433.2 L521.7,434.4 L522.6,435.5 L523.6,436.6 L524.6,437.8 L525.6,439.0 L526.5,440.1 L527.5,441.3 L528.4,442.5 L529.4,443.7 L530.3,444.9 L531.3,446.2 L532.2,447.4 L533.2,448.6 L534.1,449.8 L535.1,451.0 L536.0,452.2 L537.0,453.4 L538.0,454.6 L539.0,455.8 L540.0,456.9 L541.0,458.1 L542.0,459.2 L543.1,460.3 L544.1,461.3 L545.2,462.4 L546.3,463.4 L547.4,464.4 L548.6,465.3 L549.7,466.2 L550.9,467.1 L552.1,468.0 L553.3,468.8 L554.6,469.6 L555.8,470.3 L557.1,471.0 L558.4,471.7 L559.7,472.4 L561.1,473.0 L562.4,473.6 L563.8,474.1 L565.2,474.7 L566.6,475.2 L568.0,475.6 L569.4,476.0 L570.8,476.4 L572.3,476.8 L573.7,477.1 L575.2,477.5 L576.6,477.7 L578.1,478.0 L579.6,478.2 L581.1,478.4 L582.6,478.5 L584.1,478.7 L585.6,478.8 L587.1,478.9 L588.7,478.9 L590.2,479.0 L591.7,479.0 L593.3,479.0 L594.8,479.0 L596.3,479.0 L597.9,479.0 L599.4,479.0 L600.9,479.0 L602.5,479.0 L604.0,478.9 L605.5,478.9 L607.1,478.9 L608.6,478.9 L610.1,478.9 L611.6,478.9 L613.1,478.9 L614.6,478.9 L616.1,479.0 L617.6,479.0 L619.1,479.1 L620.5,479.2 L622.0,479.3 L623.5,479.5 L624.9,479.7 L626.3,479.9 L627.7,480.1 L629.2,480.3 L630.5,480.6 L631.9,481.0 L633.3,481.4 L634.6,481.8 L636.0,482.2 L637.3,482.7 L638.6,483.3 L639.9,483.9 L641.1,484.5 L642.4,485.2 L643.6,485.9 L644.8,486.7 L646.0,487.5 L647.2,488.4 L648.4,489.3 L649.6,490.3 L650.7,491.2 L651.9,492.2 L653.0,493.2 L654.2,494.3 L655.3,495.3 L656.4,496.4 L657.5,497.5 L658.7,498.6 L659.8,499.7 L660.9,500.8 L662.1,501.9 L663.2,503.0 L664.4,504.1 L665.5,505.1 L666.7,506.2 L667.9,507.3 L669.1,508.3 L670.3,509.3 L671.5,510.3 L672.7,511.2 L674.0,512.1 L675.2,513.0 L676.5,513.8 L677.9,514.6 L679.2,515.4 L680.6,516.1 L681.9,516.7 L683.4,517.3 L684.8,517.9 L686.3,518.4 L687.8,518.8 L689.3,519.1 L690.8,519.4 L692.3,519.7 L693.8,519.8 L695.4,520.0 L696.9,520.0 L698.4,520.0 L699.9,519.9 L701.3,519.7 L702.8,519.5 L704.2,519.2 L705.6,518.9 L707.0,518.4 L708.3,518.0 L709.7,517.4 L711.0,516.9 L712.3,516.2 L713.5,515.5 L714.8,514.8 L716.0,514.0 L717.2,513.2 L718.4,512.3 L719.6,511.4 L720.7,510.5 L721.9,509.5 L723.0,508.5 L724.1,507.5 L725.1,506.4 L726.2,505.3 L727.2,504.2 L728.3,503.0 L729.3,501.9 L730.2,500.7 L731.2,499.5 L732.2,498.3 L733.1,497.1 L734.0,495.8 L734.9,494.6 L735.8,493.3 L736.7,492.1 L737.6,490.8 L738.4,489.6 L739.3,488.3 L740.1,487.0 L740.9,485.8 L741.7,484.5 L742.5,483.2 L743.3,482.0 L744.0,480.7 L744.8,479.4 L745.5,478.1 L746.3,476.9 L747.0,475.6 L747.8,474.3 L748.5,473.0 L749.3,471.7 L750.0,470.4 L750.7,469.1 L751.4,467.8 L752.2,466.5 L752.9,465.2 L753.6,463.9 L754.4,462.6 L755.1,461.3 L755.8,460.0 L756.6,458.7 L757.3,457.4 L758.1,456.1 L758.8,454.8 L759.6,453.5 L760.4,452.2 L761.1,450.9 L761.9,449.6 L762.7,448.3 L763.5,447.0 L764.4,445.7 L765.2,444.4 L766.0,443.2 L766.9,441.9 L767.8,440.7 L768.7,439.4 L769.6,438.2 L770.5,437.0 L771.5,435.8 L772.4,434.6 L773.4,433.4 L774.4,432.2 L775.4,431.1 L776.5,430.0 L777.5,428.9 L778.6,427.8 L779.7,426.8 L780.8,425.7 L782.0,424.8 L783.2,423.8 L784.4,422.8 L785.6,421.9 L786.9,421.1 L788.2,420.2 L789.5,419.5 L790.8,418.7 L792.1,418.0 L793.4,417.4 L794.8,416.8 L796.1,416.3 L797.5,415.9 L798.9,415.5 L800.2,415.2 L801.6,415.0 L803.0,414.8 L804.4,414.8 L805.8,414.8 L807.2,414.8 L808.5,415.0 L809.9,415.2 L811.3,415.5 L812.7,415.8 L814.1,416.2 L815.5,416.7 L816.9,417.1 L818.3,417.7 L819.7,418.3 L821.1,418.9 L822.5,419.5 L823.8,420.2 L825.2,420.9 L826.6,421.6 L828.0,422.4 L829.4,423.1 L830.8,423.9 L832.2,424.7 L833.6,425.5 L835.0,426.3 L836.4,427.1 L837.8,427.9 L839.2,428.7 L840.5,429.5 L841.9,430.2 L843.3,430.9 L844.7,431.7 L846.1,432.4 L847.5,433.0 L848.8,433.6 L850.2,434.2 L851.6,434.8 L853.0,435.3 L854.3,435.8 L855.7,436.2 L857.1,436.5 L858.5,436.8 L859.8,437.1 L861.2,437.2 L862.6,437.3 L863.9,437.4 L865.3,437.3 L866.6,437.2 L868.0,437.0 L869.3,436.8 L870.7,436.5 L872.0,436.1 L873.4,435.6 L874.7,435.1 L876.1,434.6 L877.4,433.9 L878.7,433.3 L880.1,432.6 L881.4,431.9 L882.8,431.1 L884.1,430.3 L885.5,429.5 L886.8,428.6 L888.2,427.7 L889.5,426.8 L890.9,425.9 L892.2,425.0 L893.6,424.1 L894.9,423.1 L896.3,422.2 L897.7,421.3 L899.0,420.4 L900.4,419.4 L901.8,418.5 L903.2,417.6 L904.5,416.8 L905.9,415.9 L907.3,415.1 L908.7,414.3 L910.1,413.6 L911.5,412.8 L912.9,412.2 L914.3,411.5 L915.7,410.9 L917.2,410.4 L918.6,409.9 L920.0,409.4 L921.4,409.0 L922.8,408.6 L924.2,408.4 L925.6,408.1 L927.0,407.9 L928.4,407.8 L929.8,407.8 L931.2,407.8 L932.6,407.9 L934.0,408.1 L935.3,408.3 L936.7,408.5 L938.1,408.8 L939.4,409.2 L940.8,409.6 L942.1,410.1 L943.5,410.6 L944.8,411.2 L946.1,411.8 L947.4,412.4 L948.7,413.1 L950.0,413.8 L951.3,414.6 L952.6,415.4 L953.9,416.2 L955.2,417.0 L956.4,417.9 L957.7,418.8 L958.9,419.7 L960.2,420.7 L961.4,421.6 L962.6,422.6 L963.8,423.6 L965.0,424.6 L966.2,425.6 L967.4,426.6 L968.6,427.6 L969.8,428.6 L970.9,429.7 L972.1,430.7 L973.2,431.7 L974.3,432.7 L975.5,433.7 L976.6,434.7 L977.7,435.7 L978.9,436.6 L980.0,437.6 L981.2,438.5 L982.4,439.4 L983.6,440.2 L984.8,441.0 L986.0,441.8 L987.2,442.6 L988.5,443.3 L989.8,443.9 L991.1,444.5 L992.5,445.1 L993.8,445.6 L995.3,446.1 L996.7,446.5 L998.1,446.9 L999.6,447.2 L1001.1,447.5 L1002.6,447.7 L1004.1,447.9 L1005.6,448.0 L1007.2,448.1 L1008.8,448.1 L1010.3,448.1 L1011.9,448.1 L1013.5,448.0 L1015.1,447.9 L1016.6,447.8 L1018.2,447.7 L1019.7,447.7 L1021.3,447.6 L1022.8,447.7 L1024.2,447.7 L1025.7,447.9 L1027.1,448.2 L1028.5,448.5 L1029.8,449.0 L1031.1,449.6 L1032.3,450.3 L1033.5,451.2 L1034.6,452.1 L1035.7,453.2 L1036.7,454.3 L1037.7,455.4 L1038.6,456.7 L1039.4,457.9 L1040.3,459.1 L1041.0,460.4 L1041.8,461.7 L1042.5,463.0 L1043.1,464.3 L1043.7,465.6 L1044.3,467.0 L1044.8,468.4 L1045.3,469.7 L1045.8,471.1 L1046.2,472.6 L1046.6,474.0 L1047.0,475.4 L1047.3,476.9 L1047.7,478.3 L1048.0,479.8 L1048.2,481.3 L1048.5,482.8 L1048.7,484.3 L1048.9,485.8 L1049.1,487.3 L1049.3,488.8 L1049.5,490.3 L1049.7,491.9 L1049.8,493.4 L1050.0,494.9 L1050.1,496.5 L1050.2,498.0 L1050.4,499.6 L1050.5,501.1 L1050.6,502.7 L1050.8,504.2 L1050.9,505.8 L1051.1,507.3 L1051.2,508.9 L1051.3,510.4 L1051.5,511.9 L1051.6,513.5 L1051.8,515.0 L1051.9,516.6 L1052.1,518.1 L1052.2,519.6 L1052.4,521.2 L1052.5,522.7 L1052.7,524.2 L1052.9,525.8 L1053.0,527.3 L1053.2,528.8 L1053.3,530.3 L1053.5,531.8 L1053.7,533.4 L1053.8,534.9 L1054.0,536.4 L1054.1,537.9 L1054.3,539.4 L1054.5,540.8 L1054.6,542.3 L1054.8,543.8 L1054.9,545.3 L1055.1,546.7 L1055.2,548.2 L1055.4,549.7 L1055.6,551.1 L1055.7,552.6 L1055.9,554.0 L1056.0,555.4 L1056.2,556.8 L1056.3,558.3 L1056.5,559.7 L1056.6,561.1 L1056.7,562.5 L1056.9,563.9 L1057.0,565.2 L1057.2,566.6 L1057.3,568.0 L1057.4,569.3 L1057.5,570.7 L1057.7,572.0 L1057.8,573.4 L1057.9,574.7 L1058.0,576.1 L1058.2,577.4 L1058.3,578.7 L1058.4,580.1 L1058.5,581.4 L1058.6,582.8 L1058.7,584.1 L1058.9,585.5 L1059.0,586.9 L1059.1,588.3 L1059.2,589.6 L1059.3,591.0 L1059.4,592.4 L1059.5,593.9 L1059.7,595.3 L1059.8,596.8 L1059.9,598.2 L1060.0,599.7 L1060.1,601.2 L1060.2,602.7 L1060.4,604.2 L1060.5,605.8 L1060.6,607.4 L1060.7,609.0 L1060.9,610.6 L1061.0,612.2 L1061.1,613.9 L1061.2,615.6 L1061.4,617.3 L1061.5,619.1 L1061.7,620.9 L1061.8,622.7 L1061.9,624.5 L1062.1,626.4 L1062.2,628.3 L1062.4,630.2 L1062.6,632.2 L1062.7,634.2 L1062.9,636.2 L1063.0,638.2 L1063.2,640.2 L1063.4,642.3 L1063.6,644.3 L1063.7,646.3 L1063.9,648.4 L1064.1,650.4 L1064.3,652.4 L1064.5,654.3 L1064.7,656.3 L1064.9,658.2 L1065.1,660.1 L1065.3,661.9 L1065.5,663.7 L1065.7,665.5 L1065.9,667.2 L1066.1,668.9 L1066.3,670.5 L1066.5,672.0 L1066.7,673.5 L1067.0,674.9 L1067.2,676.2 L1067.4,677.4 L1067.6,678.6 L1067.8,679.6 L1068.1,680.6 L1068.3,681.5 L1068.5,682.3 L1068.8,682.9 L1069.0,683.5 L1069.2,683.9 L1069.5,684.2 L1069.7,684.4 L1069.9,684.5 L1070.2,684.5 L1070.4,684.3 L1070.7,684.0 L1070.9,683.6 L1071.2,683.0 L1071.4,682.4 L1071.7,681.6 L1071.9,680.7 L1072.1,679.8 L1072.4,678.7 L1072.6,677.6 L1072.9,676.4 L1073.1,675.1 L1073.4,673.7 L1073.6,672.2 L1073.8,670.7 L1074.1,669.1 L1074.3,667.5 L1074.5,665.8 L1074.8,664.0 L1075.0,662.2 L1075.2,660.4 L1075.4,658.5 L1075.6,656.6 L1075.8,654.6 L1076.0,652.7 L1076.2,650.7 L1076.4,648.7 L1076.6,646.7 L1076.8,644.6 L1077.0,642.6 L1077.2,640.6 L1077.3,638.5 L1077.5,636.5 L1077.6,634.5 L1077.8,632.5 L1077.9,630.6 L1078.1,628.6 L1078.2,626.7 L1078.3,624.8 L1078.4,623.0 L1078.5,621.2 L1078.6,619.4 L1078.7,617.6 L1078.8,615.9 L1078.9,614.2 L1079.0,612.5 L1079.1,610.9 L1079.1,609.3 L1079.2,607.7 L1079.3,606.1 L1079.3,604.5 L1079.4,603.0 L1079.5,601.5 L1079.5,600.0 L1079.6,598.5 L1079.6,597.0 L1079.7,595.6 L1079.7,594.1 L1079.8,592.7 L1079.8,591.3 L1079.9,589.9 L1079.9,588.5 L1080.0,587.1 L1080.0,585.8 L1080.1,584.4 L1080.1,583.0 L1080.2,581.7 L1080.3,580.3 L1080.3,579.0 L1080.4,577.6 L1080.5,576.3 L1080.5,574.9 L1080.6,573.6 L1080.7,572.2 L1080.8,570.8 L1080.9,569.5 L1081.0,568.1 L1081.1,566.7 L1081.3,565.4 L1081.4,564.0 L1081.5,562.6 L1081.7,561.2 L1081.8,559.7 L1082.0,558.3 L1082.1,556.9 L1082.3,555.4 L1082.4,554.0 L1082.6,552.5 L1082.8,551.1 L1082.9,549.6 L1083.1,548.1 L1083.3,546.7 L1083.4,545.2 L1083.6,543.7 L1083.8,542.2 L1083.9,540.7 L1084.1,539.2 L1084.2,537.7 L1084.4,536.2 L1084.5,534.7 L1084.7,533.2 L1084.8,531.6 L1084.9,530.1 L1085.1,528.6 L1085.2,527.1 L1085.3,525.5 L1085.4,524.0 L1085.4,522.5 L1085.5,520.9 L1085.6,519.4 L1085.6,517.9 L1085.7,516.3 L1085.7,514.8 L1085.7,513.3 L1085.7,511.7 L1085.7,510.2 L1085.6,508.7 L1085.6,507.1 L1085.5,505.6 L1085.4,504.1 L1085.3,502.5 L1085.2,501.0 L1085.1,499.5 L1084.9,498.0 L1084.7,496.5 L1084.6,494.9 L1084.4,493.4 L1084.2,491.9 L1084.0,490.4 L1083.8,488.9 L1083.6,487.4 L1083.4,485.9 L1083.3,484.4 L1083.1,482.9 L1082.9,481.4 L1082.7,479.9 L1082.6,478.4 L1082.4,476.9 L1082.3,475.4 L1082.2,473.9 L1082.1,472.4 L1082.0,470.9 L1082.0,469.4 L1082.0,467.9 L1082.0,466.4 L1082.0,464.9 L1082.1,463.4 L1082.2,462.0 L1082.3,460.5 L1082.4,459.0 L1082.6,457.5 L1082.9,456.0 L1083.2,454.5 L1083.5,453.0 L1083.9,451.5 L1084.3,450.0 L1084.7,448.6 L1085.3,447.1 L1085.8,445.6 L1086.4,444.1 L1087.1,442.6 L1087.9,441.1 L1088.7,439.6 L1089.5,438.1 L1090.4,436.6 L1091.4,435.2 L1092.5,433.7 L1093.5,432.4 L1094.7,431.2 L1095.8,430.1 L1096.9,429.3 L1098.1,428.6 L1099.2,428.3 L1100.3,428.3 L1101.4,428.6 L1102.4,429.2 L1103.4,430.1 L1104.4,431.2 L1105.5,432.5 L1106.5,433.9 L1107.5,435.4 L1108.5,437.0 L1109.6,438.6 L1110.7,440.2 L1111.7,441.7 L1112.8,443.2 L1113.9,444.5 L1115.0,445.8 L1116.0,446.9 L1117.1,447.7 L1118.1,448.4 L1119.1,448.7 L1120.1,448.8 L1121.0,448.6 L1121.9,448.1 L1122.8,447.3 L1123.6,446.2 L1124.4,445.0 L1125.2,443.7 L1126.0,442.2 L1126.8,440.6 L1127.5,439.0 L1128.3,437.3 L1129.1,435.7 L1129.9,434.1 L1130.8,432.6 L1131.6,431.2 L1132.5,429.9 L1133.4,428.6 L1134.3,427.4 L1135.2,426.2 L1136.1,425.1 L1137.1,424.0 L1138.1,423.0 L1139.0,421.9 L1140.0,420.9 L1141.0,419.8 L1142.1,418.8 L1143.1,417.7 L1144.2,416.7 L1145.2,415.7 L1146.3,414.7 L1147.4,413.7 L1148.5,412.7 L1149.6,411.7 L1150.8,410.7 L1151.9,409.7 L1153.1,408.8 L1154.2,407.8 L1155.4,406.9 L1156.6,406.0 L1157.8,405.1 L1159.0,404.2 L1160.3,403.3 L1161.5,402.5 L1162.8,401.6 L1164.0,400.8 L1165.3,400.0 L1166.6,399.2 L1167.9,398.4 L1169.2,397.7 L1170.5,397.0 L1171.8,396.3 L1173.2,395.6 L1174.5,394.9 L1175.9,394.3 L1177.3,393.7 L1178.6,393.1 L1180.0,392.5 L1181.4,391.9 L1182.8,391.4 L1184.2,390.9 L1185.7,390.5 L1187.1,390.0 L1188.6,389.6 L1190.0,389.2 L1191.5,388.9 L1192.9,388.6 L1194.4,388.3 L1195.9,388.0 L1197.4,387.8 L1198.9,387.6 L1200.4,387.4 L1201.9,387.2 L1203.5,387.1 L1205.0,387.0 L1206.5,386.9 L1208.0,386.7 L1209.5,386.6 L1211.0,386.5 L1212.5,386.3 L1214.0,386.2 L1215.5,386.0 L1216.9,385.7 L1218.4,385.4 L1219.8,385.1 L1221.2,384.8 L1222.6,384.3 L1223.9,383.8 L1225.3,383.3 L1226.6,382.7 L1227.9,382.0 L1229.2,381.3 L1230.4,380.5 L1231.6,379.7 L1232.9,378.8 L1234.1,377.9 L1235.3,377.0 L1236.5,376.0 L1237.7,375.1 L1238.9,374.1 L1240.1,373.1 L1241.2,372.2 L1242.4,371.2 L1243.6,370.2 L1244.9,369.3 L1246.1,368.4 L1247.3,367.5 L1248.6,366.6 L1249.8,365.7 L1251.1,364.9 L1252.3,364.1 L1253.6,363.3 L1254.9,362.5 L1256.2,361.8 L1257.5,361.0 L1258.9,360.3 L1260.2,359.6 L1261.5,358.9 L1262.9,358.3 L1264.2,357.6 L1265.6,357.0 L1267.0,356.4 L1268.3,355.8 L1269.7,355.2 L1271.1,354.7 L1272.5,354.1 L1273.9,353.6 L1275.3,353.1 L1276.7,352.6 L1278.1,352.1 L1279.6,351.7 L1281.0,351.2 L1282.4,350.8 L1283.9,350.4 L1285.3,350.0 L1286.8,349.7 L1288.2,349.3 L1289.7,349.0 L1291.2,348.7 L1292.6,348.4 L1294.1,348.2 L1295.6,347.9 L1297.1,347.7 L1298.6,347.6 L1300.1,347.4 L1301.6,347.3 L1303.1,347.2 L1304.7,347.1 L1306.2,347.1 L1307.7,347.1 L1309.3,347.1 L1310.8,347.2 L1312.3,347.3 L1313.9,347.3 L1315.4,347.4 L1317.0,347.5 L1318.5,347.5 L1320.0,347.6 L1321.5,347.6 L1323.0,347.5 L1324.5,347.4 L1326.0,347.2 L1327.4,347.0 L1328.8,346.7 L1330.2,346.3 L1331.6,345.9 L1333.0,345.3 L1334.3,344.7 L1335.6,344.0 L1336.9,343.2 L1338.2,342.4 L1339.4,341.6 L1340.7,340.7 L1341.9,339.9 L1343.1,339.0 L1344.3,338.1 L1345.6,337.2 L1346.8,336.2 L1348.0,335.3 L1349.2,334.4 L1350.3,333.5 L1351.5,332.5 L1352.7,331.6 L1353.9,330.6 L1355.0,329.7 L1356.2,328.7 L1357.3,327.7 L1358.5,326.8 L1359.6,325.8 L1360.7,324.8 L1361.9,323.8 L1363.0,322.8 L1364.1,321.8 L1365.2,320.8 L1366.3,319.8 L1367.5,318.8 L1368.6,317.8 L1369.7,316.8 L1370.8,315.8 L1371.9,314.8 L1373.0,313.8 L1374.1,312.8 L1375.2,311.7 L1376.2,310.7 L1377.3,309.7 L1378.4,308.7 L1379.5,307.6 L1380.6,306.6 L1381.7,305.6 L1382.8,304.6 L1383.8,303.5 L1384.9,302.5 L1386.0,301.5 L1387.1,300.4 L1388.2,299.4 L1389.2,298.4 L1390.3,297.3 L1391.4,296.3 L1392.5,295.3 L1393.6,294.2 L1394.6,293.2 L1395.7,292.1 L1396.8,291.1 L1397.9,290.1 L1399.0,289.0 L1400.0,288.0 L1401.1,286.9 L1402.2,285.9 L1403.3,284.8 L1404.4,283.8 L1405.4,282.7 L1406.5,281.7 L1407.6,280.6 L1408.7,279.6 L1409.8,278.5 L1410.9,277.5 L1412.0,276.4 L1413.1,275.4 L1414.2,274.4 L1415.3,273.4 L1416.4,272.4 L1417.6,271.4 L1418.7,270.5 L1419.9,269.5 L1421.1,268.6 L1422.3,267.7 L1423.5,266.9 L1424.7,266.1 L1425.9,265.3 L1427.2,264.6 L1428.5,263.8 L1429.8,263.2 L1431.1,262.6 L1432.5,262.0 L1433.8,261.4 L1435.2,260.9 L1436.6,260.5 L1438.1,260.1 L1439.5,259.7 L1440.9,259.4 L1442.4,259.1 L1443.9,258.9 L1445.4,258.7 L1446.9,258.6 L1448.4,258.5 L1449.9,258.4 L1451.4,258.4 L1452.9,258.4 L1454.5,258.4 L1456.0,258.6 L1457.5,258.7 L1459.0,258.9 L1460.6,259.1 L1462.1,259.3 L1463.6,259.5 L1465.2,259.8 L1466.7,260.1 L1468.2,260.4 L1469.8,260.8 L1471.3,261.1 L1472.8,261.4 L1474.4,261.8 L1475.9,262.2 L1477.4,262.5 L1479.0,262.9 L1480.5,263.3 L1482.0,263.6 L1483.5,264.0 L1485.0,264.3 L1486.5,264.6 L1488.0,265.0 L1489.5,265.3 L1491.0,265.5 L1492.5,265.8 L1494.0,266.0 L1495.5,266.2 L1496.9,266.4 L1498.4,266.5 L1499.9,266.6 L1501.3,266.7 L1502.7,266.7 L1504.2,266.6 L1505.6,266.6 L1507.0,266.5 L1508.4,266.3 L1509.8,266.1 L1511.2,265.8 L1512.6,265.5 L1513.9,265.1 L1515.3,264.7 L1516.7,264.2 L1518.0,263.7 L1519.4,263.2 L1520.7,262.6 L1522.0,262.0 L1523.4,261.4 L1524.7,260.8 L1526.0,260.1 L1527.4,259.4 L1528.7,258.7 L1530.0,258.0 L1531.4,257.3 L1532.7,256.6 L1534.0,255.8 L1535.4,255.1 L1536.7,254.4 L1538.1,253.6 L1539.4,252.9 L1540.8,252.2 L1542.1,251.5 L1543.5,250.8 L1544.9,250.2 L1546.2,249.5 L1547.6,248.9 L1549.0,248.3 L1550.5,247.7 L1551.9,247.2 L1553.3,246.7 L1554.8,246.3 L1556.2,245.8 L1557.7,245.5 L1559.2,245.1 L1560.7,244.8 L1562.2,244.6 L1563.7,244.4 L1565.2,244.2 L1566.8,244.1 L1568.3,244.1 L1569.8,244.1 L1571.3,244.1 L1572.9,244.2 L1574.4,244.3 L1575.9,244.4 L1577.4,244.6 L1578.9,244.9 L1580.3,245.2 L1581.8,245.5 L1583.2,245.9 L1584.6,246.3 L1586.0,246.8 L1587.4,247.3 L1588.8,247.8 L1590.1,248.4 L1591.4,249.1 L1592.7,249.8 L1593.9,250.5 L1595.1,251.2 L1596.3,252.0 L1597.5,252.9 L1598.7,253.7 L1599.8,254.6 L1601.0,255.6 L1602.1,256.5 L1603.2,257.5 L1604.2,258.5 L1605.3,259.5 L1606.3,260.6 L1607.4,261.7 L1608.4,262.7 L1609.4,263.9 L1610.4,265.0 L1611.4,266.1 L1612.4,267.3 L1613.4,268.5 L1614.4,269.6 L1615.4,270.8 L1616.3,272.0 L1617.3,273.2 L1618.3,274.4 L1619.2,275.6 L1620.2,276.8 L1621.1,278.0 L1622.1,279.2 L1623.1,280.5 L1624.1,281.6 L1625.0,282.8 L1626.0,284.0 L1627.0,285.2 L1628.0,286.4 L1629.0,287.5 L1630.0,288.6 L1631.1,289.7 L1632.1,290.8 L1633.2,291.9 L1634.2,293.0 L1635.3,294.0 L1636.4,295.0 L1637.5,296.0 L1638.6,297.0 L1639.8,297.9 L1640.9,298.8 L1642.1,299.7 L1643.3,300.6 L1644.5,301.4 L1645.7,302.3 L1647.0,303.1 L1648.2,303.8 L1649.5,304.6 L1650.8,305.4 L1652.0,306.1 L1653.3,306.8 L1654.6,307.5 L1655.9,308.2 L1657.3,308.8 L1658.6,309.5 L1659.9,310.1 L1661.3,310.8 L1662.6,311.4 L1664.0,312.0 L1665.3,312.6 L1666.7,313.2 L1668.0,313.8 L1669.4,314.4 L1670.8,315.0 L1672.2,315.6 L1673.5,316.2 L1674.9,316.7 L1676.3,317.3 L1677.7,317.9 L1679.0,318.5 L1680.4,319.0 L1681.8,319.6 L1683.2,320.2 L1684.5,320.8 L1685.9,321.4 L1687.3,322.0 L1688.6,322.6 L1690.0,323.2 L1691.3,323.9 L1692.6,324.5 L1694.0,325.1 L1695.3,325.8 L1696.6,326.5 L1697.9,327.1 L1699.2,327.8 L1700.5,328.5 L1701.8,329.2 L1703.1,330.0 L1704.4,330.7 L1705.7,331.4 L1706.9,332.2 L1708.2,333.0 L1709.4,333.8 L1710.7,334.6 L1711.9,335.4 L1713.1,336.2 L1714.4,337.0 L1715.6,337.9 L1716.8,338.7 L1718.0,339.6 L1719.2,340.5 L1720.4,341.4 L1721.6,342.4 L1722.8,343.3 L1723.9,344.3 L1725.1,345.2 L1726.3,346.2 L1727.4,347.2 L1728.6,348.1 L1729.8,349.1 L1731.0,350.0 L1732.1,351.0 L1733.4,351.9 L1734.6,352.7 L1735.8,353.5 L1737.1,354.3 L1738.4,355.0 L1739.7,355.7 L1741.1,356.3" stroke="#999999" stroke-width="10.2" fill="none" stroke-linejoin="round" shape-rendering="crispEdges"/><path d="M371.4,297.3 L372.9,296.9 L374.4,296.4 L375.8,296.0 L377.3,295.6 L378.8,295.2 L380.3,294.9 L381.8,294.5 L383.2,294.2 L384.7,293.8 L386.2,293.5 L387.7,293.2 L389.2,293.0 L390.6,292.7 L392.1,292.5 L393.6,292.2 L395.1,292.0 L396.6,291.9 L398.1,291.7 L399.5,291.6 L401.0,291.4 L402.5,291.3 L404.0,291.3 L405.5,291.2 L406.9,291.2 L408.4,291.1 L409.9,291.1 L411.4,291.2 L412.9,291.2 L414.3,291.3 L415.8,291.4 L417.3,291.5 L418.7,291.6 L420.2,291.8 L421.7,292.0 L423.1,292.2 L424.6,292.5 L426.1,292.7 L427.5,293.0 L429.0,293.3 L430.4,293.6 L431.9,294.0 L433.3,294.4 L434.8,294.8 L436.2,295.2 L437.7,295.6 L439.1,296.1 L440.5,296.6 L442.0,297.1 L443.4,297.6 L444.8,298.1 L446.2,298.7 L447.6,299.3 L449.0,299.9 L450.4,300.5 L451.8,301.1 L453.2,301.7 L454.6,302.4 L456.0,303.1 L457.3,303.7 L458.7,304.4 L460.0,305.1 L461.4,305.9 L462.7,306.6 L464.0,307.4 L465.4,308.1 L466.7,308.9 L468.0,309.7 L469.3,310.5 L470.6,311.3 L471.8,312.1 L473.1,312.9 L474.4,313.7 L475.6,314.6 L476.9,315.4 L478.1,316.3 L479.3,317.1 L480.5,318.0 L481.7,318.9 L482.9,319.8 L484.1,320.7 L485.3,321.6 L486.5,322.5 L487.6,323.4 L488.8,324.3 L489.9,325.3 L491.1,326.2 L492.2,327.1 L493.4,328.1 L494.5,329.1 L495.6,330.0 L496.7,331.0 L497.8,332.0 L498.9,333.0 L500.0,333.9 L501.1,334.9 L502.2,335.9 L503.2,337.0 L504.3,338.0 L505.4,339.0 L506.4,340.0 L507.5,341.0 L508.5,342.1 L509.6,343.1 L510.6,344.2 L511.7,345.2 L512.7,346.3 L513.8,347.4 L514.8,348.4 L515.8,349.5 L516.9,350.6 L517.9,351.7 L518.9,352.7 L519.9,353.8 L521.0,354.9 L522.0,356.0 L523.0,357.1 L524.0,358.2 L525.0,359.4 L526.1,360.5 L527.1,361.6 L528.1,362.7 L529.1,363.9 L530.1,365.0 L531.1,366.1 L532.1,367.3 L533.2,368.4 L534.2,369.6 L535.2,370.7 L536.2,371.9 L537.2,373.0 L538.3,374.2 L539.3,375.3 L540.3,376.5 L541.4,377.6 L542.4,378.8 L543.4,379.9 L544.5,381.1 L545.5,382.2 L546.6,383.3 L547.7,384.4 L548.7,385.5 L549.8,386.6 L550.9,387.7 L552.0,388.7 L553.1,389.7 L554.2,390.7 L555.3,391.7 L556.5,392.6 L557.6,393.5 L558.8,394.4 L560.0,395.2 L561.2,396.1 L562.4,396.8 L563.6,397.6 L564.8,398.3 L566.1,398.9 L567.3,399.5 L568.6,400.1 L569.9,400.6 L571.2,401.1 L572.6,401.5 L573.9,401.9 L575.3,402.2 L576.7,402.5 L578.1,402.7 L579.5,402.9 L581.0,403.0 L582.5,403.0 L583.9,403.0 L585.4,402.9 L587.0,402.9 L588.5,402.7 L590.1,402.6 L591.6,402.4 L593.2,402.2 L594.8,402.0 L596.3,401.7 L597.9,401.5 L599.5,401.2 L601.1,401.0 L602.7,400.7 L604.3,400.5 L605.9,400.2 L607.5,400.0 L609.1,399.8 L610.6,399.6 L612.2,399.4 L613.8,399.3 L615.3,399.2 L616.9,399.1 L618.4,399.1 L619.9,399.1 L621.4,399.2 L622.9,399.3 L624.4,399.5 L625.8,399.7 L627.3,399.9 L628.7,400.2 L630.1,400.5 L631.5,400.9 L632.9,401.3 L634.3,401.8 L635.6,402.3 L637.0,402.8 L638.3,403.4 L639.6,404.1 L640.9,404.8 L642.2,405.5 L643.4,406.3 L644.7,407.1 L645.9,408.0 L647.1,408.8 L648.3,409.7 L649.5,410.7 L650.7,411.6 L651.9,412.6 L653.1,413.6 L654.2,414.6 L655.4,415.6 L656.6,416.6 L657.7,417.7 L658.9,418.7 L660.1,419.8 L661.2,420.8 L662.4,421.9 L663.5,422.9 L664.7,424.0 L665.9,425.0 L667.1,426.0 L668.2,427.0 L669.4,428.0 L670.6,429.0 L671.8,429.9 L673.0,430.8 L674.3,431.7 L675.5,432.6 L676.8,433.4 L678.0,434.2 L679.3,435.0 L680.6,435.7 L681.9,436.4 L683.3,437.0 L684.6,437.6 L686.0,438.1 L687.4,438.6 L688.8,439.1 L690.2,439.5 L691.6,439.8 L693.0,440.1 L694.5,440.4 L695.9,440.6 L697.4,440.7 L698.8,440.8 L700.3,440.8 L701.7,440.8 L703.2,440.7 L704.6,440.6 L706.0,440.4 L707.5,440.1 L708.9,439.8 L710.3,439.4 L711.7,439.0 L713.0,438.5 L714.4,438.0 L715.7,437.3 L717.0,436.7 L718.3,435.9 L719.6,435.1 L720.8,434.3 L722.0,433.4 L723.2,432.4 L724.3,431.4 L725.5,430.3 L726.6,429.2 L727.7,428.1 L728.7,426.9 L729.8,425.7 L730.8,424.5 L731.8,423.2 L732.8,422.0 L733.8,420.7 L734.7,419.4 L735.6,418.1 L736.5,416.8 L737.4,415.5 L738.3,414.2 L739.2,412.9 L740.0,411.6 L740.9,410.3 L741.7,409.0 L742.5,407.7 L743.3,406.4 L744.1,405.1 L744.8,403.8 L745.6,402.5 L746.3,401.2 L747.1,399.9 L747.8,398.6 L748.6,397.3 L749.3,396.0 L750.0,394.7 L750.7,393.4 L751.4,392.1 L752.1,390.8 L752.8,389.6 L753.5,388.3 L754.2,387.0 L754.9,385.7 L755.7,384.4 L756.4,383.1 L757.1,381.9 L757.8,380.6 L758.5,379.3 L759.2,378.0 L759.9,376.8 L760.7,375.5 L761.4,374.3 L762.1,373.0 L762.9,371.7 L763.6,370.5 L764.4,369.3 L765.2,368.0 L766.0,366.8 L766.8,365.5 L767.6,364.3 L768.4,363.1 L769.3,361.9 L770.1,360.7 L771.0,359.4 L771.9,358.2 L772.8,357.0 L773.7,355.8 L774.6,354.7 L775.6,353.5 L776.6,352.3 L777.6,351.1 L778.6,350.0 L779.6,348.8 L780.7,347.6 L781.8,346.5 L782.9,345.4 L784.1,344.2 L785.2,343.1 L786.4,342.0 L787.6,341.0 L788.8,340.0 L790.1,339.0 L791.3,338.1 L792.6,337.3 L793.9,336.5 L795.3,335.9 L796.6,335.3 L798.0,334.7 L799.3,334.3 L800.7,334.0 L802.1,333.8 L803.6,333.8 L805.0,333.8 L806.4,334.0 L807.9,334.2 L809.3,334.5 L810.8,335.0 L812.3,335.5 L813.7,336.0 L815.2,336.6 L816.6,337.3 L818.0,338.0 L819.5,338.7 L820.9,339.4 L822.3,340.2 L823.7,341.0 L825.0,341.7 L826.4,342.5 L827.7,343.2 L829.0,343.9 L830.3,344.6 L831.6,345.3 L833.0,346.0 L834.3,346.7 L835.6,347.4 L836.9,348.0 L838.2,348.7 L839.6,349.3 L840.9,349.9 L842.3,350.5 L843.7,351.1 L845.1,351.6 L846.6,352.1 L848.0,352.6 L849.5,353.1 L851.0,353.5 L852.5,353.9 L854.0,354.2 L855.5,354.5 L857.1,354.7 L858.6,354.9 L860.1,355.0 L861.6,355.0 L863.1,355.0 L864.5,354.9 L866.0,354.7 L867.4,354.4 L868.8,354.1 L870.2,353.7 L871.6,353.2 L872.9,352.7 L874.3,352.1 L875.6,351.4 L876.9,350.7 L878.2,350.0 L879.5,349.2 L880.8,348.4 L882.1,347.6 L883.3,346.7 L884.6,345.9 L885.9,345.0 L887.1,344.1 L888.4,343.2 L889.6,342.3 L890.9,341.4 L892.2,340.5 L893.4,339.6 L894.7,338.7 L895.9,337.8 L897.2,337.0 L898.5,336.1 L899.7,335.2 L901.0,334.4 L902.3,333.5 L903.6,332.7 L904.9,331.9 L906.1,331.1 L907.4,330.3 L908.7,329.6 L910.1,328.8 L911.4,328.1 L912.7,327.5 L914.0,326.8 L915.4,326.2 L916.7,325.6 L918.1,325.1 L919.5,324.6 L920.9,324.1 L922.3,323.6 L923.7,323.2 L925.1,322.9 L926.6,322.6 L928.0,322.3 L929.5,322.1 L931.0,321.9 L932.5,321.8 L933.9,321.7 L935.4,321.7 L936.9,321.7 L938.4,321.8 L939.9,322.0 L941.4,322.1 L942.9,322.4 L944.4,322.7 L945.8,323.1 L947.2,323.5 L948.6,324.0 L950.0,324.5 L951.4,325.1 L952.7,325.8 L954.0,326.5 L955.4,327.3 L956.6,328.0 L957.9,328.9 L959.2,329.7 L960.4,330.6 L961.7,331.6 L962.9,332.5 L964.1,333.5 L965.4,334.5 L966.6,335.4 L967.8,336.4 L969.0,337.5 L970.2,338.5 L971.4,339.5 L972.6,340.5 L973.8,341.4 L975.0,342.4 L976.2,343.4 L977.4,344.3 L978.6,345.2 L979.9,346.1 L981.1,346.9 L982.4,347.7 L983.6,348.5 L984.9,349.2 L986.2,349.9 L987.5,350.5 L988.8,351.0 L990.2,351.5 L991.5,352.0 L992.9,352.4 L994.3,352.7 L995.7,352.9 L997.2,353.1 L998.6,353.2 L1000.0,353.3 L1001.5,353.3 L1002.9,353.2 L1004.4,353.1 L1005.8,352.9 L1007.3,352.7 L1008.7,352.4 L1010.2,352.0 L1011.6,351.6 L1013.0,351.1 L1014.5,350.6 L1015.9,350.0 L1017.2,349.3 L1018.6,348.6 L1019.9,347.8 L1021.3,347.0 L1022.5,346.1 L1023.8,345.2 L1025.1,344.2 L1026.3,343.1 L1027.4,342.0 L1028.6,340.8 L1029.7,339.6 L1030.7,338.3 L1031.8,337.0 L1032.7,335.6 L1033.7,334.2 L1034.7,332.8 L1035.6,331.4 L1036.5,330.0 L1037.4,328.7 L1038.3,327.3 L1039.2,326.1 L1040.2,324.9 L1041.1,323.7 L1042.1,322.7 L1043.1,321.8 L1044.1,321.0 L1045.2,320.3 L1046.3,319.7 L1047.4,319.4 L1048.6,319.1 L1049.9,319.0 L1051.1,319.1 L1052.4,319.3 L1053.8,319.7 L1055.1,320.2 L1056.4,320.8 L1057.7,321.5 L1058.9,322.3 L1060.2,323.3 L1061.4,324.3 L1062.5,325.5 L1063.6,326.7 L1064.7,327.9 L1065.7,328.9 L1066.7,329.9 L1067.6,330.5 L1068.5,330.8 L1069.4,330.8 L1070.2,330.3 L1071.0,329.6 L1071.8,328.6 L1072.5,327.3 L1073.2,325.9 L1073.9,324.3 L1074.5,322.7 L1075.0,321.0 L1075.5,319.3 L1075.9,317.6 L1076.3,315.9 L1076.7,314.2 L1077.1,312.6 L1077.5,311.0 L1077.9,309.4 L1078.3,307.8 L1078.7,306.3 L1079.2,304.9 L1079.8,303.5 L1080.4,302.1 L1081.1,300.8 L1081.9,299.6 L1082.8,298.5 L1083.8,297.4 L1084.9,296.5 L1086.0,295.7 L1087.3,295.0 L1088.5,294.5 L1089.9,294.2 L1091.2,294.1 L1092.6,294.2 L1094.0,294.5 L1095.5,294.9 L1096.9,295.5 L1098.3,296.1 L1099.7,296.9 L1101.0,297.7 L1102.3,298.5 L1103.6,299.4 L1104.8,300.3 L1106.0,301.2 L1107.2,302.1 L1108.4,303.0 L1109.6,303.9 L1110.7,304.9 L1111.9,305.8 L1113.1,306.8 L1114.3,307.7 L1115.6,308.6 L1116.8,309.5 L1118.1,310.4 L1119.5,311.3 L1120.8,312.1 L1122.1,312.9 L1123.5,313.6 L1124.9,314.3 L1126.3,314.9 L1127.7,315.4 L1129.1,315.9 L1130.5,316.2 L1131.9,316.5 L1133.3,316.7 L1134.8,316.8 L1136.2,316.7 L1137.6,316.6 L1139.0,316.3 L1140.4,315.9 L1141.8,315.5 L1143.2,315.0 L1144.6,314.4 L1146.0,313.8 L1147.4,313.1 L1148.8,312.5 L1150.2,311.8 L1151.6,311.2 L1152.9,310.5 L1154.3,309.8 L1155.7,309.2 L1157.0,308.5 L1158.4,307.8 L1159.8,307.2 L1161.1,306.5 L1162.5,305.9 L1163.9,305.3 L1165.2,304.7 L1166.6,304.1 L1168.0,303.5 L1169.4,303.0 L1170.8,302.5 L1172.2,302.0 L1173.6,301.5 L1175.0,301.1 L1176.5,300.7 L1177.9,300.4 L1179.4,300.1 L1180.8,299.8 L1182.3,299.6 L1183.8,299.4 L1185.3,299.3 L1186.8,299.1 L1188.3,299.1 L1189.8,299.0 L1191.3,299.0 L1192.8,298.9 L1194.4,298.9 L1195.9,299.0 L1197.5,299.0 L1199.0,299.0 L1200.5,299.1 L1202.1,299.1 L1203.6,299.1 L1205.2,299.2 L1206.7,299.2 L1208.2,299.2 L1209.7,299.2 L1211.3,299.2 L1212.8,299.2 L1214.3,299.1 L1215.8,299.0 L1217.3,298.9 L1218.8,298.8 L1220.3,298.6 L1221.7,298.4 L1223.2,298.1 L1224.6,297.8 L1226.0,297.4 L1227.4,297.0 L1228.8,296.6 L1230.2,296.1 L1231.6,295.6 L1233.0,295.0 L1234.3,294.5 L1235.7,293.8 L1237.0,293.2 L1238.3,292.5 L1239.7,291.8 L1241.0,291.1 L1242.3,290.3 L1243.6,289.6 L1244.9,288.8 L1246.2,288.0 L1247.5,287.2 L1248.8,286.4 L1250.1,285.6 L1251.3,284.8 L1252.6,284.0 L1253.9,283.2 L1255.2,282.4 L1256.5,281.6 L1257.8,280.8 L1259.1,280.0 L1260.4,279.2 L1261.7,278.5 L1263.0,277.7 L1264.3,277.0 L1265.6,276.4 L1266.9,275.7 L1268.3,275.1 L1269.6,274.5 L1270.9,273.9 L1272.3,273.3 L1273.6,272.8 L1275.0,272.3 L1276.4,271.8 L1277.7,271.3 L1279.1,270.9 L1280.5,270.5 L1281.9,270.0 L1283.3,269.6 L1284.7,269.3 L1286.2,268.9 L1287.6,268.5 L1289.0,268.2 L1290.4,267.8 L1291.9,267.5 L1293.3,267.2 L1294.8,266.9 L1296.3,266.6 L1297.7,266.3 L1299.2,265.9 L1300.7,265.6 L1302.2,265.4 L1303.7,265.1 L1305.2,264.8 L1306.7,264.5 L1308.2,264.2 L1309.7,263.9 L1311.2,263.6 L1312.7,263.3 L1314.2,262.9 L1315.7,262.6 L1317.2,262.3 L1318.7,262.0 L1320.2,261.6 L1321.7,261.3 L1323.2,260.9 L1324.7,260.6 L1326.2,260.2 L1327.7,259.8 L1329.2,259.4 L1330.6,259.0 L1332.1,258.5 L1333.5,258.1 L1335.0,257.6 L1336.4,257.1 L1337.8,256.6 L1339.2,256.1 L1340.6,255.6 L1342.0,255.0 L1343.4,254.4 L1344.8,253.8 L1346.1,253.2 L1347.4,252.6 L1348.8,251.9 L1350.1,251.2 L1351.3,250.5 L1352.6,249.7 L1353.9,248.9 L1355.1,248.1 L1356.3,247.3 L1357.5,246.5 L1358.7,245.6 L1359.9,244.7 L1361.1,243.8 L1362.2,242.9 L1363.4,241.9 L1364.5,241.0 L1365.6,240.0 L1366.7,239.0 L1367.8,238.0 L1368.9,237.0 L1370.0,235.9 L1371.1,234.9 L1372.1,233.8 L1373.2,232.7 L1374.2,231.7 L1375.3,230.6 L1376.3,229.5 L1377.4,228.3 L1378.4,227.2 L1379.4,226.1 L1380.4,225.0 L1381.5,223.8 L1382.5,222.7 L1383.5,221.6 L1384.5,220.4 L1385.5,219.3 L1386.5,218.1 L1387.5,217.0 L1388.6,215.8 L1389.6,214.7 L1390.6,213.6 L1391.6,212.4 L1392.6,211.3 L1393.6,210.2 L1394.7,209.0 L1395.7,207.9 L1396.7,206.8 L1397.8,205.7 L1398.8,204.6 L1399.9,203.6 L1400.9,202.5 L1402.0,201.4 L1403.1,200.4 L1404.1,199.4 L1405.2,198.4 L1406.3,197.4 L1407.4,196.4 L1408.6,195.4 L1409.7,194.4 L1410.8,193.5 L1412.0,192.6 L1413.2,191.7 L1414.3,190.8 L1415.5,190.0 L1416.7,189.1 L1417.9,188.3 L1419.2,187.6 L1420.4,186.8 L1421.7,186.1 L1423.0,185.4 L1424.3,184.7 L1425.6,184.0 L1426.9,183.4 L1428.3,182.8 L1429.7,182.2 L1431.1,181.7 L1432.5,181.2 L1433.9,180.7 L1435.3,180.3 L1436.8,179.9 L1438.2,179.5 L1439.7,179.2 L1441.2,178.9 L1442.7,178.6 L1444.2,178.4 L1445.7,178.1 L1447.2,178.0 L1448.7,177.8 L1450.2,177.7 L1451.7,177.7 L1453.3,177.6 L1454.8,177.6 L1456.3,177.7 L1457.8,177.7 L1459.3,177.8 L1460.8,178.0 L1462.3,178.2 L1463.8,178.4 L1465.3,178.7 L1466.8,179.0 L1468.3,179.3 L1469.7,179.7 L1471.2,180.1 L1472.6,180.5 L1474.0,181.0 L1475.5,181.5 L1476.9,182.0 L1478.3,182.5 L1479.7,183.0 L1481.2,183.5 L1482.6,184.0 L1484.0,184.5 L1485.5,184.9 L1487.0,185.4 L1488.4,185.8 L1489.9,186.2 L1491.4,186.5 L1492.9,186.9 L1494.4,187.2 L1495.9,187.4 L1497.4,187.6 L1498.9,187.8 L1500.4,187.9 L1501.8,188.0 L1503.3,188.0 L1504.8,187.9 L1506.3,187.8 L1507.8,187.7 L1509.2,187.4 L1510.7,187.1 L1512.1,186.8 L1513.6,186.4 L1515.0,185.9 L1516.4,185.4 L1517.8,184.8 L1519.2,184.2 L1520.6,183.6 L1522.0,182.9 L1523.3,182.2 L1524.6,181.5 L1526.0,180.7 L1527.3,179.9 L1528.6,179.1 L1529.8,178.3 L1531.1,177.5 L1532.4,176.7 L1533.6,175.8 L1534.9,175.0 L1536.1,174.2 L1537.4,173.4 L1538.7,172.5 L1539.9,171.7 L1541.2,170.9 L1542.5,170.2 L1543.7,169.4 L1545.0,168.7 L1546.3,168.0 L1547.6,167.3 L1549.0,166.7 L1550.3,166.1 L1551.7,165.5 L1553.1,165.0 L1554.5,164.5 L1556.0,164.1 L1557.4,163.8 L1558.9,163.4 L1560.4,163.2 L1562.0,163.0 L1563.5,162.8 L1565.1,162.7 L1566.6,162.7 L1568.2,162.7 L1569.7,162.7 L1571.3,162.9 L1572.8,163.0 L1574.3,163.2 L1575.8,163.5 L1577.2,163.8 L1578.7,164.1 L1580.1,164.5 L1581.5,165.0 L1582.9,165.5 L1584.3,166.0 L1585.7,166.6 L1587.0,167.2 L1588.3,167.8 L1589.6,168.5 L1590.9,169.2 L1592.2,169.9 L1593.5,170.7 L1594.7,171.5 L1595.9,172.3 L1597.1,173.2 L1598.3,174.1 L1599.5,175.0 L1600.7,175.9 L1601.8,176.9 L1602.9,177.9 L1604.1,178.9 L1605.2,179.9 L1606.3,180.9 L1607.3,182.0 L1608.4,183.0 L1609.5,184.1 L1610.5,185.2 L1611.6,186.3 L1612.6,187.4 L1613.6,188.5 L1614.6,189.7 L1615.6,190.8 L1616.6,191.9 L1617.6,193.1 L1618.6,194.2 L1619.6,195.4 L1620.6,196.6 L1621.5,197.7 L1622.5,198.9 L1623.5,200.0 L1624.5,201.2 L1625.5,202.4 L1626.4,203.5 L1627.4,204.7 L1628.4,205.8 L1629.4,207.0 L1630.4,208.1 L1631.4,209.2 L1632.4,210.4 L1633.4,211.5 L1634.4,212.6 L1635.4,213.7 L1636.5,214.7 L1637.5,215.8 L1638.6,216.8 L1639.6,217.9 L1640.7,218.9 L1641.8,219.9 L1642.9,220.9 L1644.0,221.8 L1645.1,222.8 L1646.3,223.7 L1647.5,224.6 L1648.6,225.5 L1649.8,226.3 L1651.0,227.1 L1652.3,227.9 L1653.5,228.7 L1654.8,229.5 L1656.1,230.2 L1657.4,230.9 L1658.8,231.5 L1660.1,232.2 L1661.5,232.8 L1662.8,233.5 L1664.2,234.1 L1665.6,234.7 L1667.0,235.2 L1668.4,235.8 L1669.8,236.4 L1671.2,236.9 L1672.7,237.5 L1674.1,238.0 L1675.5,238.5 L1677.0,239.1 L1678.4,239.6 L1679.8,240.2 L1681.2,240.7 L1682.7,241.3 L1684.1,241.9 L1685.5,242.4 L1686.9,243.0 L1688.3,243.6 L1689.7,244.2 L1691.1,244.9 L1692.4,245.5 L1693.8,246.2 L1695.1,246.9 L1696.4,247.6 L1697.7,248.3 L1699.1,249.0 L1700.3,249.7 L1701.6,250.5 L1702.9,251.3 L1704.2,252.0 L1705.4,252.8 L1706.7,253.6 L1708.0,254.5 L1709.2,255.3 L1710.4,256.1 L1711.7,256.9 L1712.9,257.8 L1714.1,258.6 L1715.3,259.5 L1716.6,260.4 L1717.8,261.2 L1719.0,262.1 L1720.2,263.0 L1721.4,263.9 L1722.6,264.7 L1723.8,265.6 L1725.0,266.5 L1726.2,267.4 L1727.5,268.3 L1728.7,269.2 L1729.9,270.0 L1731.1,270.9 L1732.3,271.8 L1733.6,272.7 L1734.8,273.5 L1736.0,274.4 L1737.3,275.2 L1738.5,276.1 L1739.8,276.9 L1741.0,277.7" stroke="#6699CC" stroke-width="10.2" fill="none" stroke-linejoin="round" shape-rendering="crispEdges"/><path d="M371.5,232.8 L372.9,232.0 L374.3,231.3 L375.8,230.7 L377.2,230.0 L378.6,229.4 L380.0,228.9 L381.5,228.3 L382.9,227.8 L384.4,227.4 L385.8,226.9 L387.3,226.5 L388.8,226.1 L390.2,225.8 L391.7,225.5 L393.2,225.2 L394.6,225.0 L396.1,224.7 L397.6,224.5 L399.1,224.4 L400.6,224.2 L402.1,224.1 L403.5,224.0 L405.0,224.0 L406.5,224.0 L408.0,224.0 L409.5,224.0 L411.0,224.1 L412.5,224.1 L414.0,224.2 L415.4,224.4 L416.9,224.5 L418.4,224.7 L419.9,224.9 L421.4,225.1 L422.8,225.4 L424.3,225.6 L425.8,225.9 L427.3,226.2 L428.7,226.6 L430.2,226.9 L431.6,227.3 L433.1,227.7 L434.5,228.1 L436.0,228.6 L437.4,229.0 L438.9,229.5 L440.3,230.0 L441.7,230.5 L443.1,231.0 L444.5,231.6 L445.9,232.2 L447.3,232.7 L448.7,233.3 L450.1,234.0 L451.5,234.6 L452.8,235.2 L454.2,235.9 L455.6,236.6 L456.9,237.3 L458.2,238.0 L459.6,238.7 L460.9,239.4 L462.2,240.2 L463.5,240.9 L464.8,241.7 L466.0,242.5 L467.3,243.3 L468.5,244.1 L469.8,244.9 L471.0,245.7 L472.2,246.6 L473.5,247.4 L474.7,248.3 L475.9,249.1 L477.0,250.0 L478.2,250.9 L479.4,251.8 L480.6,252.7 L481.7,253.6 L482.9,254.6 L484.0,255.5 L485.1,256.4 L486.2,257.4 L487.4,258.4 L488.5,259.3 L489.6,260.3 L490.7,261.3 L491.8,262.3 L492.8,263.3 L493.9,264.4 L495.0,265.4 L496.0,266.4 L497.1,267.5 L498.1,268.5 L499.2,269.6 L500.2,270.6 L501.3,271.7 L502.3,272.8 L503.3,273.9 L504.3,275.0 L505.4,276.1 L506.4,277.2 L507.4,278.3 L508.4,279.4 L509.4,280.5 L510.4,281.6 L511.4,282.8 L512.4,283.9 L513.3,285.1 L514.3,286.2 L515.3,287.4 L516.3,288.5 L517.3,289.7 L518.2,290.9 L519.2,292.0 L520.2,293.2 L521.2,294.4 L522.1,295.6 L523.1,296.8 L524.1,298.0 L525.0,299.2 L526.0,300.4 L526.9,301.6 L527.9,302.8 L528.9,304.0 L529.8,305.2 L530.8,306.4 L531.8,307.6 L532.7,308.8 L533.7,310.0 L534.7,311.2 L535.7,312.4 L536.6,313.6 L537.6,314.8 L538.6,316.0 L539.6,317.1 L540.6,318.2 L541.7,319.4 L542.7,320.5 L543.7,321.6 L544.8,322.6 L545.8,323.7 L546.9,324.7 L548.0,325.7 L549.1,326.7 L550.2,327.6 L551.3,328.6 L552.5,329.4 L553.6,330.3 L554.8,331.1 L556.0,331.9 L557.2,332.7 L558.5,333.4 L559.7,334.1 L561.0,334.8 L562.3,335.4 L563.6,336.0 L564.9,336.5 L566.3,337.0 L567.6,337.5 L569.0,337.8 L570.5,338.2 L571.9,338.5 L573.4,338.8 L574.9,339.0 L576.4,339.2 L577.9,339.3 L579.4,339.4 L581.0,339.5 L582.5,339.5 L584.1,339.5 L585.6,339.4 L587.2,339.4 L588.7,339.3 L590.3,339.1 L591.9,339.0 L593.4,338.8 L595.0,338.6 L596.5,338.3 L598.0,338.1 L599.6,337.8 L601.1,337.5 L602.6,337.2 L604.0,336.9 L605.5,336.5 L607.0,336.2 L608.4,335.9 L609.9,335.6 L611.3,335.3 L612.8,335.1 L614.2,334.9 L615.6,334.7 L617.1,334.6 L618.5,334.6 L619.9,334.6 L621.4,334.7 L622.8,334.8 L624.3,335.0 L625.7,335.3 L627.2,335.6 L628.6,335.9 L630.1,336.3 L631.5,336.8 L632.9,337.3 L634.4,337.8 L635.8,338.4 L637.2,339.0 L638.6,339.7 L640.0,340.4 L641.4,341.1 L642.7,341.8 L644.1,342.6 L645.4,343.4 L646.7,344.2 L648.0,345.0 L649.3,345.9 L650.6,346.7 L651.8,347.6 L653.1,348.5 L654.3,349.4 L655.4,350.3 L656.6,351.2 L657.8,352.1 L658.9,353.0 L660.0,353.9 L661.2,354.8 L662.3,355.8 L663.4,356.7 L664.5,357.7 L665.6,358.6 L666.8,359.6 L667.9,360.5 L669.0,361.5 L670.2,362.4 L671.4,363.4 L672.6,364.4 L673.8,365.3 L675.0,366.3 L676.2,367.3 L677.5,368.2 L678.8,369.1 L680.1,370.1 L681.4,370.9 L682.7,371.8 L684.0,372.6 L685.4,373.4 L686.7,374.1 L688.1,374.8 L689.5,375.4 L690.8,376.0 L692.2,376.4 L693.6,376.9 L695.0,377.2 L696.4,377.5 L697.8,377.6 L699.3,377.7 L700.7,377.7 L702.1,377.6 L703.5,377.3 L704.9,377.0 L706.3,376.6 L707.7,376.1 L709.1,375.5 L710.5,374.8 L711.8,374.1 L713.1,373.3 L714.4,372.4 L715.7,371.5 L717.0,370.5 L718.2,369.5 L719.3,368.5 L720.5,367.4 L721.6,366.3 L722.6,365.2 L723.7,364.1 L724.7,362.9 L725.6,361.8 L726.6,360.6 L727.5,359.4 L728.4,358.1 L729.3,356.9 L730.1,355.7 L731.0,354.4 L731.8,353.1 L732.6,351.9 L733.4,350.6 L734.2,349.3 L735.0,348.1 L735.8,346.8 L736.6,345.5 L737.4,344.3 L738.1,343.0 L738.9,341.8 L739.7,340.5 L740.5,339.3 L741.2,338.0 L742.0,336.8 L742.8,335.5 L743.5,334.3 L744.3,333.0 L745.1,331.8 L745.8,330.6 L746.6,329.3 L747.4,328.1 L748.1,326.8 L748.9,325.6 L749.7,324.3 L750.4,323.1 L751.2,321.8 L752.0,320.5 L752.8,319.3 L753.5,318.0 L754.3,316.7 L755.1,315.4 L755.9,314.1 L756.7,312.8 L757.5,311.5 L758.3,310.2 L759.1,308.9 L759.9,307.5 L760.7,306.2 L761.5,304.8 L762.3,303.5 L763.2,302.1 L764.0,300.8 L764.9,299.4 L765.7,298.1 L766.6,296.8 L767.4,295.4 L768.3,294.1 L769.2,292.8 L770.1,291.5 L771.0,290.2 L771.9,288.9 L772.9,287.7 L773.8,286.5 L774.8,285.3 L775.8,284.1 L776.7,282.9 L777.7,281.8 L778.8,280.7 L779.8,279.6 L780.8,278.6 L781.9,277.6 L783.0,276.6 L784.1,275.7 L785.2,274.8 L786.3,273.9 L787.5,273.1 L788.7,272.4 L789.9,271.7 L791.1,271.0 L792.3,270.4 L793.6,269.8 L794.8,269.3 L796.1,268.9 L797.5,268.5 L798.8,268.2 L800.2,267.9 L801.6,267.7 L803.0,267.6 L804.5,267.5 L805.9,267.5 L807.4,267.6 L808.9,267.7 L810.4,267.8 L812.0,268.1 L813.5,268.3 L815.0,268.7 L816.5,269.1 L818.1,269.5 L819.6,270.0 L821.1,270.5 L822.6,271.1 L824.1,271.7 L825.6,272.4 L827.0,273.1 L828.5,273.8 L829.9,274.6 L831.4,275.4 L832.8,276.2 L834.2,277.0 L835.6,277.8 L836.9,278.7 L838.3,279.5 L839.7,280.3 L841.0,281.1 L842.4,281.9 L843.7,282.7 L845.1,283.5 L846.4,284.2 L847.7,284.9 L849.1,285.6 L850.4,286.2 L851.7,286.8 L853.0,287.3 L854.3,287.8 L855.7,288.2 L857.0,288.5 L858.3,288.8 L859.6,289.0 L860.9,289.1 L862.2,289.2 L863.6,289.1 L864.9,289.0 L866.2,288.7 L867.5,288.4 L868.9,288.0 L870.2,287.5 L871.5,287.0 L872.9,286.4 L874.2,285.7 L875.6,285.0 L876.9,284.2 L878.2,283.4 L879.6,282.5 L880.9,281.7 L882.2,280.7 L883.5,279.8 L884.9,278.9 L886.2,277.9 L887.5,277.0 L888.8,276.1 L890.1,275.1 L891.4,274.2 L892.7,273.2 L894.0,272.3 L895.3,271.4 L896.5,270.5 L897.8,269.6 L899.1,268.7 L900.4,267.9 L901.7,267.1 L903.0,266.2 L904.3,265.5 L905.6,264.7 L906.9,263.9 L908.2,263.2 L909.5,262.6 L910.8,261.9 L912.2,261.3 L913.5,260.7 L914.8,260.2 L916.2,259.7 L917.6,259.2 L918.9,258.8 L920.3,258.5 L921.7,258.2 L923.1,257.9 L924.6,257.7 L926.0,257.5 L927.5,257.4 L928.9,257.4 L930.4,257.4 L931.9,257.4 L933.4,257.5 L934.9,257.7 L936.4,257.9 L937.9,258.2 L939.4,258.5 L940.9,258.8 L942.4,259.2 L943.9,259.7 L945.4,260.1 L946.8,260.7 L948.2,261.2 L949.6,261.8 L951.0,262.4 L952.4,263.1 L953.7,263.7 L955.0,264.4 L956.3,265.2 L957.6,265.9 L958.9,266.7 L960.1,267.5 L961.4,268.3 L962.6,269.1 L963.9,269.9 L965.1,270.7 L966.4,271.6 L967.6,272.4 L968.9,273.2 L970.1,274.1 L971.4,274.9 L972.6,275.7 L973.9,276.5 L975.2,277.3 L976.5,278.1 L977.8,278.9 L979.2,279.6 L980.5,280.3 L981.9,281.1 L983.3,281.7 L984.7,282.4 L986.1,283.0 L987.5,283.6 L989.0,284.2 L990.4,284.7 L991.9,285.2 L993.3,285.6 L994.8,286.0 L996.3,286.3 L997.7,286.6 L999.2,286.8 L1000.7,287.0 L1002.1,287.1 L1003.6,287.2 L1005.0,287.2 L1006.4,287.1 L1007.8,287.0 L1009.2,286.8 L1010.6,286.5 L1012.0,286.2 L1013.3,285.8 L1014.7,285.3 L1016.0,284.7 L1017.3,284.0 L1018.5,283.3 L1019.8,282.4 L1021.0,281.5 L1022.1,280.4 L1023.3,279.3 L1024.4,278.1 L1025.5,276.9 L1026.5,275.6 L1027.6,274.3 L1028.6,273.0 L1029.6,271.8 L1030.5,270.5 L1031.5,269.3 L1032.4,268.1 L1033.3,266.9 L1034.2,265.7 L1035.2,264.6 L1036.1,263.4 L1037.0,262.3 L1038.0,261.2 L1039.0,260.2 L1040.0,259.1 L1041.0,258.0 L1042.1,256.9 L1043.2,255.9 L1044.4,254.8 L1045.6,253.7 L1046.8,252.7 L1048.1,251.8 L1049.4,251.0 L1050.6,250.4 L1051.8,250.0 L1052.9,249.9 L1053.8,250.3 L1054.7,250.9 L1055.5,251.8 L1056.3,253.0 L1057.0,254.3 L1057.7,255.8 L1058.4,257.4 L1059.1,259.0 L1059.8,260.6 L1060.6,262.2 L1061.5,263.6 L1062.5,264.9 L1063.6,266.0 L1064.7,266.9 L1065.8,267.6 L1067.0,267.9 L1068.1,267.9 L1069.2,267.5 L1070.2,266.9 L1071.3,266.0 L1072.2,264.8 L1073.1,263.5 L1073.9,262.0 L1074.6,260.5 L1075.2,258.9 L1075.8,257.3 L1076.2,255.8 L1076.6,254.2 L1076.9,252.7 L1077.2,251.1 L1077.4,249.6 L1077.7,248.1 L1077.9,246.5 L1078.2,245.0 L1078.4,243.6 L1078.8,242.1 L1079.1,240.6 L1079.6,239.2 L1080.1,237.7 L1080.8,236.3 L1081.5,234.9 L1082.3,233.6 L1083.2,232.4 L1084.2,231.2 L1085.2,230.1 L1086.3,229.2 L1087.5,228.4 L1088.7,227.7 L1089.9,227.2 L1091.3,226.9 L1092.6,226.8 L1094.0,226.9 L1095.4,227.2 L1096.8,227.6 L1098.2,228.2 L1099.6,228.9 L1101.0,229.6 L1102.4,230.5 L1103.7,231.4 L1104.9,232.3 L1106.2,233.3 L1107.4,234.3 L1108.6,235.3 L1109.8,236.4 L1110.9,237.4 L1112.1,238.5 L1113.2,239.5 L1114.4,240.5 L1115.5,241.5 L1116.7,242.5 L1117.9,243.4 L1119.1,244.2 L1120.3,245.0 L1121.6,245.7 L1122.9,246.4 L1124.2,246.9 L1125.5,247.4 L1126.9,247.8 L1128.4,248.0 L1129.9,248.1 L1131.4,248.2 L1132.9,248.2 L1134.5,248.1 L1136.0,247.9 L1137.6,247.7 L1139.1,247.4 L1140.6,247.1 L1142.1,246.7 L1143.6,246.4 L1145.1,246.0 L1146.5,245.5 L1148.0,245.0 L1149.4,244.6 L1150.8,244.0 L1152.2,243.5 L1153.6,243.0 L1155.0,242.4 L1156.4,241.8 L1157.8,241.3 L1159.1,240.7 L1160.5,240.1 L1161.9,239.5 L1163.2,238.9 L1164.6,238.4 L1166.0,237.8 L1167.3,237.3 L1168.7,236.7 L1170.1,236.2 L1171.5,235.7 L1172.8,235.2 L1174.2,234.8 L1175.6,234.4 L1177.0,234.0 L1178.5,233.6 L1179.9,233.3 L1181.3,233.0 L1182.8,232.8 L1184.2,232.6 L1185.7,232.4 L1187.2,232.2 L1188.7,232.1 L1190.2,232.0 L1191.7,232.0 L1193.2,232.0 L1194.7,231.9 L1196.2,231.9 L1197.7,231.9 L1199.3,232.0 L1200.8,232.0 L1202.3,232.0 L1203.9,232.0 L1205.4,232.1 L1206.9,232.1 L1208.4,232.1 L1210.0,232.1 L1211.5,232.1 L1213.0,232.1 L1214.5,232.1 L1216.0,232.0 L1217.5,232.0 L1219.0,231.9 L1220.5,231.7 L1221.9,231.6 L1223.4,231.4 L1224.8,231.1 L1226.3,230.9 L1227.7,230.5 L1229.1,230.2 L1230.5,229.8 L1231.9,229.3 L1233.2,228.8 L1234.5,228.2 L1235.9,227.6 L1237.2,226.9 L1238.5,226.2 L1239.7,225.4 L1241.0,224.5 L1242.2,223.7 L1243.5,222.8 L1244.7,221.8 L1245.9,220.9 L1247.1,219.9 L1248.3,218.9 L1249.6,217.9 L1250.8,216.9 L1252.0,215.9 L1253.2,214.9 L1254.4,213.9 L1255.6,213.0 L1256.9,212.0 L1258.1,211.0 L1259.3,210.1 L1260.6,209.2 L1261.9,208.4 L1263.1,207.6 L1264.5,206.8 L1265.8,206.1 L1267.1,205.4 L1268.5,204.8 L1269.8,204.2 L1271.2,203.7 L1272.6,203.3 L1274.0,202.8 L1275.5,202.4 L1276.9,202.1 L1278.4,201.8 L1279.9,201.5 L1281.3,201.2 L1282.8,201.0 L1284.3,200.7 L1285.8,200.5 L1287.3,200.4 L1288.8,200.2 L1290.4,200.1 L1291.9,199.9 L1293.4,199.8 L1294.9,199.6 L1296.4,199.5 L1298.0,199.4 L1299.5,199.3 L1301.0,199.1 L1302.5,199.0 L1304.0,198.8 L1305.6,198.7 L1307.1,198.5 L1308.6,198.3 L1310.1,198.1 L1311.6,197.9 L1313.1,197.7 L1314.5,197.5 L1316.0,197.2 L1317.5,196.9 L1319.0,196.7 L1320.4,196.4 L1321.9,196.0 L1323.3,195.7 L1324.8,195.3 L1326.2,194.9 L1327.6,194.5 L1329.1,194.0 L1330.5,193.6 L1331.9,193.1 L1333.3,192.5 L1334.6,192.0 L1336.0,191.4 L1337.4,190.8 L1338.7,190.2 L1340.1,189.5 L1341.4,188.8 L1342.7,188.1 L1344.0,187.4 L1345.4,186.7 L1346.6,185.9 L1347.9,185.1 L1349.2,184.3 L1350.5,183.5 L1351.7,182.7 L1353.0,181.8 L1354.2,181.0 L1355.4,180.1 L1356.7,179.2 L1357.9,178.3 L1359.1,177.3 L1360.3,176.4 L1361.4,175.4 L1362.6,174.5 L1363.8,173.5 L1364.9,172.5 L1366.0,171.5 L1367.2,170.5 L1368.3,169.5 L1369.4,168.4 L1370.5,167.4 L1371.6,166.4 L1372.6,165.3 L1373.7,164.3 L1374.7,163.2 L1375.8,162.1 L1376.8,161.1 L1377.9,160.0 L1378.9,158.9 L1379.9,157.8 L1380.9,156.7 L1381.9,155.6 L1382.9,154.6 L1383.9,153.5 L1384.9,152.4 L1386.0,151.3 L1387.0,150.2 L1388.0,149.1 L1389.0,148.0 L1390.0,146.9 L1391.0,145.9 L1392.0,144.8 L1393.0,143.7 L1394.0,142.6 L1395.1,141.6 L1396.1,140.5 L1397.1,139.4 L1398.2,138.4 L1399.3,137.3 L1400.3,136.3 L1401.4,135.3 L1402.5,134.2 L1403.6,133.2 L1404.7,132.2 L1405.8,131.2 L1407.0,130.3 L1408.1,129.3 L1409.3,128.3 L1410.5,127.4 L1411.7,126.4 L1412.9,125.5 L1414.1,124.6 L1415.4,123.7 L1416.7,122.8 L1418.0,122.0 L1419.3,121.1 L1420.6,120.3 L1421.9,119.5 L1423.2,118.7 L1424.6,118.0 L1425.9,117.3 L1427.3,116.6 L1428.7,115.9 L1430.1,115.3 L1431.5,114.7 L1432.9,114.2 L1434.3,113.7 L1435.7,113.2 L1437.1,112.8 L1438.6,112.4 L1440.0,112.0 L1441.4,111.7 L1442.9,111.5 L1444.3,111.3 L1445.7,111.1 L1447.2,111.0 L1448.6,111.0 L1450.1,111.0 L1451.5,111.0 L1453.0,111.1 L1454.4,111.2 L1455.8,111.3 L1457.3,111.5 L1458.7,111.7 L1460.2,112.0 L1461.7,112.2 L1463.1,112.5 L1464.6,112.8 L1466.0,113.2 L1467.5,113.5 L1468.9,113.9 L1470.4,114.3 L1471.9,114.6 L1473.4,115.0 L1474.8,115.5 L1476.3,115.9 L1477.8,116.3 L1479.3,116.7 L1480.7,117.1 L1482.2,117.5 L1483.7,117.9 L1485.2,118.3 L1486.7,118.6 L1488.2,119.0 L1489.7,119.3 L1491.2,119.6 L1492.7,119.9 L1494.2,120.2 L1495.7,120.5 L1497.2,120.7 L1498.8,120.9 L1500.3,121.0 L1501.8,121.2 L1503.3,121.2 L1504.7,121.3 L1506.2,121.3 L1507.7,121.2 L1509.1,121.1 L1510.6,120.9 L1512.0,120.7 L1513.4,120.4 L1514.8,120.1 L1516.1,119.7 L1517.5,119.2 L1518.8,118.6 L1520.1,118.0 L1521.3,117.4 L1522.6,116.7 L1523.9,115.9 L1525.1,115.2 L1526.4,114.4 L1527.6,113.6 L1528.9,112.8 L1530.2,111.9 L1531.5,111.1 L1532.8,110.3 L1534.1,109.5 L1535.5,108.8 L1536.8,108.0 L1538.2,107.3 L1539.6,106.6 L1541.0,105.9 L1542.4,105.2 L1543.9,104.6 L1545.3,104.0 L1546.8,103.4 L1548.2,102.8 L1549.7,102.2 L1551.2,101.7 L1552.7,101.3 L1554.2,100.8 L1555.6,100.4 L1557.1,100.0 L1558.6,99.7 L1560.1,99.3 L1561.6,99.1 L1563.1,98.8 L1564.6,98.6 L1566.1,98.5 L1567.6,98.3 L1569.1,98.3 L1570.5,98.2 L1572.0,98.2 L1573.5,98.3 L1574.9,98.4 L1576.3,98.6 L1577.8,98.8 L1579.2,99.0 L1580.6,99.3 L1582.0,99.7 L1583.3,100.1 L1584.7,100.5 L1586.0,101.0 L1587.3,101.6 L1588.7,102.2 L1590.0,102.8 L1591.2,103.5 L1592.5,104.2 L1593.8,105.0 L1595.0,105.8 L1596.2,106.6 L1597.5,107.4 L1598.7,108.3 L1599.9,109.2 L1601.1,110.2 L1602.2,111.1 L1603.4,112.1 L1604.6,113.1 L1605.7,114.1 L1606.8,115.2 L1608.0,116.3 L1609.1,117.3 L1610.2,118.4 L1611.3,119.5 L1612.4,120.6 L1613.4,121.7 L1614.5,122.8 L1615.6,124.0 L1616.6,125.1 L1617.7,126.2 L1618.7,127.4 L1619.7,128.5 L1620.8,129.6 L1621.8,130.8 L1622.8,131.9 L1623.9,133.0 L1624.9,134.2 L1625.9,135.3 L1626.9,136.4 L1628.0,137.5 L1629.0,138.7 L1630.0,139.8 L1631.0,140.9 L1632.1,142.0 L1633.1,143.1 L1634.1,144.1 L1635.2,145.2 L1636.2,146.3 L1637.3,147.3 L1638.3,148.4 L1639.4,149.4 L1640.5,150.4 L1641.5,151.4 L1642.6,152.4 L1643.7,153.4 L1644.9,154.3 L1646.0,155.3 L1647.1,156.2 L1648.3,157.1 L1649.4,158.0 L1650.6,158.8 L1651.8,159.7 L1653.0,160.5 L1654.2,161.3 L1655.5,162.1 L1656.7,162.8 L1658.0,163.5 L1659.3,164.3 L1660.6,164.9 L1661.9,165.6 L1663.3,166.2 L1664.6,166.8 L1666.0,167.4 L1667.4,168.0 L1668.8,168.5 L1670.2,169.1 L1671.7,169.6 L1673.1,170.1 L1674.5,170.6 L1676.0,171.1 L1677.4,171.6 L1678.9,172.1 L1680.3,172.6 L1681.8,173.1 L1683.2,173.6 L1684.7,174.1 L1686.1,174.6 L1687.5,175.1 L1689.0,175.7 L1690.4,176.2 L1691.8,176.8 L1693.2,177.4 L1694.5,178.0 L1695.9,178.6 L1697.3,179.3 L1698.6,179.9 L1699.9,180.6 L1701.3,181.3 L1702.6,182.0 L1703.9,182.7 L1705.2,183.4 L1706.5,184.1 L1707.8,184.9 L1709.0,185.6 L1710.3,186.4 L1711.6,187.2 L1712.8,188.0 L1714.1,188.8 L1715.3,189.6 L1716.6,190.4 L1717.8,191.2 L1719.1,192.0 L1720.3,192.8 L1721.6,193.7 L1722.8,194.5 L1724.0,195.3 L1725.3,196.2 L1726.5,197.0 L1727.7,197.9 L1729.0,198.7 L1730.2,199.6 L1731.4,200.4 L1732.7,201.3 L1733.9,202.1 L1735.2,203.0 L1736.4,203.8 L1737.7,204.7 L1738.9,205.5 L1740.2,206.4 L1741.5,207.2" stroke="#C86400" stroke-width="10.2" fill="none" stroke-linejoin="round" shape-rendering="crispEdges"/></g>
<rect x="199" y="27" width="1627" height="1295.5" fill="none" stroke="#000" stroke-width="10"/>
<rect x="295.5" y="1309" width="10" height="9" fill="#000"/><rect x="397.2" y="1297" width="10" height="21" fill="#000"/><rect x="498.9" y="1309" width="10" height="9" fill="#000"/><rect x="600.6" y="1297" width="10" height="21" fill="#000"/><rect x="702.3" y="1309" width="10" height="9" fill="#000"/><rect x="804.0" y="1297" width="10" height="21" fill="#000"/><rect x="905.7" y="1309" width="10" height="9" fill="#000"/><rect x="1007.4" y="1297" width="10" height="21" fill="#000"/><rect x="1109.1" y="1309" width="10" height="9" fill="#000"/><rect x="1210.8" y="1297" width="10" height="21" fill="#000"/><rect x="1312.5" y="1309" width="10" height="9" fill="#000"/><rect x="1414.2" y="1297" width="10" height="21" fill="#000"/><rect x="1515.9" y="1309" width="10" height="9" fill="#000"/><rect x="1617.6" y="1297" width="10" height="21" fill="#000"/><rect x="1719.3" y="1309" width="10" height="9" fill="#000"/>
<g font-family="Liberation Sans, Arial, sans-serif" font-size="55.7" fill="#000"><text x="198.8" y="1393.6" text-anchor="middle">2550</text><text x="402.2" y="1393.6" text-anchor="middle">2500</text><text x="605.6" y="1393.6" text-anchor="middle">2450</text><text x="809.0" y="1393.6" text-anchor="middle">2400</text><text x="1012.4" y="1393.6" text-anchor="middle">2350</text><text x="1215.8" y="1393.6" text-anchor="middle">2300</text><text x="1419.2" y="1393.6" text-anchor="middle">2250</text><text x="1622.6" y="1393.6" text-anchor="middle">2200</text><text x="1826.0" y="1393.6" text-anchor="middle">2150</text></g>
<g font-family="Liberation Sans, Arial, sans-serif" font-weight="bold" fill="#000"><text transform="translate(1759.39,217.82) scale(1.0446,1)" font-size="47.98">(i)</text><text transform="translate(1756.38,345.85) scale(1.0515,1)" font-size="47.87">(g)</text><text transform="translate(1749.60,416.85) scale(1.0426,1)" font-size="47.87">(e)</text><text transform="translate(1754.71,484.82) scale(1.0365,1)" font-size="47.98">(c)</text><text transform="translate(1749.39,944.87) scale(1.0505,1)" font-size="47.77">(a)</text><text transform="translate(276.30,318.90) scale(1.0416,1)" font-size="48.09">(h)</text><text transform="translate(286.39,392.75) scale(1.0491,1)" font-size="47.87">(f)</text><text transform="translate(278.26,487.32) scale(1.0565,1)" font-size="49.89">(d)</text><text transform="translate(275.27,547.42) scale(1.0548,1)" font-size="49.89">(b)</text></g>
<g font-family="Liberation Sans, Arial, sans-serif" fill="#000"><text transform="translate(706.32,1511) scale(0.9990,1)" font-size="68.5">Wavenumber (cm</text><text transform="translate(1242.50,1486.3)" font-size="46">&#8722;</text><text transform="translate(1270.20,1482.8)" font-size="46">1</text><text transform="translate(1298.12,1511) scale(0.9990,1)" font-size="68.5">)</text><text transform="translate(82,976.35) rotate(-90) scale(0.9943,1)" font-size="68">Transmittance (a.u.)</text></g>
</svg></body></html>
